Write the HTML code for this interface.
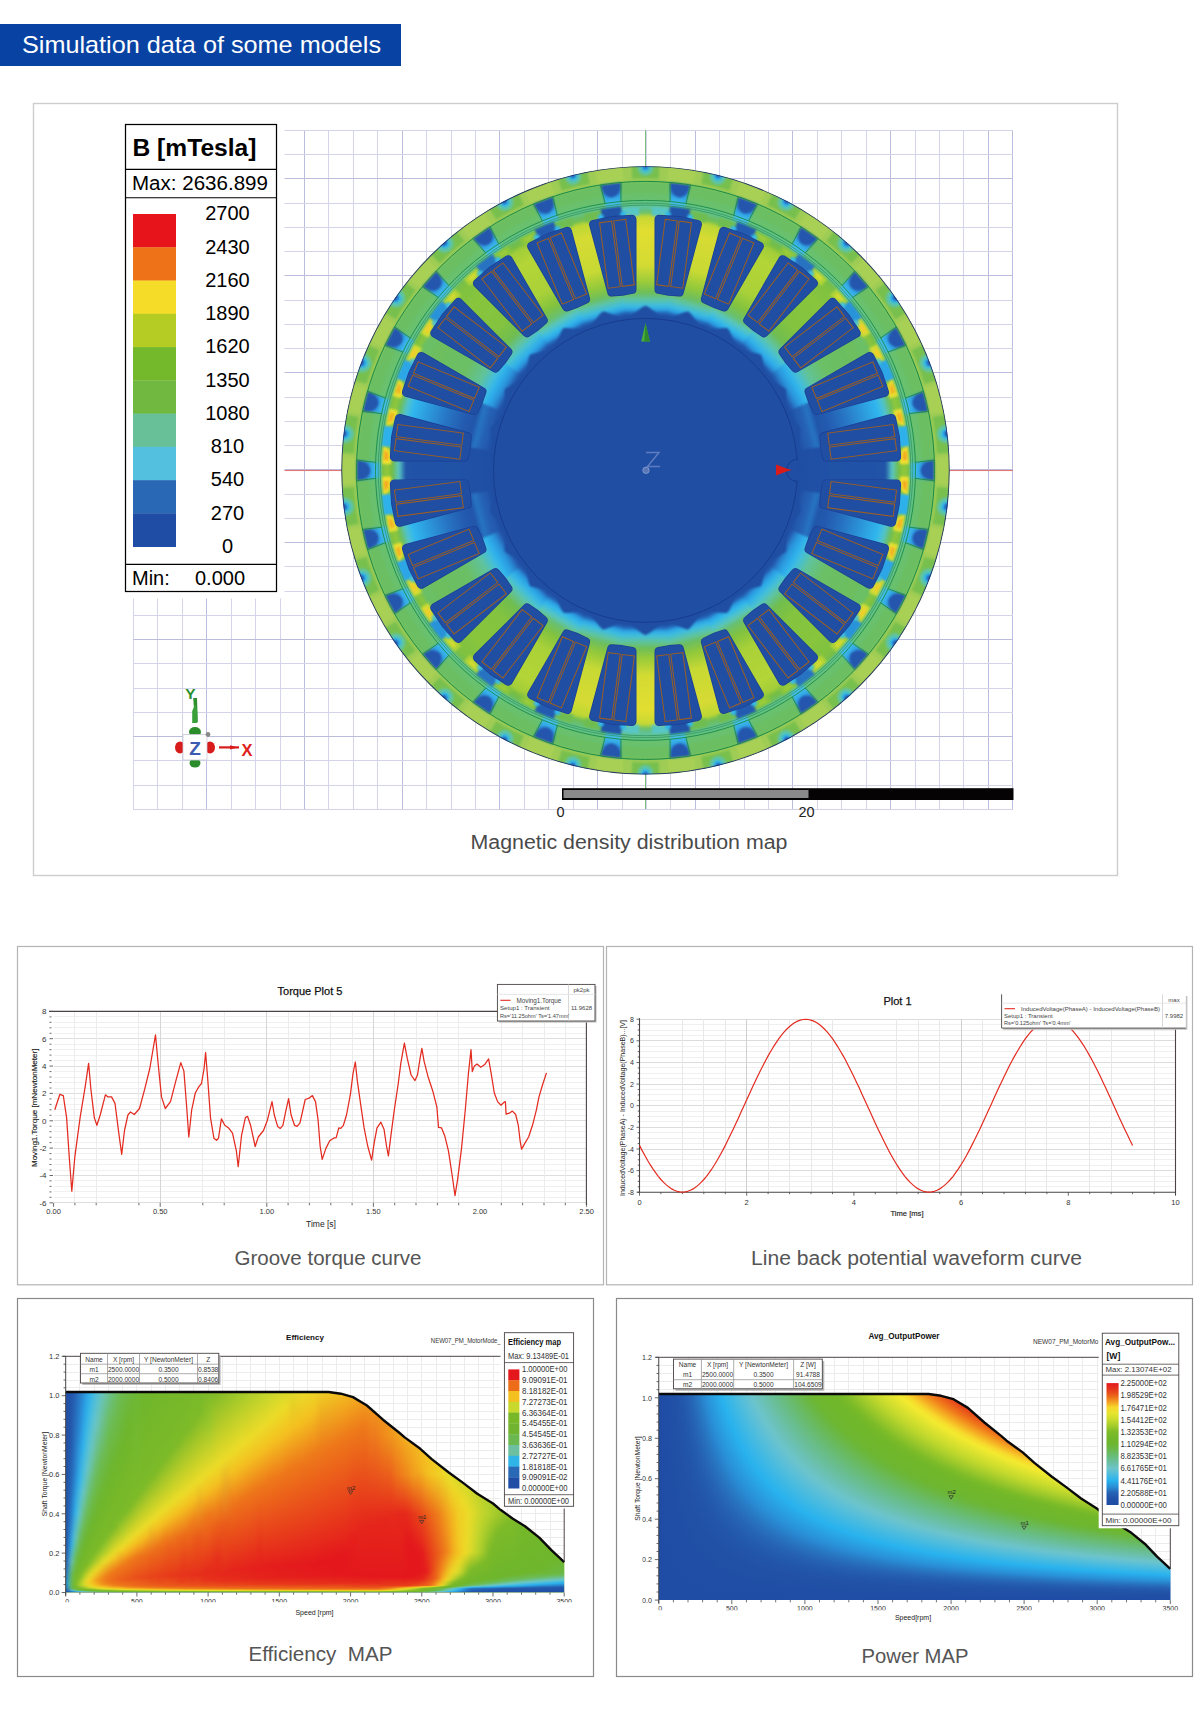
<!DOCTYPE html>
<html><head><meta charset="utf-8"><title>Simulation data of some models</title>
<style>
html,body{margin:0;padding:0;background:#fff;}
body{width:1200px;height:1722px;overflow:hidden;font-family:"Liberation Sans",sans-serif;}
svg{position:absolute;left:0;top:0;display:block;}
text{font-family:"Liberation Sans",sans-serif;}
</style></head><body>
<svg width="1200" height="1722" viewBox="0 0 1200 1722">
<rect x="0" y="0" width="1200" height="1722" fill="#fff"/>
<!-- title banner -->
<rect x="0" y="24" width="401" height="42" fill="#0843a3"/>
<text x="22" y="52.5" font-size="24" fill="#fff" textLength="359" lengthAdjust="spacingAndGlyphs">Simulation data of some models</text>
<rect x="33.5" y="103.5" width="1084" height="772" fill="#fff" stroke="#cdcdcd" stroke-width="1.4"/><g shape-rendering="crispEdges"><line x1="133.4" y1="130.3" x2="133.4" y2="809.4" stroke="#d3d3ea" stroke-width="1"/><line x1="157.8" y1="130.3" x2="157.8" y2="809.4" stroke="#d3d3ea" stroke-width="1"/><line x1="182.3" y1="130.3" x2="182.3" y2="809.4" stroke="#d3d3ea" stroke-width="1"/><line x1="206.7" y1="130.3" x2="206.7" y2="809.4" stroke="#bcbcdd" stroke-width="1"/><line x1="231.1" y1="130.3" x2="231.1" y2="809.4" stroke="#d3d3ea" stroke-width="1"/><line x1="255.5" y1="130.3" x2="255.5" y2="809.4" stroke="#d3d3ea" stroke-width="1"/><line x1="280" y1="130.3" x2="280" y2="809.4" stroke="#d3d3ea" stroke-width="1"/><line x1="304.4" y1="130.3" x2="304.4" y2="809.4" stroke="#bcbcdd" stroke-width="1"/><line x1="328.8" y1="130.3" x2="328.8" y2="809.4" stroke="#d3d3ea" stroke-width="1"/><line x1="353.2" y1="130.3" x2="353.2" y2="809.4" stroke="#d3d3ea" stroke-width="1"/><line x1="377.7" y1="130.3" x2="377.7" y2="809.4" stroke="#d3d3ea" stroke-width="1"/><line x1="402.1" y1="130.3" x2="402.1" y2="809.4" stroke="#bcbcdd" stroke-width="1"/><line x1="426.5" y1="130.3" x2="426.5" y2="809.4" stroke="#d3d3ea" stroke-width="1"/><line x1="451" y1="130.3" x2="451" y2="809.4" stroke="#d3d3ea" stroke-width="1"/><line x1="475.4" y1="130.3" x2="475.4" y2="809.4" stroke="#d3d3ea" stroke-width="1"/><line x1="499.8" y1="130.3" x2="499.8" y2="809.4" stroke="#bcbcdd" stroke-width="1"/><line x1="524.2" y1="130.3" x2="524.2" y2="809.4" stroke="#d3d3ea" stroke-width="1"/><line x1="548.7" y1="130.3" x2="548.7" y2="809.4" stroke="#d3d3ea" stroke-width="1"/><line x1="573.1" y1="130.3" x2="573.1" y2="809.4" stroke="#d3d3ea" stroke-width="1"/><line x1="597.5" y1="130.3" x2="597.5" y2="809.4" stroke="#bcbcdd" stroke-width="1"/><line x1="622" y1="130.3" x2="622" y2="809.4" stroke="#d3d3ea" stroke-width="1"/><line x1="646.4" y1="130.3" x2="646.4" y2="809.4" stroke="#d3d3ea" stroke-width="1"/><line x1="670.8" y1="130.3" x2="670.8" y2="809.4" stroke="#d3d3ea" stroke-width="1"/><line x1="695.2" y1="130.3" x2="695.2" y2="809.4" stroke="#bcbcdd" stroke-width="1"/><line x1="719.7" y1="130.3" x2="719.7" y2="809.4" stroke="#d3d3ea" stroke-width="1"/><line x1="744.1" y1="130.3" x2="744.1" y2="809.4" stroke="#d3d3ea" stroke-width="1"/><line x1="768.5" y1="130.3" x2="768.5" y2="809.4" stroke="#d3d3ea" stroke-width="1"/><line x1="792.9" y1="130.3" x2="792.9" y2="809.4" stroke="#bcbcdd" stroke-width="1"/><line x1="817.4" y1="130.3" x2="817.4" y2="809.4" stroke="#d3d3ea" stroke-width="1"/><line x1="841.8" y1="130.3" x2="841.8" y2="809.4" stroke="#d3d3ea" stroke-width="1"/><line x1="866.2" y1="130.3" x2="866.2" y2="809.4" stroke="#d3d3ea" stroke-width="1"/><line x1="890.7" y1="130.3" x2="890.7" y2="809.4" stroke="#bcbcdd" stroke-width="1"/><line x1="915.1" y1="130.3" x2="915.1" y2="809.4" stroke="#d3d3ea" stroke-width="1"/><line x1="939.5" y1="130.3" x2="939.5" y2="809.4" stroke="#d3d3ea" stroke-width="1"/><line x1="963.9" y1="130.3" x2="963.9" y2="809.4" stroke="#d3d3ea" stroke-width="1"/><line x1="988.4" y1="130.3" x2="988.4" y2="809.4" stroke="#bcbcdd" stroke-width="1"/><line x1="1012.8" y1="130.3" x2="1012.8" y2="809.4" stroke="#bcbcdd" stroke-width="1"/><line x1="133.4" y1="130.3" x2="1012.8" y2="130.3" stroke="#d3d3ea" stroke-width="1"/><line x1="133.4" y1="154.6" x2="1012.8" y2="154.6" stroke="#d3d3ea" stroke-width="1"/><line x1="133.4" y1="178.8" x2="1012.8" y2="178.8" stroke="#bcbcdd" stroke-width="1"/><line x1="133.4" y1="203.1" x2="1012.8" y2="203.1" stroke="#d3d3ea" stroke-width="1"/><line x1="133.4" y1="227.3" x2="1012.8" y2="227.3" stroke="#d3d3ea" stroke-width="1"/><line x1="133.4" y1="251.6" x2="1012.8" y2="251.6" stroke="#d3d3ea" stroke-width="1"/><line x1="133.4" y1="275.8" x2="1012.8" y2="275.8" stroke="#bcbcdd" stroke-width="1"/><line x1="133.4" y1="300.1" x2="1012.8" y2="300.1" stroke="#d3d3ea" stroke-width="1"/><line x1="133.4" y1="324.3" x2="1012.8" y2="324.3" stroke="#d3d3ea" stroke-width="1"/><line x1="133.4" y1="348.6" x2="1012.8" y2="348.6" stroke="#d3d3ea" stroke-width="1"/><line x1="133.4" y1="372.8" x2="1012.8" y2="372.8" stroke="#bcbcdd" stroke-width="1"/><line x1="133.4" y1="397.1" x2="1012.8" y2="397.1" stroke="#d3d3ea" stroke-width="1"/><line x1="133.4" y1="421.3" x2="1012.8" y2="421.3" stroke="#d3d3ea" stroke-width="1"/><line x1="133.4" y1="445.6" x2="1012.8" y2="445.6" stroke="#d3d3ea" stroke-width="1"/><line x1="133.4" y1="469.8" x2="1012.8" y2="469.8" stroke="#bcbcdd" stroke-width="1"/><line x1="133.4" y1="494.1" x2="1012.8" y2="494.1" stroke="#d3d3ea" stroke-width="1"/><line x1="133.4" y1="518.4" x2="1012.8" y2="518.4" stroke="#d3d3ea" stroke-width="1"/><line x1="133.4" y1="542.6" x2="1012.8" y2="542.6" stroke="#bcbcdd" stroke-width="1"/><line x1="133.4" y1="566.9" x2="1012.8" y2="566.9" stroke="#d3d3ea" stroke-width="1"/><line x1="133.4" y1="591.1" x2="1012.8" y2="591.1" stroke="#d3d3ea" stroke-width="1"/><line x1="133.4" y1="615.4" x2="1012.8" y2="615.4" stroke="#d3d3ea" stroke-width="1"/><line x1="133.4" y1="639.6" x2="1012.8" y2="639.6" stroke="#bcbcdd" stroke-width="1"/><line x1="133.4" y1="663.9" x2="1012.8" y2="663.9" stroke="#d3d3ea" stroke-width="1"/><line x1="133.4" y1="688.1" x2="1012.8" y2="688.1" stroke="#d3d3ea" stroke-width="1"/><line x1="133.4" y1="712.4" x2="1012.8" y2="712.4" stroke="#d3d3ea" stroke-width="1"/><line x1="133.4" y1="736.6" x2="1012.8" y2="736.6" stroke="#bcbcdd" stroke-width="1"/><line x1="133.4" y1="760.9" x2="1012.8" y2="760.9" stroke="#d3d3ea" stroke-width="1"/><line x1="133.4" y1="785.1" x2="1012.8" y2="785.1" stroke="#d3d3ea" stroke-width="1"/><line x1="133.4" y1="809.4" x2="1012.8" y2="809.4" stroke="#d3d3ea" stroke-width="1"/></g><line x1="133" y1="470.54999999999995" x2="1013" y2="470.54999999999995" stroke="#e0706c" stroke-width="1"/><line x1="645.5" y1="130" x2="645.5" y2="809" stroke="#78c078" stroke-width="1"/><rect x="120" y="118" width="164.5" height="480.5" fill="#fff"/><defs><filter id="mb" filterUnits="userSpaceOnUse" x="330" y="155" width="632" height="632" color-interpolation-filters="sRGB"><feGaussianBlur stdDeviation="1.3"/></filter><filter id="mb2" filterUnits="userSpaceOnUse" x="330" y="155" width="632" height="632" color-interpolation-filters="sRGB"><feGaussianBlur stdDeviation="2.2"/></filter><clipPath id="mclip"><circle cx="645.5" cy="470.4" r="304.2"/></clipPath><linearGradient id="tg0" gradientUnits="userSpaceOnUse" x1="645.5" y1="205.39999999999998" x2="645.5" y2="320.4"><stop offset="0" stop-color="#5cc4af"/><stop offset="0.06" stop-color="#69c06a"/><stop offset="0.1" stop-color="#c7d934"/><stop offset="0.16" stop-color="#d4db33"/><stop offset="0.22" stop-color="#e2de31"/><stop offset="0.52" stop-color="#d4db33"/><stop offset="0.67" stop-color="#99cb3a"/><stop offset="0.76" stop-color="#6dbe59"/><stop offset="0.81" stop-color="#60c39a"/><stop offset="0.87" stop-color="#40bedf"/><stop offset="0.91" stop-color="#2ca3e4"/><stop offset="0.93" stop-color="#2670c0"/><stop offset="0.96" stop-color="#1f4ea3"/></linearGradient><linearGradient id="tg1" gradientUnits="userSpaceOnUse" x1="645.5" y1="205.39999999999998" x2="645.5" y2="320.4"><stop offset="0" stop-color="#64c184"/><stop offset="0.06" stop-color="#6ebd54"/><stop offset="0.1" stop-color="#bdd735"/><stop offset="0.16" stop-color="#c8d934"/><stop offset="0.22" stop-color="#d6db33"/><stop offset="0.52" stop-color="#c8d934"/><stop offset="0.67" stop-color="#91c83b"/><stop offset="0.76" stop-color="#6cbe5f"/><stop offset="0.81" stop-color="#5ec4a3"/><stop offset="0.87" stop-color="#3dbce2"/><stop offset="0.91" stop-color="#2ba1e3"/><stop offset="0.93" stop-color="#266ebf"/><stop offset="0.96" stop-color="#1f4ea3"/></linearGradient><linearGradient id="tg2" gradientUnits="userSpaceOnUse" x1="645.5" y1="205.39999999999998" x2="645.5" y2="320.4"><stop offset="0" stop-color="#6abf65"/><stop offset="0.06" stop-color="#75bd43"/><stop offset="0.1" stop-color="#a3ce39"/><stop offset="0.16" stop-color="#aad138"/><stop offset="0.22" stop-color="#b4d537"/><stop offset="0.52" stop-color="#aad138"/><stop offset="0.67" stop-color="#81c23f"/><stop offset="0.76" stop-color="#68c070"/><stop offset="0.81" stop-color="#59c6bd"/><stop offset="0.87" stop-color="#33b9ec"/><stop offset="0.91" stop-color="#2a9ae0"/><stop offset="0.93" stop-color="#2669bb"/><stop offset="0.96" stop-color="#1f4ea3"/></linearGradient><linearGradient id="tg3" gradientUnits="userSpaceOnUse" x1="645.5" y1="205.39999999999998" x2="645.5" y2="320.4"><stop offset="0" stop-color="#6fbd53"/><stop offset="0.06" stop-color="#80c140"/><stop offset="0.1" stop-color="#81c23f"/><stop offset="0.16" stop-color="#83c33f"/><stop offset="0.22" stop-color="#88c53d"/><stop offset="0.52" stop-color="#83c33f"/><stop offset="0.67" stop-color="#6fbd50"/><stop offset="0.76" stop-color="#5ec4a7"/><stop offset="0.81" stop-color="#46c0d8"/><stop offset="0.87" stop-color="#2eacea"/><stop offset="0.91" stop-color="#298ad4"/><stop offset="0.93" stop-color="#2560b4"/><stop offset="0.96" stop-color="#1f4ea3"/></linearGradient><linearGradient id="tg4" gradientUnits="userSpaceOnUse" x1="645.5" y1="205.39999999999998" x2="645.5" y2="320.4"><stop offset="0" stop-color="#72bc45"/><stop offset="0.06" stop-color="#88c53d"/><stop offset="0.1" stop-color="#6bbf64"/><stop offset="0.16" stop-color="#6bbf65"/><stop offset="0.22" stop-color="#6cbe5e"/><stop offset="0.52" stop-color="#6bbf65"/><stop offset="0.67" stop-color="#60c39a"/><stop offset="0.76" stop-color="#42bedc"/><stop offset="0.81" stop-color="#2fb1ec"/><stop offset="0.87" stop-color="#2a96dc"/><stop offset="0.91" stop-color="#2774c3"/><stop offset="0.93" stop-color="#245cb0"/><stop offset="0.96" stop-color="#1f4ea3"/></linearGradient><linearGradient id="tg5" gradientUnits="userSpaceOnUse" x1="645.5" y1="205.39999999999998" x2="645.5" y2="320.4"><stop offset="0" stop-color="#77be43"/><stop offset="0.06" stop-color="#8fc73c"/><stop offset="0.1" stop-color="#6ebe55"/><stop offset="0.16" stop-color="#50c3cd"/><stop offset="0.22" stop-color="#30b6ef"/><stop offset="0.52" stop-color="#2774c3"/><stop offset="0.67" stop-color="#235bb0"/><stop offset="0.76" stop-color="#2155aa"/><stop offset="0.81" stop-color="#2774c3"/><stop offset="0.87" stop-color="#2560b4"/><stop offset="0.91" stop-color="#235baf"/><stop offset="0.93" stop-color="#2155aa"/><stop offset="0.96" stop-color="#1f4ea3"/></linearGradient><linearGradient id="tg6" gradientUnits="userSpaceOnUse" x1="645.5" y1="205.39999999999998" x2="645.5" y2="320.4"><stop offset="0" stop-color="#78be42"/><stop offset="0.06" stop-color="#92c83b"/><stop offset="0.1" stop-color="#72bc44"/><stop offset="0.16" stop-color="#58c6c4"/><stop offset="0.22" stop-color="#2153a7"/><stop offset="0.52" stop-color="#2052a7"/><stop offset="0.67" stop-color="#2052a6"/><stop offset="0.76" stop-color="#2051a6"/><stop offset="0.81" stop-color="#2050a5"/><stop offset="0.87" stop-color="#2050a5"/><stop offset="0.91" stop-color="#1f4fa4"/><stop offset="0.93" stop-color="#1f4fa4"/><stop offset="0.96" stop-color="#1f4ea3"/></linearGradient><linearGradient id="gapg" gradientUnits="userSpaceOnUse" x1="645.5" y1="181.39999999999998" x2="645.5" y2="206.59999999999997"><stop offset="0" stop-color="#2a5cb2"/><stop offset="0.3" stop-color="#2a74c8"/><stop offset="0.55" stop-color="#2fa4e6"/><stop offset="0.8" stop-color="#40bcec"/><stop offset="1" stop-color="#58c6cc"/></linearGradient></defs><g clip-path="url(#mclip)"><g filter="url(#mb)"><circle cx="645.5" cy="470.4" r="306.2" fill="#9ecc54"/><path d="M668.51 166.07A305.2 305.2 0 0 1 695.99 169.41L693.31 185.38A289 289 0 0 0 667.28 182.22Z" fill="#a8d054"/><path d="M631.61 164.52A306.2 306.2 0 0 1 659.39 164.52L658.75 178.7A292 292 0 0 0 632.25 178.7Z" fill="#78c04e"/><ellipse cx="645.5" cy="167.2" rx="8" ry="8.5" fill="#5ec4a4" transform="rotate(0 645.5 167.2)"/><ellipse cx="645.5" cy="167.2" rx="4.2" ry="4.6" fill="#30b8f0" transform="rotate(0 645.5 167.2)"/><ellipse cx="645.5" cy="167.2" rx="2.4" ry="1.8" fill="#2560b4" transform="rotate(0 645.5 167.2)"/><path d="M740.67 180.42A305.2 305.2 0 0 1 766.56 190.24L760.13 205.11A289 289 0 0 0 735.62 195.81Z" fill="#a8d054"/><path d="M703.96 169.83A306.2 306.2 0 0 1 733.42 177.09L729.34 190.69A292 292 0 0 0 701.25 183.77Z" fill="#78c04e"/><ellipse cx="718.06" cy="176.01" rx="8.36" ry="8.74" fill="#5ec4a4" transform="rotate(13.85 718.06 176.01)"/><ellipse cx="718.06" cy="176.01" rx="4.44" ry="4.84" fill="#30b8f0" transform="rotate(13.85 718.06 176.01)"/><ellipse cx="718.06" cy="176.01" rx="2.59" ry="1.94" fill="#2560b4" transform="rotate(13.85 718.06 176.01)"/><path d="M807.3 211.62A305.2 305.2 0 0 1 830.09 227.35L820.29 240.25A289 289 0 0 0 798.71 225.36Z" fill="#a8d054"/><path d="M773.1 192.05A306.2 306.2 0 0 1 802.09 207.27L794.83 219.47A292 292 0 0 0 767.18 204.96Z" fill="#78c04e"/><ellipse cx="786.4" cy="201.93" rx="8.7" ry="8.96" fill="#5ec4a4" transform="rotate(27.69 786.4 201.93)"/><ellipse cx="786.4" cy="201.93" rx="4.66" ry="5.06" fill="#30b8f0" transform="rotate(27.69 786.4 201.93)"/><ellipse cx="786.4" cy="201.93" rx="2.77" ry="2.08" fill="#2560b4" transform="rotate(27.69 786.4 201.93)"/><path d="M864.53 257.86A305.2 305.2 0 0 1 882.89 278.59L870.29 288.77A289 289 0 0 0 852.9 269.14Z" fill="#a8d054"/><path d="M835.17 230.02A306.2 306.2 0 0 1 861.27 253.14L851.26 263.21A292 292 0 0 0 826.38 241.17Z" fill="#78c04e"/><ellipse cx="846.56" cy="243.45" rx="8.99" ry="9.16" fill="#5ec4a4" transform="rotate(41.54 846.56 243.45)"/><ellipse cx="846.56" cy="243.45" rx="4.86" ry="5.26" fill="#30b8f0" transform="rotate(41.54 846.56 243.45)"/><ellipse cx="846.56" cy="243.45" rx="2.93" ry="2.2" fill="#2560b4" transform="rotate(41.54 846.56 243.45)"/><path d="M909.03 316.45A305.2 305.2 0 0 1 921.9 340.97L907.23 347.84A289 289 0 0 0 895.04 324.63Z" fill="#a8d054"/><path d="M886.66 281.72A306.2 306.2 0 0 1 907.43 311.81L895.29 319.17A292 292 0 0 0 875.48 290.47Z" fill="#78c04e"/><ellipse cx="895.03" cy="298.16" rx="9.23" ry="9.32" fill="#5ec4a4" transform="rotate(55.38 895.03 298.16)"/><ellipse cx="895.03" cy="298.16" rx="5.02" ry="5.42" fill="#30b8f0" transform="rotate(55.38 895.03 298.16)"/><ellipse cx="895.03" cy="298.16" rx="3.06" ry="2.29" fill="#2560b4" transform="rotate(55.38 895.03 298.16)"/><path d="M938.21 383.99A305.2 305.2 0 0 1 944.84 410.88L928.95 414.04A289 289 0 0 0 922.68 388.58Z" fill="#a8d054"/><path d="M924.56 344.37A306.2 306.2 0 0 1 937.95 379.68L924.39 383.89A292 292 0 0 0 911.62 350.22Z" fill="#78c04e"/><ellipse cx="929" cy="362.88" rx="9.4" ry="9.44" fill="#5ec4a4" transform="rotate(69.23 929 362.88)"/><ellipse cx="929" cy="362.88" rx="5.14" ry="5.54" fill="#30b8f0" transform="rotate(69.23 929 362.88)"/><ellipse cx="929" cy="362.88" rx="3.15" ry="2.36" fill="#2560b4" transform="rotate(69.23 929 362.88)"/><path d="M950.39 456.56A305.2 305.2 0 0 1 950.39 484.24L934.2 483.51A289 289 0 0 0 934.2 457.29Z" fill="#a8d054"/><path d="M946.56 414.52A306.2 306.2 0 0 1 951.18 452.61L937.01 453.44A292 292 0 0 0 932.6 417.11Z" fill="#78c04e"/><ellipse cx="946.49" cy="433.85" rx="9.49" ry="9.49" fill="#5ec4a4" transform="rotate(83.08 946.49 433.85)"/><ellipse cx="946.49" cy="433.85" rx="5.19" ry="5.59" fill="#30b8f0" transform="rotate(83.08 946.49 433.85)"/><ellipse cx="946.49" cy="433.85" rx="3.19" ry="2.4" fill="#2560b4" transform="rotate(83.08 946.49 433.85)"/><path d="M944.84 529.92A305.2 305.2 0 0 1 938.21 556.81L922.68 552.22A289 289 0 0 0 928.95 526.76Z" fill="#a8d054"/><path d="M951.18 488.19A306.2 306.2 0 0 1 946.56 526.28L932.6 523.69A292 292 0 0 0 937.01 487.36Z" fill="#78c04e"/><ellipse cx="946.49" cy="506.95" rx="9.49" ry="9.49" fill="#5ec4a4" transform="rotate(96.92 946.49 506.95)"/><ellipse cx="946.49" cy="506.95" rx="5.19" ry="5.59" fill="#30b8f0" transform="rotate(96.92 946.49 506.95)"/><ellipse cx="946.49" cy="506.95" rx="3.19" ry="2.4" fill="#2560b4" transform="rotate(96.92 946.49 506.95)"/><path d="M921.9 599.83A305.2 305.2 0 0 1 909.03 624.35L895.04 616.17A289 289 0 0 0 907.23 592.96Z" fill="#a8d054"/><path d="M937.95 561.12A306.2 306.2 0 0 1 924.56 596.43L911.62 590.58A292 292 0 0 0 924.39 556.91Z" fill="#78c04e"/><ellipse cx="929" cy="577.92" rx="9.4" ry="9.44" fill="#5ec4a4" transform="rotate(110.77 929 577.92)"/><ellipse cx="929" cy="577.92" rx="5.14" ry="5.54" fill="#30b8f0" transform="rotate(110.77 929 577.92)"/><ellipse cx="929" cy="577.92" rx="3.15" ry="2.36" fill="#2560b4" transform="rotate(110.77 929 577.92)"/><path d="M882.89 662.21A305.2 305.2 0 0 1 864.53 682.94L852.9 671.66A289 289 0 0 0 870.29 652.03Z" fill="#a8d054"/><path d="M907.43 628.99A306.2 306.2 0 0 1 886.66 659.08L875.48 650.33A292 292 0 0 0 895.29 621.63Z" fill="#78c04e"/><ellipse cx="895.03" cy="642.64" rx="9.23" ry="9.32" fill="#5ec4a4" transform="rotate(124.62 895.03 642.64)"/><ellipse cx="895.03" cy="642.64" rx="5.02" ry="5.42" fill="#30b8f0" transform="rotate(124.62 895.03 642.64)"/><ellipse cx="895.03" cy="642.64" rx="3.06" ry="2.29" fill="#2560b4" transform="rotate(124.62 895.03 642.64)"/><path d="M830.09 713.45A305.2 305.2 0 0 1 807.3 729.18L798.71 715.44A289 289 0 0 0 820.29 700.55Z" fill="#a8d054"/><path d="M861.27 687.66A306.2 306.2 0 0 1 835.17 710.78L826.38 699.63A292 292 0 0 0 851.26 677.59Z" fill="#78c04e"/><ellipse cx="846.56" cy="697.35" rx="8.99" ry="9.16" fill="#5ec4a4" transform="rotate(138.46 846.56 697.35)"/><ellipse cx="846.56" cy="697.35" rx="4.86" ry="5.26" fill="#30b8f0" transform="rotate(138.46 846.56 697.35)"/><ellipse cx="846.56" cy="697.35" rx="2.93" ry="2.2" fill="#2560b4" transform="rotate(138.46 846.56 697.35)"/><path d="M766.56 750.56A305.2 305.2 0 0 1 740.67 760.38L735.62 744.99A289 289 0 0 0 760.13 735.69Z" fill="#a8d054"/><path d="M802.09 733.53A306.2 306.2 0 0 1 773.1 748.75L767.18 735.84A292 292 0 0 0 794.83 721.33Z" fill="#78c04e"/><ellipse cx="786.4" cy="738.87" rx="8.7" ry="8.96" fill="#5ec4a4" transform="rotate(152.31 786.4 738.87)"/><ellipse cx="786.4" cy="738.87" rx="4.66" ry="5.06" fill="#30b8f0" transform="rotate(152.31 786.4 738.87)"/><ellipse cx="786.4" cy="738.87" rx="2.77" ry="2.08" fill="#2560b4" transform="rotate(152.31 786.4 738.87)"/><path d="M695.99 771.39A305.2 305.2 0 0 1 668.51 774.73L667.28 758.58A289 289 0 0 0 693.31 755.42Z" fill="#a8d054"/><path d="M733.42 763.71A306.2 306.2 0 0 1 703.96 770.97L701.25 757.03A292 292 0 0 0 729.34 750.11Z" fill="#78c04e"/><ellipse cx="718.06" cy="764.79" rx="8.36" ry="8.74" fill="#5ec4a4" transform="rotate(166.15 718.06 764.79)"/><ellipse cx="718.06" cy="764.79" rx="4.44" ry="4.84" fill="#30b8f0" transform="rotate(166.15 718.06 764.79)"/><ellipse cx="718.06" cy="764.79" rx="2.59" ry="1.94" fill="#2560b4" transform="rotate(166.15 718.06 764.79)"/><path d="M622.49 774.73A305.2 305.2 0 0 1 595.01 771.39L597.69 755.42A289 289 0 0 0 623.72 758.58Z" fill="#a8d054"/><path d="M659.39 776.28A306.2 306.2 0 0 1 631.61 776.28L632.25 762.1A292 292 0 0 0 658.75 762.1Z" fill="#78c04e"/><ellipse cx="645.5" cy="773.6" rx="8" ry="8.5" fill="#5ec4a4" transform="rotate(180 645.5 773.6)"/><ellipse cx="645.5" cy="773.6" rx="4.2" ry="4.6" fill="#30b8f0" transform="rotate(180 645.5 773.6)"/><ellipse cx="645.5" cy="773.6" rx="2.4" ry="1.8" fill="#2560b4" transform="rotate(180 645.5 773.6)"/><path d="M550.33 760.38A305.2 305.2 0 0 1 524.44 750.56L530.87 735.69A289 289 0 0 0 555.38 744.99Z" fill="#a8d054"/><path d="M587.04 770.97A306.2 306.2 0 0 1 557.58 763.71L561.66 750.11A292 292 0 0 0 589.75 757.03Z" fill="#78c04e"/><ellipse cx="572.94" cy="764.79" rx="8.36" ry="8.74" fill="#5ec4a4" transform="rotate(193.85 572.94 764.79)"/><ellipse cx="572.94" cy="764.79" rx="4.44" ry="4.84" fill="#30b8f0" transform="rotate(193.85 572.94 764.79)"/><ellipse cx="572.94" cy="764.79" rx="2.59" ry="1.94" fill="#2560b4" transform="rotate(193.85 572.94 764.79)"/><path d="M483.7 729.18A305.2 305.2 0 0 1 460.91 713.45L470.71 700.55A289 289 0 0 0 492.29 715.44Z" fill="#a8d054"/><path d="M517.9 748.75A306.2 306.2 0 0 1 488.91 733.53L496.17 721.33A292 292 0 0 0 523.82 735.84Z" fill="#78c04e"/><ellipse cx="504.6" cy="738.87" rx="8.7" ry="8.96" fill="#5ec4a4" transform="rotate(207.69 504.6 738.87)"/><ellipse cx="504.6" cy="738.87" rx="4.66" ry="5.06" fill="#30b8f0" transform="rotate(207.69 504.6 738.87)"/><ellipse cx="504.6" cy="738.87" rx="2.77" ry="2.08" fill="#2560b4" transform="rotate(207.69 504.6 738.87)"/><path d="M426.47 682.94A305.2 305.2 0 0 1 408.11 662.21L420.71 652.03A289 289 0 0 0 438.1 671.66Z" fill="#a8d054"/><path d="M455.83 710.78A306.2 306.2 0 0 1 429.73 687.66L439.74 677.59A292 292 0 0 0 464.62 699.63Z" fill="#78c04e"/><ellipse cx="444.44" cy="697.35" rx="8.99" ry="9.16" fill="#5ec4a4" transform="rotate(221.54 444.44 697.35)"/><ellipse cx="444.44" cy="697.35" rx="4.86" ry="5.26" fill="#30b8f0" transform="rotate(221.54 444.44 697.35)"/><ellipse cx="444.44" cy="697.35" rx="2.93" ry="2.2" fill="#2560b4" transform="rotate(221.54 444.44 697.35)"/><path d="M381.97 624.35A305.2 305.2 0 0 1 369.1 599.83L383.77 592.96A289 289 0 0 0 395.96 616.17Z" fill="#a8d054"/><path d="M404.34 659.08A306.2 306.2 0 0 1 383.57 628.99L395.71 621.63A292 292 0 0 0 415.52 650.33Z" fill="#78c04e"/><ellipse cx="395.97" cy="642.64" rx="9.23" ry="9.32" fill="#5ec4a4" transform="rotate(235.38 395.97 642.64)"/><ellipse cx="395.97" cy="642.64" rx="5.02" ry="5.42" fill="#30b8f0" transform="rotate(235.38 395.97 642.64)"/><ellipse cx="395.97" cy="642.64" rx="3.06" ry="2.29" fill="#2560b4" transform="rotate(235.38 395.97 642.64)"/><path d="M352.79 556.81A305.2 305.2 0 0 1 346.16 529.92L362.05 526.76A289 289 0 0 0 368.32 552.22Z" fill="#a8d054"/><path d="M366.44 596.43A306.2 306.2 0 0 1 353.05 561.12L366.61 556.91A292 292 0 0 0 379.38 590.58Z" fill="#78c04e"/><ellipse cx="362" cy="577.92" rx="9.4" ry="9.44" fill="#5ec4a4" transform="rotate(249.23 362 577.92)"/><ellipse cx="362" cy="577.92" rx="5.14" ry="5.54" fill="#30b8f0" transform="rotate(249.23 362 577.92)"/><ellipse cx="362" cy="577.92" rx="3.15" ry="2.36" fill="#2560b4" transform="rotate(249.23 362 577.92)"/><path d="M340.61 484.24A305.2 305.2 0 0 1 340.61 456.56L356.8 457.29A289 289 0 0 0 356.8 483.51Z" fill="#a8d054"/><path d="M344.44 526.28A306.2 306.2 0 0 1 339.82 488.19L353.99 487.36A292 292 0 0 0 358.4 523.69Z" fill="#78c04e"/><ellipse cx="344.51" cy="506.95" rx="9.49" ry="9.49" fill="#5ec4a4" transform="rotate(263.08 344.51 506.95)"/><ellipse cx="344.51" cy="506.95" rx="5.19" ry="5.59" fill="#30b8f0" transform="rotate(263.08 344.51 506.95)"/><ellipse cx="344.51" cy="506.95" rx="3.19" ry="2.4" fill="#2560b4" transform="rotate(263.08 344.51 506.95)"/><path d="M346.16 410.88A305.2 305.2 0 0 1 352.79 383.99L368.32 388.58A289 289 0 0 0 362.05 414.04Z" fill="#a8d054"/><path d="M339.82 452.61A306.2 306.2 0 0 1 344.44 414.52L358.4 417.11A292 292 0 0 0 353.99 453.44Z" fill="#78c04e"/><ellipse cx="344.51" cy="433.85" rx="9.49" ry="9.49" fill="#5ec4a4" transform="rotate(276.92 344.51 433.85)"/><ellipse cx="344.51" cy="433.85" rx="5.19" ry="5.59" fill="#30b8f0" transform="rotate(276.92 344.51 433.85)"/><ellipse cx="344.51" cy="433.85" rx="3.19" ry="2.4" fill="#2560b4" transform="rotate(276.92 344.51 433.85)"/><path d="M369.1 340.97A305.2 305.2 0 0 1 381.97 316.45L395.96 324.63A289 289 0 0 0 383.77 347.84Z" fill="#a8d054"/><path d="M353.05 379.68A306.2 306.2 0 0 1 366.44 344.37L379.38 350.22A292 292 0 0 0 366.61 383.89Z" fill="#78c04e"/><ellipse cx="362" cy="362.88" rx="9.4" ry="9.44" fill="#5ec4a4" transform="rotate(290.77 362 362.88)"/><ellipse cx="362" cy="362.88" rx="5.14" ry="5.54" fill="#30b8f0" transform="rotate(290.77 362 362.88)"/><ellipse cx="362" cy="362.88" rx="3.15" ry="2.36" fill="#2560b4" transform="rotate(290.77 362 362.88)"/><path d="M408.11 278.59A305.2 305.2 0 0 1 426.47 257.86L438.1 269.14A289 289 0 0 0 420.71 288.77Z" fill="#a8d054"/><path d="M383.57 311.81A306.2 306.2 0 0 1 404.34 281.72L415.52 290.47A292 292 0 0 0 395.71 319.17Z" fill="#78c04e"/><ellipse cx="395.97" cy="298.16" rx="9.23" ry="9.32" fill="#5ec4a4" transform="rotate(304.62 395.97 298.16)"/><ellipse cx="395.97" cy="298.16" rx="5.02" ry="5.42" fill="#30b8f0" transform="rotate(304.62 395.97 298.16)"/><ellipse cx="395.97" cy="298.16" rx="3.06" ry="2.29" fill="#2560b4" transform="rotate(304.62 395.97 298.16)"/><path d="M460.91 227.35A305.2 305.2 0 0 1 483.7 211.62L492.29 225.36A289 289 0 0 0 470.71 240.25Z" fill="#a8d054"/><path d="M429.73 253.14A306.2 306.2 0 0 1 455.83 230.02L464.62 241.17A292 292 0 0 0 439.74 263.21Z" fill="#78c04e"/><ellipse cx="444.44" cy="243.45" rx="8.99" ry="9.16" fill="#5ec4a4" transform="rotate(318.46 444.44 243.45)"/><ellipse cx="444.44" cy="243.45" rx="4.86" ry="5.26" fill="#30b8f0" transform="rotate(318.46 444.44 243.45)"/><ellipse cx="444.44" cy="243.45" rx="2.93" ry="2.2" fill="#2560b4" transform="rotate(318.46 444.44 243.45)"/><path d="M524.44 190.24A305.2 305.2 0 0 1 550.33 180.42L555.38 195.81A289 289 0 0 0 530.87 205.11Z" fill="#a8d054"/><path d="M488.91 207.27A306.2 306.2 0 0 1 517.9 192.05L523.82 204.96A292 292 0 0 0 496.17 219.47Z" fill="#78c04e"/><ellipse cx="504.6" cy="201.93" rx="8.7" ry="8.96" fill="#5ec4a4" transform="rotate(332.31 504.6 201.93)"/><ellipse cx="504.6" cy="201.93" rx="4.66" ry="5.06" fill="#30b8f0" transform="rotate(332.31 504.6 201.93)"/><ellipse cx="504.6" cy="201.93" rx="2.77" ry="2.08" fill="#2560b4" transform="rotate(332.31 504.6 201.93)"/><path d="M595.01 169.41A305.2 305.2 0 0 1 622.49 166.07L623.72 182.22A289 289 0 0 0 597.69 185.38Z" fill="#a8d054"/><path d="M557.58 177.09A306.2 306.2 0 0 1 587.04 169.83L589.75 183.77A292 292 0 0 0 561.66 190.69Z" fill="#78c04e"/><ellipse cx="572.94" cy="176.01" rx="8.36" ry="8.74" fill="#5ec4a4" transform="rotate(346.15 572.94 176.01)"/><ellipse cx="572.94" cy="176.01" rx="4.44" ry="4.84" fill="#30b8f0" transform="rotate(346.15 572.94 176.01)"/><ellipse cx="572.94" cy="176.01" rx="2.59" ry="1.94" fill="#2560b4" transform="rotate(346.15 572.94 176.01)"/><circle cx="645.5" cy="470.4" r="289.0" fill="#6bbf62"/><circle cx="645.5" cy="470.4" r="277.0" fill="#69c06d"/><circle cx="645.5" cy="470.4" r="270.0" fill="#64c285"/><g transform="rotate(6.92 645.5 470.4)"><path d="M635.21 181.58L655.79 181.58L652.86 205.7L638.14 205.7Z" fill="url(#gapg)"/><path d="M635.7 181.9A9.8 13.5 0 0 0 655.3 181.9Z" fill="#2456ae"/></g><g transform="rotate(20.77 645.5 470.4)"><path d="M635.21 181.58L655.79 181.58L652.86 205.7L638.14 205.7Z" fill="url(#gapg)"/><path d="M635.7 181.9A9.8 13.5 0 0 0 655.3 181.9Z" fill="#2456ae"/></g><g transform="rotate(34.62 645.5 470.4)"><path d="M635.21 181.58L655.79 181.58L652.86 205.7L638.14 205.7Z" fill="url(#gapg)"/><path d="M635.7 181.9A9.8 13.5 0 0 0 655.3 181.9Z" fill="#2456ae"/></g><g transform="rotate(48.46 645.5 470.4)"><path d="M635.21 181.58L655.79 181.58L652.86 205.7L638.14 205.7Z" fill="url(#gapg)"/><path d="M635.7 181.9A9.8 13.5 0 0 0 655.3 181.9Z" fill="#2456ae"/></g><g transform="rotate(62.31 645.5 470.4)"><path d="M635.21 181.58L655.79 181.58L652.86 205.7L638.14 205.7Z" fill="url(#gapg)"/><path d="M635.7 181.9A9.8 13.5 0 0 0 655.3 181.9Z" fill="#2456ae"/></g><g transform="rotate(76.15 645.5 470.4)"><path d="M635.21 181.58L655.79 181.58L652.86 205.7L638.14 205.7Z" fill="url(#gapg)"/><path d="M635.7 181.9A9.8 13.5 0 0 0 655.3 181.9Z" fill="#2456ae"/></g><g transform="rotate(90 645.5 470.4)"><path d="M635.21 181.58L655.79 181.58L652.86 205.7L638.14 205.7Z" fill="url(#gapg)"/><path d="M635.7 181.9A9.8 13.5 0 0 0 655.3 181.9Z" fill="#2456ae"/></g><g transform="rotate(103.85 645.5 470.4)"><path d="M635.21 181.58L655.79 181.58L652.86 205.7L638.14 205.7Z" fill="url(#gapg)"/><path d="M635.7 181.9A9.8 13.5 0 0 0 655.3 181.9Z" fill="#2456ae"/></g><g transform="rotate(117.69 645.5 470.4)"><path d="M635.21 181.58L655.79 181.58L652.86 205.7L638.14 205.7Z" fill="url(#gapg)"/><path d="M635.7 181.9A9.8 13.5 0 0 0 655.3 181.9Z" fill="#2456ae"/></g><g transform="rotate(131.54 645.5 470.4)"><path d="M635.21 181.58L655.79 181.58L652.86 205.7L638.14 205.7Z" fill="url(#gapg)"/><path d="M635.7 181.9A9.8 13.5 0 0 0 655.3 181.9Z" fill="#2456ae"/></g><g transform="rotate(145.38 645.5 470.4)"><path d="M635.21 181.58L655.79 181.58L652.86 205.7L638.14 205.7Z" fill="url(#gapg)"/><path d="M635.7 181.9A9.8 13.5 0 0 0 655.3 181.9Z" fill="#2456ae"/></g><g transform="rotate(159.23 645.5 470.4)"><path d="M635.21 181.58L655.79 181.58L652.86 205.7L638.14 205.7Z" fill="url(#gapg)"/><path d="M635.7 181.9A9.8 13.5 0 0 0 655.3 181.9Z" fill="#2456ae"/></g><g transform="rotate(173.08 645.5 470.4)"><path d="M635.21 181.58L655.79 181.58L652.86 205.7L638.14 205.7Z" fill="url(#gapg)"/><path d="M635.7 181.9A9.8 13.5 0 0 0 655.3 181.9Z" fill="#2456ae"/></g><g transform="rotate(186.92 645.5 470.4)"><path d="M635.21 181.58L655.79 181.58L652.86 205.7L638.14 205.7Z" fill="url(#gapg)"/><path d="M635.7 181.9A9.8 13.5 0 0 0 655.3 181.9Z" fill="#2456ae"/></g><g transform="rotate(200.77 645.5 470.4)"><path d="M635.21 181.58L655.79 181.58L652.86 205.7L638.14 205.7Z" fill="url(#gapg)"/><path d="M635.7 181.9A9.8 13.5 0 0 0 655.3 181.9Z" fill="#2456ae"/></g><g transform="rotate(214.62 645.5 470.4)"><path d="M635.21 181.58L655.79 181.58L652.86 205.7L638.14 205.7Z" fill="url(#gapg)"/><path d="M635.7 181.9A9.8 13.5 0 0 0 655.3 181.9Z" fill="#2456ae"/></g><g transform="rotate(228.46 645.5 470.4)"><path d="M635.21 181.58L655.79 181.58L652.86 205.7L638.14 205.7Z" fill="url(#gapg)"/><path d="M635.7 181.9A9.8 13.5 0 0 0 655.3 181.9Z" fill="#2456ae"/></g><g transform="rotate(242.31 645.5 470.4)"><path d="M635.21 181.58L655.79 181.58L652.86 205.7L638.14 205.7Z" fill="url(#gapg)"/><path d="M635.7 181.9A9.8 13.5 0 0 0 655.3 181.9Z" fill="#2456ae"/></g><g transform="rotate(256.15 645.5 470.4)"><path d="M635.21 181.58L655.79 181.58L652.86 205.7L638.14 205.7Z" fill="url(#gapg)"/><path d="M635.7 181.9A9.8 13.5 0 0 0 655.3 181.9Z" fill="#2456ae"/></g><g transform="rotate(270 645.5 470.4)"><path d="M635.21 181.58L655.79 181.58L652.86 205.7L638.14 205.7Z" fill="url(#gapg)"/><path d="M635.7 181.9A9.8 13.5 0 0 0 655.3 181.9Z" fill="#2456ae"/></g><g transform="rotate(283.85 645.5 470.4)"><path d="M635.21 181.58L655.79 181.58L652.86 205.7L638.14 205.7Z" fill="url(#gapg)"/><path d="M635.7 181.9A9.8 13.5 0 0 0 655.3 181.9Z" fill="#2456ae"/></g><g transform="rotate(297.69 645.5 470.4)"><path d="M635.21 181.58L655.79 181.58L652.86 205.7L638.14 205.7Z" fill="url(#gapg)"/><path d="M635.7 181.9A9.8 13.5 0 0 0 655.3 181.9Z" fill="#2456ae"/></g><g transform="rotate(311.54 645.5 470.4)"><path d="M635.21 181.58L655.79 181.58L652.86 205.7L638.14 205.7Z" fill="url(#gapg)"/><path d="M635.7 181.9A9.8 13.5 0 0 0 655.3 181.9Z" fill="#2456ae"/></g><g transform="rotate(325.38 645.5 470.4)"><path d="M635.21 181.58L655.79 181.58L652.86 205.7L638.14 205.7Z" fill="url(#gapg)"/><path d="M635.7 181.9A9.8 13.5 0 0 0 655.3 181.9Z" fill="#2456ae"/></g><g transform="rotate(339.23 645.5 470.4)"><path d="M635.21 181.58L655.79 181.58L652.86 205.7L638.14 205.7Z" fill="url(#gapg)"/><path d="M635.7 181.9A9.8 13.5 0 0 0 655.3 181.9Z" fill="#2456ae"/></g><g transform="rotate(353.08 645.5 470.4)"><path d="M635.21 181.58L655.79 181.58L652.86 205.7L638.14 205.7Z" fill="url(#gapg)"/><path d="M635.7 181.9A9.8 13.5 0 0 0 655.3 181.9Z" fill="#2456ae"/></g><g transform="rotate(0 645.5 470.4)"><path d="M610.54 208.42A264.3 264.3 0 0 1 680.46 208.42L665.34 321.72A150 150 0 0 0 625.66 321.72Z" fill="url(#tg0)"/></g><g transform="rotate(15 645.5 470.4)"><path d="M610.54 208.42A264.3 264.3 0 0 1 680.46 208.42L665.34 321.72A150 150 0 0 0 625.66 321.72Z" fill="url(#tg1)"/></g><g transform="rotate(30 645.5 470.4)"><path d="M610.54 208.42A264.3 264.3 0 0 1 680.46 208.42L665.34 321.72A150 150 0 0 0 625.66 321.72Z" fill="url(#tg2)"/></g><g transform="rotate(45 645.5 470.4)"><path d="M610.54 208.42A264.3 264.3 0 0 1 680.46 208.42L665.34 321.72A150 150 0 0 0 625.66 321.72Z" fill="url(#tg3)"/></g><g transform="rotate(60 645.5 470.4)"><path d="M610.54 208.42A264.3 264.3 0 0 1 680.46 208.42L665.34 321.72A150 150 0 0 0 625.66 321.72Z" fill="url(#tg4)"/></g><g transform="rotate(75 645.5 470.4)"><path d="M610.54 208.42A264.3 264.3 0 0 1 680.46 208.42L665.34 321.72A150 150 0 0 0 625.66 321.72Z" fill="url(#tg5)"/></g><g transform="rotate(90 645.5 470.4)"><path d="M610.54 208.42A264.3 264.3 0 0 1 680.46 208.42L665.34 321.72A150 150 0 0 0 625.66 321.72Z" fill="url(#tg6)"/></g><g transform="rotate(105 645.5 470.4)"><path d="M610.54 208.42A264.3 264.3 0 0 1 680.46 208.42L665.34 321.72A150 150 0 0 0 625.66 321.72Z" fill="url(#tg5)"/></g><g transform="rotate(120 645.5 470.4)"><path d="M610.54 208.42A264.3 264.3 0 0 1 680.46 208.42L665.34 321.72A150 150 0 0 0 625.66 321.72Z" fill="url(#tg4)"/></g><g transform="rotate(135 645.5 470.4)"><path d="M610.54 208.42A264.3 264.3 0 0 1 680.46 208.42L665.34 321.72A150 150 0 0 0 625.66 321.72Z" fill="url(#tg3)"/></g><g transform="rotate(150 645.5 470.4)"><path d="M610.54 208.42A264.3 264.3 0 0 1 680.46 208.42L665.34 321.72A150 150 0 0 0 625.66 321.72Z" fill="url(#tg2)"/></g><g transform="rotate(165 645.5 470.4)"><path d="M610.54 208.42A264.3 264.3 0 0 1 680.46 208.42L665.34 321.72A150 150 0 0 0 625.66 321.72Z" fill="url(#tg1)"/></g><g transform="rotate(180 645.5 470.4)"><path d="M610.54 208.42A264.3 264.3 0 0 1 680.46 208.42L665.34 321.72A150 150 0 0 0 625.66 321.72Z" fill="url(#tg0)"/></g><g transform="rotate(195 645.5 470.4)"><path d="M610.54 208.42A264.3 264.3 0 0 1 680.46 208.42L665.34 321.72A150 150 0 0 0 625.66 321.72Z" fill="url(#tg1)"/></g><g transform="rotate(210 645.5 470.4)"><path d="M610.54 208.42A264.3 264.3 0 0 1 680.46 208.42L665.34 321.72A150 150 0 0 0 625.66 321.72Z" fill="url(#tg2)"/></g><g transform="rotate(225 645.5 470.4)"><path d="M610.54 208.42A264.3 264.3 0 0 1 680.46 208.42L665.34 321.72A150 150 0 0 0 625.66 321.72Z" fill="url(#tg3)"/></g><g transform="rotate(240 645.5 470.4)"><path d="M610.54 208.42A264.3 264.3 0 0 1 680.46 208.42L665.34 321.72A150 150 0 0 0 625.66 321.72Z" fill="url(#tg4)"/></g><g transform="rotate(255 645.5 470.4)"><path d="M610.54 208.42A264.3 264.3 0 0 1 680.46 208.42L665.34 321.72A150 150 0 0 0 625.66 321.72Z" fill="url(#tg5)"/></g><g transform="rotate(270 645.5 470.4)"><path d="M610.54 208.42A264.3 264.3 0 0 1 680.46 208.42L665.34 321.72A150 150 0 0 0 625.66 321.72Z" fill="url(#tg6)"/></g><g transform="rotate(285 645.5 470.4)"><path d="M610.54 208.42A264.3 264.3 0 0 1 680.46 208.42L665.34 321.72A150 150 0 0 0 625.66 321.72Z" fill="url(#tg5)"/></g><g transform="rotate(300 645.5 470.4)"><path d="M610.54 208.42A264.3 264.3 0 0 1 680.46 208.42L665.34 321.72A150 150 0 0 0 625.66 321.72Z" fill="url(#tg4)"/></g><g transform="rotate(315 645.5 470.4)"><path d="M610.54 208.42A264.3 264.3 0 0 1 680.46 208.42L665.34 321.72A150 150 0 0 0 625.66 321.72Z" fill="url(#tg3)"/></g><g transform="rotate(330 645.5 470.4)"><path d="M610.54 208.42A264.3 264.3 0 0 1 680.46 208.42L665.34 321.72A150 150 0 0 0 625.66 321.72Z" fill="url(#tg2)"/></g><g transform="rotate(345 645.5 470.4)"><path d="M610.54 208.42A264.3 264.3 0 0 1 680.46 208.42L665.34 321.72A150 150 0 0 0 625.66 321.72Z" fill="url(#tg1)"/></g><path d="M669.78 206.21A265.3 265.3 0 0 1 690.43 208.93L688.51 220.07A254 254 0 0 0 668.74 217.47Z" fill="#2153a8"/><path d="M737.32 221.5A265.3 265.3 0 0 1 756.57 229.47L751.84 239.73A254 254 0 0 0 733.41 232.1Z" fill="#235bb0"/><path d="M798.62 253.74A265.3 265.3 0 0 1 815.14 266.43L807.92 275.11A254 254 0 0 0 792.09 262.97Z" fill="#2773c2"/><path d="M849.47 300.76A265.3 265.3 0 0 1 862.16 317.28L852.93 323.81A254 254 0 0 0 840.79 307.98Z" fill="#2993da"/><path d="M886.43 359.33A265.3 265.3 0 0 1 894.4 378.58L883.8 382.49A254 254 0 0 0 876.17 364.06Z" fill="#2ca6e6"/><path d="M906.97 425.47A265.3 265.3 0 0 1 909.69 446.12L898.43 447.16A254 254 0 0 0 895.83 427.39Z" fill="#2eb0eb"/><path d="M909.69 494.68A265.3 265.3 0 0 1 906.97 515.33L895.83 513.41A254 254 0 0 0 898.43 493.64Z" fill="#2eb0eb"/><path d="M894.4 562.22A265.3 265.3 0 0 1 886.43 581.47L876.17 576.74A254 254 0 0 0 883.8 558.31Z" fill="#2ca6e6"/><path d="M862.16 623.52A265.3 265.3 0 0 1 849.47 640.04L840.79 632.82A254 254 0 0 0 852.93 616.99Z" fill="#2993da"/><path d="M815.14 674.37A265.3 265.3 0 0 1 798.62 687.06L792.09 677.83A254 254 0 0 0 807.92 665.69Z" fill="#2773c2"/><path d="M756.57 711.33A265.3 265.3 0 0 1 737.32 719.3L733.41 708.7A254 254 0 0 0 751.84 701.07Z" fill="#235bb0"/><path d="M690.43 731.87A265.3 265.3 0 0 1 669.78 734.59L668.74 723.33A254 254 0 0 0 688.51 720.73Z" fill="#2153a8"/><path d="M621.22 734.59A265.3 265.3 0 0 1 600.57 731.87L602.49 720.73A254 254 0 0 0 622.26 723.33Z" fill="#2153a8"/><path d="M553.68 719.3A265.3 265.3 0 0 1 534.43 711.33L539.16 701.07A254 254 0 0 0 557.59 708.7Z" fill="#235bb0"/><path d="M492.38 687.06A265.3 265.3 0 0 1 475.86 674.37L483.08 665.69A254 254 0 0 0 498.91 677.83Z" fill="#2773c2"/><path d="M441.53 640.04A265.3 265.3 0 0 1 428.84 623.52L438.07 616.99A254 254 0 0 0 450.21 632.82Z" fill="#2993da"/><path d="M404.57 581.47A265.3 265.3 0 0 1 396.6 562.22L407.2 558.31A254 254 0 0 0 414.83 576.74Z" fill="#2ca6e6"/><path d="M384.03 515.33A265.3 265.3 0 0 1 381.31 494.68L392.57 493.64A254 254 0 0 0 395.17 513.41Z" fill="#2eb0eb"/><path d="M381.31 446.12A265.3 265.3 0 0 1 384.03 425.47L395.17 427.39A254 254 0 0 0 392.57 447.16Z" fill="#2eb0eb"/><path d="M396.6 378.58A265.3 265.3 0 0 1 404.57 359.33L414.83 364.06A254 254 0 0 0 407.2 382.49Z" fill="#2ca6e6"/><path d="M428.84 317.28A265.3 265.3 0 0 1 441.53 300.76L450.21 307.98A254 254 0 0 0 438.07 323.81Z" fill="#2993da"/><path d="M475.86 266.43A265.3 265.3 0 0 1 492.38 253.74L498.91 262.97A254 254 0 0 0 483.08 275.11Z" fill="#2773c2"/><path d="M534.43 229.47A265.3 265.3 0 0 1 553.68 221.5L557.59 232.1A254 254 0 0 0 539.16 239.73Z" fill="#235bb0"/><path d="M600.57 208.93A265.3 265.3 0 0 1 621.22 206.21L622.26 217.47A254 254 0 0 0 602.49 220.07Z" fill="#2153a8"/><path d="M639.06 206.98L629.87 207.36L620.98 208.55L624.89 214.23L632.18 216.25L639.28 215.98Z" fill="#58c6c4"/><ellipse cx="623.1" cy="214.38" rx="3.0" ry="3.0" fill="#30b8f0"/><path d="M651.94 206.98L661.13 207.36L670.02 208.55L666.11 214.23L658.82 216.25L651.72 215.98Z" fill="#58c6c4"/><ellipse cx="667.9" cy="214.38" rx="3.0" ry="3.0" fill="#30b8f0"/><path d="M707.46 214.29L698.48 212.28L689.59 211.12L691.89 217.62L698.41 221.46L705.34 223.04Z" fill="#6fbd51"/><ellipse cx="690.13" cy="217.3" rx="3.0" ry="3.0" fill="#32b9ee"/><path d="M719.9 217.62L728.67 220.37L736.96 223.81L731.71 228.29L724.14 228.36L717.36 226.25Z" fill="#6fbd51"/><ellipse cx="733.4" cy="228.9" rx="3.0" ry="3.0" fill="#32b9ee"/><path d="M771.64 239.05L763.48 234.79L755.19 231.37L755.74 238.24L761.04 243.64L767.33 246.95Z" fill="#89c53d"/><path d="M767.2 238.6L758.12 234.28L759.05 238.62L765.01 242.77Z" fill="#9ccc3a"/><ellipse cx="754.11" cy="237.48" rx="3.0" ry="3.0" fill="#38bbe7"/><path d="M782.79 245.49L790.55 250.42L797.66 255.89L791.44 258.85L784.11 256.96L778.1 253.17Z" fill="#89c53d"/><path d="M785.39 249.11L793.67 254.81L789.45 256.17L782.88 253.08Z" fill="#9ccc3a"/><ellipse cx="792.91" cy="259.88" rx="3.0" ry="3.0" fill="#38bbe7"/><path d="M827.21 279.58L820.44 273.36L813.32 267.9L812.07 274.68L815.79 281.27L821.01 286.1Z" fill="#afd337"/><path d="M823.04 278L815.4 271.48L815.17 275.91L819.85 281.45Z" fill="#d4db33"/><ellipse cx="810.7" cy="273.53" rx="3.0" ry="3.0" fill="#42bedd"/><path d="M836.32 288.69L842.54 295.46L848 302.58L841.22 303.83L834.63 300.11L829.8 294.89Z" fill="#afd337"/><path d="M837.9 292.86L844.42 300.5L839.99 300.73L834.45 296.05Z" fill="#d4db33"/><ellipse cx="842.37" cy="305.2" rx="3.0" ry="3.0" fill="#42bedd"/><path d="M870.41 333.11L865.48 325.35L860.01 318.24L857.05 324.46L858.94 331.79L862.73 337.8Z" fill="#d2db33"/><path d="M866.79 330.51L861.09 322.23L859.73 326.45L862.82 333.02Z" fill="#f1ce2b"/><ellipse cx="856.02" cy="322.99" rx="3.0" ry="3.0" fill="#4ec2cf"/><path d="M876.85 344.26L881.11 352.42L884.53 360.71L877.66 360.16L872.26 354.86L868.95 348.57Z" fill="#d2db33"/><path d="M877.3 348.7L881.62 357.78L877.28 356.85L873.13 350.89Z" fill="#f1ce2b"/><ellipse cx="878.42" cy="361.79" rx="3.0" ry="3.0" fill="#4ec2cf"/><path d="M898.28 396L895.53 387.23L892.09 378.94L887.61 384.19L887.54 391.76L889.65 398.54Z" fill="#e8df31"/><path d="M895.46 392.55L892.1 383.08L889.68 386.8L890.97 393.94Z" fill="#f3b223"/><path d="M901.61 408.44L903.62 417.42L904.78 426.31L898.28 424.01L894.44 417.49L892.86 410.56Z" fill="#e8df31"/><path d="M900.89 412.84L902.72 422.73L898.77 420.71L896.31 413.88Z" fill="#f3b223"/><path d="M908.92 463.96L908.54 454.77L907.35 445.88L901.67 449.79L899.65 457.08L899.92 464.18Z" fill="#f0e030"/><path d="M907.09 459.89L906.29 449.88L903 452.85L902.39 460.08Z" fill="#f4a820"/><path d="M908.92 476.84L908.54 486.03L907.35 494.92L901.67 491.01L899.65 483.72L899.92 476.62Z" fill="#f0e030"/><path d="M907.09 480.91L906.29 490.92L903 487.95L902.39 480.72Z" fill="#f4a820"/><path d="M901.61 532.36L903.62 523.38L904.78 514.49L898.28 516.79L894.44 523.31L892.86 530.24Z" fill="#e8df31"/><path d="M900.89 527.96L902.72 518.07L898.77 520.09L896.31 526.92Z" fill="#f3b223"/><path d="M898.28 544.8L895.53 553.57L892.09 561.86L887.61 556.61L887.54 549.04L889.65 542.26Z" fill="#e8df31"/><path d="M895.46 548.25L892.1 557.72L889.68 554L890.97 546.86Z" fill="#f3b223"/><path d="M876.85 596.54L881.11 588.38L884.53 580.09L877.66 580.64L872.26 585.94L868.95 592.23Z" fill="#d2db33"/><path d="M877.3 592.1L881.62 583.02L877.28 583.95L873.13 589.91Z" fill="#f1ce2b"/><ellipse cx="878.42" cy="579.01" rx="3.0" ry="3.0" fill="#4ec2cf"/><path d="M870.41 607.69L865.48 615.45L860.01 622.56L857.05 616.34L858.94 609.01L862.73 603Z" fill="#d2db33"/><path d="M866.79 610.29L861.09 618.57L859.73 614.35L862.82 607.78Z" fill="#f1ce2b"/><ellipse cx="856.02" cy="617.81" rx="3.0" ry="3.0" fill="#4ec2cf"/><path d="M836.32 652.11L842.54 645.34L848 638.22L841.22 636.97L834.63 640.69L829.8 645.91Z" fill="#afd337"/><path d="M837.9 647.94L844.42 640.3L839.99 640.07L834.45 644.75Z" fill="#d4db33"/><ellipse cx="842.37" cy="635.6" rx="3.0" ry="3.0" fill="#42bedd"/><path d="M827.21 661.22L820.44 667.44L813.32 672.9L812.07 666.12L815.79 659.53L821.01 654.7Z" fill="#afd337"/><path d="M823.04 662.8L815.4 669.32L815.17 664.89L819.85 659.35Z" fill="#d4db33"/><ellipse cx="810.7" cy="667.27" rx="3.0" ry="3.0" fill="#42bedd"/><path d="M782.79 695.31L790.55 690.38L797.66 684.91L791.44 681.95L784.11 683.84L778.1 687.63Z" fill="#89c53d"/><path d="M785.39 691.69L793.67 685.99L789.45 684.63L782.88 687.72Z" fill="#9ccc3a"/><ellipse cx="792.91" cy="680.92" rx="3.0" ry="3.0" fill="#38bbe7"/><path d="M771.64 701.75L763.48 706.01L755.19 709.43L755.74 702.56L761.04 697.16L767.33 693.85Z" fill="#89c53d"/><path d="M767.2 702.2L758.12 706.52L759.05 702.18L765.01 698.03Z" fill="#9ccc3a"/><ellipse cx="754.11" cy="703.32" rx="3.0" ry="3.0" fill="#38bbe7"/><path d="M719.9 723.18L728.67 720.43L736.96 716.99L731.71 712.51L724.14 712.44L717.36 714.55Z" fill="#6fbd51"/><ellipse cx="733.4" cy="711.9" rx="3.0" ry="3.0" fill="#32b9ee"/><path d="M707.46 726.51L698.48 728.52L689.59 729.68L691.89 723.18L698.41 719.34L705.34 717.76Z" fill="#6fbd51"/><ellipse cx="690.13" cy="723.5" rx="3.0" ry="3.0" fill="#32b9ee"/><path d="M651.94 733.82L661.13 733.44L670.02 732.25L666.11 726.57L658.82 724.55L651.72 724.82Z" fill="#58c6c4"/><ellipse cx="667.9" cy="726.42" rx="3.0" ry="3.0" fill="#30b8f0"/><path d="M639.06 733.82L629.87 733.44L620.98 732.25L624.89 726.57L632.18 724.55L639.28 724.82Z" fill="#58c6c4"/><ellipse cx="623.1" cy="726.42" rx="3.0" ry="3.0" fill="#30b8f0"/><path d="M583.54 726.51L592.52 728.52L601.41 729.68L599.11 723.18L592.59 719.34L585.66 717.76Z" fill="#6fbd51"/><ellipse cx="600.87" cy="723.5" rx="3.0" ry="3.0" fill="#32b9ee"/><path d="M571.1 723.18L562.33 720.43L554.04 716.99L559.29 712.51L566.86 712.44L573.64 714.55Z" fill="#6fbd51"/><ellipse cx="557.6" cy="711.9" rx="3.0" ry="3.0" fill="#32b9ee"/><path d="M519.36 701.75L527.52 706.01L535.81 709.43L535.26 702.56L529.96 697.16L523.67 693.85Z" fill="#89c53d"/><path d="M523.8 702.2L532.88 706.52L531.95 702.18L525.99 698.03Z" fill="#9ccc3a"/><ellipse cx="536.89" cy="703.32" rx="3.0" ry="3.0" fill="#38bbe7"/><path d="M508.21 695.31L500.45 690.38L493.34 684.91L499.56 681.95L506.89 683.84L512.9 687.63Z" fill="#89c53d"/><path d="M505.61 691.69L497.33 685.99L501.55 684.63L508.12 687.72Z" fill="#9ccc3a"/><ellipse cx="498.09" cy="680.92" rx="3.0" ry="3.0" fill="#38bbe7"/><path d="M463.79 661.22L470.56 667.44L477.68 672.9L478.93 666.12L475.21 659.53L469.99 654.7Z" fill="#afd337"/><path d="M467.96 662.8L475.6 669.32L475.83 664.89L471.15 659.35Z" fill="#d4db33"/><ellipse cx="480.3" cy="667.27" rx="3.0" ry="3.0" fill="#42bedd"/><path d="M454.68 652.11L448.46 645.34L443 638.22L449.78 636.97L456.37 640.69L461.2 645.91Z" fill="#afd337"/><path d="M453.1 647.94L446.58 640.3L451.01 640.07L456.55 644.75Z" fill="#d4db33"/><ellipse cx="448.63" cy="635.6" rx="3.0" ry="3.0" fill="#42bedd"/><path d="M420.59 607.69L425.52 615.45L430.99 622.56L433.95 616.34L432.06 609.01L428.27 603Z" fill="#d2db33"/><path d="M424.21 610.29L429.91 618.57L431.27 614.35L428.18 607.78Z" fill="#f1ce2b"/><ellipse cx="434.98" cy="617.81" rx="3.0" ry="3.0" fill="#4ec2cf"/><path d="M414.15 596.54L409.89 588.38L406.47 580.09L413.34 580.64L418.74 585.94L422.05 592.23Z" fill="#d2db33"/><path d="M413.7 592.1L409.38 583.02L413.72 583.95L417.87 589.91Z" fill="#f1ce2b"/><ellipse cx="412.58" cy="579.01" rx="3.0" ry="3.0" fill="#4ec2cf"/><path d="M392.72 544.8L395.47 553.57L398.91 561.86L403.39 556.61L403.46 549.04L401.35 542.26Z" fill="#e8df31"/><path d="M395.54 548.25L398.9 557.72L401.32 554L400.03 546.86Z" fill="#f3b223"/><path d="M389.39 532.36L387.38 523.38L386.22 514.49L392.72 516.79L396.56 523.31L398.14 530.24Z" fill="#e8df31"/><path d="M390.11 527.96L388.28 518.07L392.23 520.09L394.69 526.92Z" fill="#f3b223"/><path d="M382.08 476.84L382.46 486.03L383.65 494.92L389.33 491.01L391.35 483.72L391.08 476.62Z" fill="#f0e030"/><path d="M383.91 480.91L384.71 490.92L388 487.95L388.61 480.72Z" fill="#f4a820"/><path d="M382.08 463.96L382.46 454.77L383.65 445.88L389.33 449.79L391.35 457.08L391.08 464.18Z" fill="#f0e030"/><path d="M383.91 459.89L384.71 449.88L388 452.85L388.61 460.08Z" fill="#f4a820"/><path d="M389.39 408.44L387.38 417.42L386.22 426.31L392.72 424.01L396.56 417.49L398.14 410.56Z" fill="#e8df31"/><path d="M390.11 412.84L388.28 422.73L392.23 420.71L394.69 413.88Z" fill="#f3b223"/><path d="M392.72 396L395.47 387.23L398.91 378.94L403.39 384.19L403.46 391.76L401.35 398.54Z" fill="#e8df31"/><path d="M395.54 392.55L398.9 383.08L401.32 386.8L400.03 393.94Z" fill="#f3b223"/><path d="M414.15 344.26L409.89 352.42L406.47 360.71L413.34 360.16L418.74 354.86L422.05 348.57Z" fill="#d2db33"/><path d="M413.7 348.7L409.38 357.78L413.72 356.85L417.87 350.89Z" fill="#f1ce2b"/><ellipse cx="412.58" cy="361.79" rx="3.0" ry="3.0" fill="#4ec2cf"/><path d="M420.59 333.11L425.52 325.35L430.99 318.24L433.95 324.46L432.06 331.79L428.27 337.8Z" fill="#d2db33"/><path d="M424.21 330.51L429.91 322.23L431.27 326.45L428.18 333.02Z" fill="#f1ce2b"/><ellipse cx="434.98" cy="322.99" rx="3.0" ry="3.0" fill="#4ec2cf"/><path d="M454.68 288.69L448.46 295.46L443 302.58L449.78 303.83L456.37 300.11L461.2 294.89Z" fill="#afd337"/><path d="M453.1 292.86L446.58 300.5L451.01 300.73L456.55 296.05Z" fill="#d4db33"/><ellipse cx="448.63" cy="305.2" rx="3.0" ry="3.0" fill="#42bedd"/><path d="M463.79 279.58L470.56 273.36L477.68 267.9L478.93 274.68L475.21 281.27L469.99 286.1Z" fill="#afd337"/><path d="M467.96 278L475.6 271.48L475.83 275.91L471.15 281.45Z" fill="#d4db33"/><ellipse cx="480.3" cy="273.53" rx="3.0" ry="3.0" fill="#42bedd"/><path d="M508.21 245.49L500.45 250.42L493.34 255.89L499.56 258.85L506.89 256.96L512.9 253.17Z" fill="#89c53d"/><path d="M505.61 249.11L497.33 254.81L501.55 256.17L508.12 253.08Z" fill="#9ccc3a"/><ellipse cx="498.09" cy="259.88" rx="3.0" ry="3.0" fill="#38bbe7"/><path d="M519.36 239.05L527.52 234.79L535.81 231.37L535.26 238.24L529.96 243.64L523.67 246.95Z" fill="#89c53d"/><path d="M523.8 238.6L532.88 234.28L531.95 238.62L525.99 242.77Z" fill="#9ccc3a"/><ellipse cx="536.89" cy="237.48" rx="3.0" ry="3.0" fill="#38bbe7"/><path d="M571.1 217.62L562.33 220.37L554.04 223.81L559.29 228.29L566.86 228.36L573.64 226.25Z" fill="#6fbd51"/><ellipse cx="557.6" cy="228.9" rx="3.0" ry="3.0" fill="#32b9ee"/><path d="M583.54 214.29L592.52 212.28L601.41 211.12L599.11 217.62L592.59 221.46L585.66 223.04Z" fill="#6fbd51"/><ellipse cx="600.87" cy="217.3" rx="3.0" ry="3.0" fill="#32b9ee"/><path d="M626.18 321.65L628.92 317.8L642.94 307.62L645.5 306.4L648.06 307.62L662.08 317.8L664.82 321.65Z" fill="#1f4ea3" stroke="#1f4ea3" stroke-width="1.5" stroke-linejoin="round"/><path d="M665.34 321.72L668.98 318.71L685.13 312.64L687.91 312.13L690.06 313.97L701.01 327.29L702.66 331.72Z" fill="#1f4ea3" stroke="#1f4ea3" stroke-width="1.5" stroke-linejoin="round"/><path d="M703.14 331.92L707.44 329.95L724.39 328.66L727.21 328.87L728.81 331.2L736.16 346.53L736.61 351.24Z" fill="#1f4ea3" stroke="#1f4ea3" stroke-width="1.5" stroke-linejoin="round"/><path d="M737.02 351.56L741.68 350.77L757.88 354.43L760.54 355.36L761.47 358.02L765.13 374.22L764.34 378.88Z" fill="#1f4ea3" stroke="#1f4ea3" stroke-width="1.5" stroke-linejoin="round"/><path d="M764.66 379.29L769.37 379.74L783.15 388.02L785.47 389.59L785.67 392.38L785.95 408.46L783.98 412.76Z" fill="#1f4ea3" stroke="#1f4ea3" stroke-width="1.5" stroke-linejoin="round"/><path d="M784.18 413.24L788.61 414.89L798.33 426.86L800.16 428.96L799.62 431.69L797.19 446.92L794.18 450.56Z" fill="#1f4ea3" stroke="#1f4ea3" stroke-width="1.5" stroke-linejoin="round"/><path d="M794.25 451.08L798.1 453.82L801.28 467.95L802.5 470.4L801.28 472.85L798.1 486.98L794.25 489.72Z" fill="#1f4ea3" stroke="#1f4ea3" stroke-width="1.5" stroke-linejoin="round"/><path d="M794.18 490.24L797.19 493.88L799.62 509.11L800.16 511.84L798.33 513.94L788.61 525.91L784.18 527.56Z" fill="#1f4ea3" stroke="#1f4ea3" stroke-width="1.5" stroke-linejoin="round"/><path d="M783.98 528.04L785.95 532.34L785.67 548.42L785.47 551.21L783.15 552.78L769.37 561.06L764.66 561.51Z" fill="#1f4ea3" stroke="#1f4ea3" stroke-width="1.5" stroke-linejoin="round"/><path d="M764.34 561.92L765.13 566.58L761.47 582.78L760.54 585.44L757.88 586.37L741.68 590.03L737.02 589.24Z" fill="#1f4ea3" stroke="#1f4ea3" stroke-width="1.5" stroke-linejoin="round"/><path d="M736.61 589.56L736.16 594.27L728.81 609.6L727.21 611.93L724.39 612.14L707.44 610.85L703.14 608.88Z" fill="#1f4ea3" stroke="#1f4ea3" stroke-width="1.5" stroke-linejoin="round"/><path d="M702.66 609.08L701.01 613.51L690.06 626.83L687.91 628.67L685.13 628.16L668.98 622.09L665.34 619.08Z" fill="#1f4ea3" stroke="#1f4ea3" stroke-width="1.5" stroke-linejoin="round"/><path d="M664.82 619.15L662.08 623L648.06 633.18L645.5 634.4L642.94 633.18L628.92 623L626.18 619.15Z" fill="#1f4ea3" stroke="#1f4ea3" stroke-width="1.5" stroke-linejoin="round"/><path d="M625.66 619.08L622.02 622.09L605.87 628.16L603.09 628.67L600.94 626.83L589.99 613.51L588.34 609.08Z" fill="#1f4ea3" stroke="#1f4ea3" stroke-width="1.5" stroke-linejoin="round"/><path d="M587.86 608.88L583.56 610.85L566.61 612.14L563.79 611.93L562.19 609.6L554.84 594.27L554.39 589.56Z" fill="#1f4ea3" stroke="#1f4ea3" stroke-width="1.5" stroke-linejoin="round"/><path d="M553.98 589.24L549.32 590.03L533.12 586.37L530.46 585.44L529.53 582.78L525.87 566.58L526.66 561.92Z" fill="#1f4ea3" stroke="#1f4ea3" stroke-width="1.5" stroke-linejoin="round"/><path d="M526.34 561.51L521.63 561.06L507.85 552.78L505.53 551.21L505.33 548.42L505.05 532.34L507.02 528.04Z" fill="#1f4ea3" stroke="#1f4ea3" stroke-width="1.5" stroke-linejoin="round"/><path d="M506.82 527.56L502.39 525.91L492.67 513.94L490.84 511.84L491.38 509.11L493.81 493.88L496.82 490.24Z" fill="#1f4ea3" stroke="#1f4ea3" stroke-width="1.5" stroke-linejoin="round"/><path d="M496.75 489.72L492.9 486.98L489.72 472.85L488.5 470.4L489.72 467.95L492.9 453.82L496.75 451.08Z" fill="#1f4ea3" stroke="#1f4ea3" stroke-width="1.5" stroke-linejoin="round"/><path d="M496.82 450.56L493.81 446.92L491.38 431.69L490.84 428.96L492.67 426.86L502.39 414.89L506.82 413.24Z" fill="#1f4ea3" stroke="#1f4ea3" stroke-width="1.5" stroke-linejoin="round"/><path d="M507.02 412.76L505.05 408.46L505.33 392.38L505.53 389.59L507.85 388.02L521.63 379.74L526.34 379.29Z" fill="#1f4ea3" stroke="#1f4ea3" stroke-width="1.5" stroke-linejoin="round"/><path d="M526.66 378.88L525.87 374.22L529.53 358.02L530.46 355.36L533.12 354.43L549.32 350.77L553.98 351.56Z" fill="#1f4ea3" stroke="#1f4ea3" stroke-width="1.5" stroke-linejoin="round"/><path d="M554.39 351.24L554.84 346.53L562.19 331.2L563.79 328.87L566.61 328.66L583.56 329.95L587.86 331.92Z" fill="#1f4ea3" stroke="#1f4ea3" stroke-width="1.5" stroke-linejoin="round"/><path d="M588.34 331.72L589.99 327.29L600.94 313.97L603.09 312.13L605.87 312.64L622.02 318.71L625.66 321.72Z" fill="#1f4ea3" stroke="#1f4ea3" stroke-width="1.5" stroke-linejoin="round"/><circle cx="645.5" cy="470.4" r="154.5" fill="#1f4ea3"/></g><defs><g id="slot"><path d="M635.26 289.19L626.1 219.65L645.5 218.3L664.9 219.65L655.74 289.19L645.5 289.7Z" fill="#1f4ea3" stroke="#1b3f93" stroke-width="9" stroke-linejoin="round"/><path d="M635.26 289.19L626.1 219.65L645.5 218.3L664.9 219.65L655.74 289.19L645.5 289.7Z" fill="#1f4ea3" stroke="#1f4ea3" stroke-width="7.6" stroke-linejoin="round"/><rect x="632.3" y="218.9" width="12.2" height="66" fill="none" stroke="#9c5e22" stroke-width="1"/><rect x="646.5" y="218.9" width="12.2" height="66" fill="none" stroke="#9c5e22" stroke-width="1"/></g></defs><use href="#slot" transform="rotate(7.5 645.5 470.4)"/><use href="#slot" transform="rotate(22.5 645.5 470.4)"/><use href="#slot" transform="rotate(37.5 645.5 470.4)"/><use href="#slot" transform="rotate(52.5 645.5 470.4)"/><use href="#slot" transform="rotate(67.5 645.5 470.4)"/><use href="#slot" transform="rotate(82.5 645.5 470.4)"/><use href="#slot" transform="rotate(97.5 645.5 470.4)"/><use href="#slot" transform="rotate(112.5 645.5 470.4)"/><use href="#slot" transform="rotate(127.5 645.5 470.4)"/><use href="#slot" transform="rotate(142.5 645.5 470.4)"/><use href="#slot" transform="rotate(157.5 645.5 470.4)"/><use href="#slot" transform="rotate(172.5 645.5 470.4)"/><use href="#slot" transform="rotate(187.5 645.5 470.4)"/><use href="#slot" transform="rotate(202.5 645.5 470.4)"/><use href="#slot" transform="rotate(217.5 645.5 470.4)"/><use href="#slot" transform="rotate(232.5 645.5 470.4)"/><use href="#slot" transform="rotate(247.5 645.5 470.4)"/><use href="#slot" transform="rotate(262.5 645.5 470.4)"/><use href="#slot" transform="rotate(277.5 645.5 470.4)"/><use href="#slot" transform="rotate(292.5 645.5 470.4)"/><use href="#slot" transform="rotate(307.5 645.5 470.4)"/><use href="#slot" transform="rotate(322.5 645.5 470.4)"/><use href="#slot" transform="rotate(337.5 645.5 470.4)"/><use href="#slot" transform="rotate(352.5 645.5 470.4)"/><circle cx="645.5" cy="470.4" r="289.0" fill="none" stroke="#1a8a48" stroke-width="1.0"/><circle cx="645.5" cy="470.4" r="270.0" fill="none" stroke="#1a8a48" stroke-width="0.9"/><circle cx="645.5" cy="470.4" r="267.3" fill="none" stroke="#2a9060" stroke-width="0.7"/><circle cx="645.5" cy="470.4" r="265.3" fill="none" stroke="#2a9060" stroke-width="0.7"/><line x1="670.1" y1="201.52" x2="670.1" y2="182.45" stroke="#1a8a48" stroke-width="0.9"/><line x1="685.96" y1="203.45" x2="690.53" y2="184.93" stroke="#1a8a48" stroke-width="0.9"/><line x1="733.73" y1="215.22" x2="738.3" y2="196.7" stroke="#1a8a48" stroke-width="0.9"/><line x1="748.67" y1="220.89" x2="757.54" y2="204" stroke="#1a8a48" stroke-width="0.9"/><line x1="792.24" y1="243.75" x2="801.1" y2="226.86" stroke="#1a8a48" stroke-width="0.9"/><line x1="805.39" y1="252.83" x2="818.03" y2="238.55" stroke="#1a8a48" stroke-width="0.9"/><line x1="842.21" y1="285.46" x2="854.86" y2="271.18" stroke="#1a8a48" stroke-width="0.9"/><line x1="852.81" y1="297.42" x2="868.5" y2="286.58" stroke="#1a8a48" stroke-width="0.9"/><line x1="880.76" y1="337.91" x2="896.45" y2="327.07" stroke="#1a8a48" stroke-width="0.9"/><line x1="888.18" y1="352.05" x2="906.02" y2="345.29" stroke="#1a8a48" stroke-width="0.9"/><line x1="905.63" y1="398.06" x2="923.46" y2="391.29" stroke="#1a8a48" stroke-width="0.9"/><line x1="909.45" y1="413.57" x2="928.39" y2="411.27" stroke="#1a8a48" stroke-width="0.9"/><line x1="915.38" y1="462.41" x2="934.32" y2="460.11" stroke="#1a8a48" stroke-width="0.9"/><line x1="915.38" y1="478.39" x2="934.32" y2="480.69" stroke="#1a8a48" stroke-width="0.9"/><line x1="909.45" y1="527.23" x2="928.39" y2="529.53" stroke="#1a8a48" stroke-width="0.9"/><line x1="905.63" y1="542.74" x2="923.46" y2="549.51" stroke="#1a8a48" stroke-width="0.9"/><line x1="888.18" y1="588.75" x2="906.02" y2="595.51" stroke="#1a8a48" stroke-width="0.9"/><line x1="880.76" y1="602.89" x2="896.45" y2="613.73" stroke="#1a8a48" stroke-width="0.9"/><line x1="852.81" y1="643.38" x2="868.5" y2="654.22" stroke="#1a8a48" stroke-width="0.9"/><line x1="842.21" y1="655.34" x2="854.86" y2="669.62" stroke="#1a8a48" stroke-width="0.9"/><line x1="805.39" y1="687.97" x2="818.03" y2="702.25" stroke="#1a8a48" stroke-width="0.9"/><line x1="792.24" y1="697.05" x2="801.1" y2="713.94" stroke="#1a8a48" stroke-width="0.9"/><line x1="748.67" y1="719.91" x2="757.54" y2="736.8" stroke="#1a8a48" stroke-width="0.9"/><line x1="733.73" y1="725.58" x2="738.3" y2="744.1" stroke="#1a8a48" stroke-width="0.9"/><line x1="685.96" y1="737.35" x2="690.53" y2="755.87" stroke="#1a8a48" stroke-width="0.9"/><line x1="670.1" y1="739.28" x2="670.1" y2="758.35" stroke="#1a8a48" stroke-width="0.9"/><line x1="620.9" y1="739.28" x2="620.9" y2="758.35" stroke="#1a8a48" stroke-width="0.9"/><line x1="605.04" y1="737.35" x2="600.47" y2="755.87" stroke="#1a8a48" stroke-width="0.9"/><line x1="557.27" y1="725.58" x2="552.7" y2="744.1" stroke="#1a8a48" stroke-width="0.9"/><line x1="542.33" y1="719.91" x2="533.46" y2="736.8" stroke="#1a8a48" stroke-width="0.9"/><line x1="498.76" y1="697.05" x2="489.9" y2="713.94" stroke="#1a8a48" stroke-width="0.9"/><line x1="485.61" y1="687.97" x2="472.97" y2="702.25" stroke="#1a8a48" stroke-width="0.9"/><line x1="448.79" y1="655.34" x2="436.14" y2="669.62" stroke="#1a8a48" stroke-width="0.9"/><line x1="438.19" y1="643.38" x2="422.5" y2="654.22" stroke="#1a8a48" stroke-width="0.9"/><line x1="410.24" y1="602.89" x2="394.55" y2="613.73" stroke="#1a8a48" stroke-width="0.9"/><line x1="402.82" y1="588.75" x2="384.98" y2="595.51" stroke="#1a8a48" stroke-width="0.9"/><line x1="385.37" y1="542.74" x2="367.54" y2="549.51" stroke="#1a8a48" stroke-width="0.9"/><line x1="381.55" y1="527.23" x2="362.61" y2="529.53" stroke="#1a8a48" stroke-width="0.9"/><line x1="375.62" y1="478.39" x2="356.68" y2="480.69" stroke="#1a8a48" stroke-width="0.9"/><line x1="375.62" y1="462.41" x2="356.68" y2="460.11" stroke="#1a8a48" stroke-width="0.9"/><line x1="381.55" y1="413.57" x2="362.61" y2="411.27" stroke="#1a8a48" stroke-width="0.9"/><line x1="385.37" y1="398.06" x2="367.54" y2="391.29" stroke="#1a8a48" stroke-width="0.9"/><line x1="402.82" y1="352.05" x2="384.98" y2="345.29" stroke="#1a8a48" stroke-width="0.9"/><line x1="410.24" y1="337.91" x2="394.55" y2="327.07" stroke="#1a8a48" stroke-width="0.9"/><line x1="438.19" y1="297.42" x2="422.5" y2="286.58" stroke="#1a8a48" stroke-width="0.9"/><line x1="448.79" y1="285.46" x2="436.14" y2="271.18" stroke="#1a8a48" stroke-width="0.9"/><line x1="485.61" y1="252.83" x2="472.97" y2="238.55" stroke="#1a8a48" stroke-width="0.9"/><line x1="498.76" y1="243.75" x2="489.9" y2="226.86" stroke="#1a8a48" stroke-width="0.9"/><line x1="542.33" y1="220.89" x2="533.46" y2="204" stroke="#1a8a48" stroke-width="0.9"/><line x1="557.27" y1="215.22" x2="552.7" y2="196.7" stroke="#1a8a48" stroke-width="0.9"/><line x1="605.04" y1="203.45" x2="600.47" y2="184.93" stroke="#1a8a48" stroke-width="0.9"/><line x1="620.9" y1="201.52" x2="620.9" y2="182.45" stroke="#1a8a48" stroke-width="0.9"/><circle cx="645.5" cy="470.4" r="303.9" fill="none" stroke="#26346e" stroke-width="1.2"/><circle cx="645.5" cy="470.4" r="152.0" fill="none" stroke="#173c8e" stroke-width="1"/><path d="M797 459.4A10.5 11 0 0 0 797 481.4" fill="#1f4ea3" stroke="#173c8e" stroke-width="1"/><line x1="797.5" y1="460.4" x2="797.5" y2="480.4" stroke="#1f4ea3" stroke-width="2.2"/></g><path d="M641.2 341.5L645.5 323L649.8 341.5Z" fill="#4caf3c"/><path d="M644.3 341.5L645.5 323L649.8 341.5Z" fill="#2f8a2a"/><path d="M776 464.5L790.5 470L776 475.5Z" fill="#d81c1c"/><path d="M786 468.8L792 470L786 471.2Z" fill="#d81c1c"/><circle cx="646" cy="470.3" r="3.2" fill="#5a78b8" stroke="#8aa0d0" stroke-width="0.8"/><path d="M646 452.5H659L647.5 466.5H660" fill="none" stroke="#5f7cc0" stroke-width="1.5"/><path d="M193.2 698L195 722H197.8L197 698Z" fill="#2e8f2e"/><path d="M192.2 711L195.2 704L197.2 711V723H192.2Z" fill="#3aa03a"/><ellipse cx="195" cy="732" rx="6" ry="5" fill="#2a8c2a"/><ellipse cx="195" cy="763" rx="5.5" ry="4.5" fill="#2a8c2a"/><ellipse cx="180" cy="747.5" rx="5" ry="6" fill="#d81c1c"/><ellipse cx="210" cy="747.5" rx="5" ry="6" fill="#d81c1c"/><rect x="183" y="734.5" width="24" height="25.5" fill="#fff" stroke="#c8c8d8" stroke-width="0.8"/><text x="195" y="755" font-size="19" font-weight="bold" fill="#3b5cb0" text-anchor="middle">Z</text><circle cx="208" cy="734.5" r="2.4" fill="#8a8a8a"/><rect x="219" y="746.3" width="20" height="2.2" fill="#d81c1c"/><path d="M230 745.2L238 747.4L230 749.6Z" fill="#d81c1c"/><text x="247" y="756" font-size="16.5" font-weight="bold" fill="#e02020" text-anchor="middle">X</text><text x="190.5" y="699" font-size="15.5" font-weight="bold" fill="#2a8f2a" text-anchor="middle">Y</text><rect x="562" y="788.2" width="451.5" height="11.8" fill="#050303"/><rect x="563.5" y="790" width="245" height="8" fill="#8a8a8a"/><text x="560.5" y="816.8" font-size="14.5" fill="#222" text-anchor="middle">0</text><text x="806.5" y="816.8" font-size="14.5" fill="#222" text-anchor="middle">20</text><text x="629" y="848.5" font-size="20" fill="#4a4a4a" text-anchor="middle" textLength="317" lengthAdjust="spacingAndGlyphs">Magnetic density distribution map</text><rect x="125.5" y="124.5" width="151" height="467" fill="#fff" stroke="#000" stroke-width="1.25"/><line x1="125.5" y1="169.4" x2="276.5" y2="169.4" stroke="#000" stroke-width="1.1"/><line x1="125.5" y1="197.7" x2="276.5" y2="197.7" stroke="#000" stroke-width="1.1"/><line x1="125.5" y1="564.4" x2="276.5" y2="564.4" stroke="#000" stroke-width="1.1"/><text x="132.5" y="155.5" font-size="23.5" font-weight="bold" fill="#000" textLength="124" lengthAdjust="spacingAndGlyphs">B [mTesla]</text><text x="132" y="190" font-size="20" fill="#000" textLength="136" lengthAdjust="spacingAndGlyphs">Max: 2636.899</text><rect x="133" y="214" width="43" height="33.57" fill="#e8141c"/><rect x="133" y="247.27" width="43" height="33.57" fill="#ee7218"/><rect x="133" y="280.54" width="43" height="33.57" fill="#f4dc28"/><rect x="133" y="313.81" width="43" height="33.57" fill="#b4cc24"/><rect x="133" y="347.08" width="43" height="33.57" fill="#74b82c"/><rect x="133" y="380.35" width="43" height="33.57" fill="#70b840"/><rect x="133" y="413.62" width="43" height="33.57" fill="#68c098"/><rect x="133" y="446.89" width="43" height="33.57" fill="#54c0e0"/><rect x="133" y="480.16" width="43" height="33.57" fill="#2868b4"/><rect x="133" y="513.43" width="43" height="33.57" fill="#1f4ca4"/><text x="227.5" y="220.2" font-size="20" fill="#000" text-anchor="middle">2700</text><text x="227.5" y="253.5" font-size="20" fill="#000" text-anchor="middle">2430</text><text x="227.5" y="286.7" font-size="20" fill="#000" text-anchor="middle">2160</text><text x="227.5" y="320" font-size="20" fill="#000" text-anchor="middle">1890</text><text x="227.5" y="353.3" font-size="20" fill="#000" text-anchor="middle">1620</text><text x="227.5" y="386.6" font-size="20" fill="#000" text-anchor="middle">1350</text><text x="227.5" y="419.8" font-size="20" fill="#000" text-anchor="middle">1080</text><text x="227.5" y="453.1" font-size="20" fill="#000" text-anchor="middle">810</text><text x="227.5" y="486.4" font-size="20" fill="#000" text-anchor="middle">540</text><text x="227.5" y="519.6" font-size="20" fill="#000" text-anchor="middle">270</text><text x="227.5" y="552.9" font-size="20" fill="#000" text-anchor="middle">0</text><text x="132" y="584.5" font-size="20" fill="#000">Min:</text><text x="195" y="584.5" font-size="20" fill="#000">0.000</text><rect x="17.5" y="946.5" width="586.0" height="338.29999999999995" fill="#fff" stroke="#b4b4b4" stroke-width="1.2"/><g shape-rendering="crispEdges"><line x1="53.6" y1="1016.9" x2="586.4" y2="1016.9" stroke="#f0f0f0" stroke-width="1"/><line x1="53.6" y1="1022.3" x2="586.4" y2="1022.3" stroke="#f0f0f0" stroke-width="1"/><line x1="53.6" y1="1027.8" x2="586.4" y2="1027.8" stroke="#f0f0f0" stroke-width="1"/><line x1="53.6" y1="1033.3" x2="586.4" y2="1033.3" stroke="#f0f0f0" stroke-width="1"/><line x1="53.6" y1="1038.7" x2="586.4" y2="1038.7" stroke="#dedede" stroke-width="1"/><line x1="53.6" y1="1044.2" x2="586.4" y2="1044.2" stroke="#f0f0f0" stroke-width="1"/><line x1="53.6" y1="1049.7" x2="586.4" y2="1049.7" stroke="#f0f0f0" stroke-width="1"/><line x1="53.6" y1="1055.1" x2="586.4" y2="1055.1" stroke="#f0f0f0" stroke-width="1"/><line x1="53.6" y1="1060.6" x2="586.4" y2="1060.6" stroke="#f0f0f0" stroke-width="1"/><line x1="53.6" y1="1066.1" x2="586.4" y2="1066.1" stroke="#dedede" stroke-width="1"/><line x1="53.6" y1="1071.6" x2="586.4" y2="1071.6" stroke="#f0f0f0" stroke-width="1"/><line x1="53.6" y1="1077" x2="586.4" y2="1077" stroke="#f0f0f0" stroke-width="1"/><line x1="53.6" y1="1082.5" x2="586.4" y2="1082.5" stroke="#f0f0f0" stroke-width="1"/><line x1="53.6" y1="1088" x2="586.4" y2="1088" stroke="#f0f0f0" stroke-width="1"/><line x1="53.6" y1="1093.4" x2="586.4" y2="1093.4" stroke="#dedede" stroke-width="1"/><line x1="53.6" y1="1098.9" x2="586.4" y2="1098.9" stroke="#f0f0f0" stroke-width="1"/><line x1="53.6" y1="1104.4" x2="586.4" y2="1104.4" stroke="#f0f0f0" stroke-width="1"/><line x1="53.6" y1="1109.8" x2="586.4" y2="1109.8" stroke="#f0f0f0" stroke-width="1"/><line x1="53.6" y1="1115.3" x2="586.4" y2="1115.3" stroke="#f0f0f0" stroke-width="1"/><line x1="53.6" y1="1120.8" x2="586.4" y2="1120.8" stroke="#dedede" stroke-width="1"/><line x1="53.6" y1="1126.2" x2="586.4" y2="1126.2" stroke="#f0f0f0" stroke-width="1"/><line x1="53.6" y1="1131.7" x2="586.4" y2="1131.7" stroke="#f0f0f0" stroke-width="1"/><line x1="53.6" y1="1137.2" x2="586.4" y2="1137.2" stroke="#f0f0f0" stroke-width="1"/><line x1="53.6" y1="1142.6" x2="586.4" y2="1142.6" stroke="#f0f0f0" stroke-width="1"/><line x1="53.6" y1="1148.1" x2="586.4" y2="1148.1" stroke="#dedede" stroke-width="1"/><line x1="53.6" y1="1153.6" x2="586.4" y2="1153.6" stroke="#f0f0f0" stroke-width="1"/><line x1="53.6" y1="1159.1" x2="586.4" y2="1159.1" stroke="#f0f0f0" stroke-width="1"/><line x1="53.6" y1="1164.5" x2="586.4" y2="1164.5" stroke="#f0f0f0" stroke-width="1"/><line x1="53.6" y1="1170" x2="586.4" y2="1170" stroke="#f0f0f0" stroke-width="1"/><line x1="53.6" y1="1175.5" x2="586.4" y2="1175.5" stroke="#dedede" stroke-width="1"/><line x1="53.6" y1="1180.9" x2="586.4" y2="1180.9" stroke="#f0f0f0" stroke-width="1"/><line x1="53.6" y1="1186.4" x2="586.4" y2="1186.4" stroke="#f0f0f0" stroke-width="1"/><line x1="53.6" y1="1191.9" x2="586.4" y2="1191.9" stroke="#f0f0f0" stroke-width="1"/><line x1="53.6" y1="1197.3" x2="586.4" y2="1197.3" stroke="#f0f0f0" stroke-width="1"/><line x1="53.6" y1="1202.8" x2="586.4" y2="1202.8" stroke="#dedede" stroke-width="1"/><line x1="74.9" y1="1011.4" x2="74.9" y2="1202.8" stroke="#ececec" stroke-width="1"/><line x1="96.2" y1="1011.4" x2="96.2" y2="1202.8" stroke="#ececec" stroke-width="1"/><line x1="138.9" y1="1011.4" x2="138.9" y2="1202.8" stroke="#ececec" stroke-width="1"/><line x1="160.2" y1="1011.4" x2="160.2" y2="1202.8" stroke="#d6d6d6" stroke-width="1"/><line x1="202.8" y1="1011.4" x2="202.8" y2="1202.8" stroke="#ececec" stroke-width="1"/><line x1="224.2" y1="1011.4" x2="224.2" y2="1202.8" stroke="#ececec" stroke-width="1"/><line x1="266.8" y1="1011.4" x2="266.8" y2="1202.8" stroke="#d6d6d6" stroke-width="1"/><line x1="288.1" y1="1011.4" x2="288.1" y2="1202.8" stroke="#ececec" stroke-width="1"/><line x1="309.4" y1="1011.4" x2="309.4" y2="1202.8" stroke="#ececec" stroke-width="1"/><line x1="330.8" y1="1011.4" x2="330.8" y2="1202.8" stroke="#ececec" stroke-width="1"/><line x1="352.1" y1="1011.4" x2="352.1" y2="1202.8" stroke="#ececec" stroke-width="1"/><line x1="373.4" y1="1011.4" x2="373.4" y2="1202.8" stroke="#d6d6d6" stroke-width="1"/><line x1="394.7" y1="1011.4" x2="394.7" y2="1202.8" stroke="#ececec" stroke-width="1"/><line x1="416" y1="1011.4" x2="416" y2="1202.8" stroke="#ececec" stroke-width="1"/><line x1="437.4" y1="1011.4" x2="437.4" y2="1202.8" stroke="#ececec" stroke-width="1"/><line x1="458.7" y1="1011.4" x2="458.7" y2="1202.8" stroke="#ececec" stroke-width="1"/><line x1="501.3" y1="1011.4" x2="501.3" y2="1202.8" stroke="#ececec" stroke-width="1"/><line x1="522.6" y1="1011.4" x2="522.6" y2="1202.8" stroke="#ececec" stroke-width="1"/><line x1="544" y1="1011.4" x2="544" y2="1202.8" stroke="#ececec" stroke-width="1"/><line x1="565.3" y1="1011.4" x2="565.3" y2="1202.8" stroke="#ececec" stroke-width="1"/></g><line x1="49.5" y1="1011.4" x2="53" y2="1011.4" stroke="#444" stroke-width="0.8"/><line x1="49.5" y1="1016.9" x2="51.5" y2="1016.9" stroke="#444" stroke-width="0.8"/><line x1="49.5" y1="1022.3" x2="51.5" y2="1022.3" stroke="#444" stroke-width="0.8"/><line x1="49.5" y1="1027.8" x2="51.5" y2="1027.8" stroke="#444" stroke-width="0.8"/><line x1="49.5" y1="1033.3" x2="51.5" y2="1033.3" stroke="#444" stroke-width="0.8"/><line x1="49.5" y1="1038.7" x2="53" y2="1038.7" stroke="#444" stroke-width="0.8"/><line x1="49.5" y1="1044.2" x2="51.5" y2="1044.2" stroke="#444" stroke-width="0.8"/><line x1="49.5" y1="1049.7" x2="51.5" y2="1049.7" stroke="#444" stroke-width="0.8"/><line x1="49.5" y1="1055.1" x2="51.5" y2="1055.1" stroke="#444" stroke-width="0.8"/><line x1="49.5" y1="1060.6" x2="51.5" y2="1060.6" stroke="#444" stroke-width="0.8"/><line x1="49.5" y1="1066.1" x2="53" y2="1066.1" stroke="#444" stroke-width="0.8"/><line x1="49.5" y1="1071.6" x2="51.5" y2="1071.6" stroke="#444" stroke-width="0.8"/><line x1="49.5" y1="1077" x2="51.5" y2="1077" stroke="#444" stroke-width="0.8"/><line x1="49.5" y1="1082.5" x2="51.5" y2="1082.5" stroke="#444" stroke-width="0.8"/><line x1="49.5" y1="1088" x2="51.5" y2="1088" stroke="#444" stroke-width="0.8"/><line x1="49.5" y1="1093.4" x2="53" y2="1093.4" stroke="#444" stroke-width="0.8"/><line x1="49.5" y1="1098.9" x2="51.5" y2="1098.9" stroke="#444" stroke-width="0.8"/><line x1="49.5" y1="1104.4" x2="51.5" y2="1104.4" stroke="#444" stroke-width="0.8"/><line x1="49.5" y1="1109.8" x2="51.5" y2="1109.8" stroke="#444" stroke-width="0.8"/><line x1="49.5" y1="1115.3" x2="51.5" y2="1115.3" stroke="#444" stroke-width="0.8"/><line x1="49.5" y1="1120.8" x2="53" y2="1120.8" stroke="#444" stroke-width="0.8"/><line x1="49.5" y1="1126.2" x2="51.5" y2="1126.2" stroke="#444" stroke-width="0.8"/><line x1="49.5" y1="1131.7" x2="51.5" y2="1131.7" stroke="#444" stroke-width="0.8"/><line x1="49.5" y1="1137.2" x2="51.5" y2="1137.2" stroke="#444" stroke-width="0.8"/><line x1="49.5" y1="1142.6" x2="51.5" y2="1142.6" stroke="#444" stroke-width="0.8"/><line x1="49.5" y1="1148.1" x2="53" y2="1148.1" stroke="#444" stroke-width="0.8"/><line x1="49.5" y1="1153.6" x2="51.5" y2="1153.6" stroke="#444" stroke-width="0.8"/><line x1="49.5" y1="1159.1" x2="51.5" y2="1159.1" stroke="#444" stroke-width="0.8"/><line x1="49.5" y1="1164.5" x2="51.5" y2="1164.5" stroke="#444" stroke-width="0.8"/><line x1="49.5" y1="1170" x2="51.5" y2="1170" stroke="#444" stroke-width="0.8"/><line x1="49.5" y1="1175.5" x2="53" y2="1175.5" stroke="#444" stroke-width="0.8"/><line x1="49.5" y1="1180.9" x2="51.5" y2="1180.9" stroke="#444" stroke-width="0.8"/><line x1="49.5" y1="1186.4" x2="51.5" y2="1186.4" stroke="#444" stroke-width="0.8"/><line x1="49.5" y1="1191.9" x2="51.5" y2="1191.9" stroke="#444" stroke-width="0.8"/><line x1="49.5" y1="1197.3" x2="51.5" y2="1197.3" stroke="#444" stroke-width="0.8"/><line x1="49.5" y1="1202.8" x2="53" y2="1202.8" stroke="#444" stroke-width="0.8"/><line x1="53.6" y1="1202.8" x2="53.6" y2="1206.8" stroke="#444" stroke-width="0.8"/><line x1="74.9" y1="1202.8" x2="74.9" y2="1205.3" stroke="#444" stroke-width="0.8"/><line x1="96.2" y1="1202.8" x2="96.2" y2="1205.3" stroke="#444" stroke-width="0.8"/><line x1="138.9" y1="1202.8" x2="138.9" y2="1205.3" stroke="#444" stroke-width="0.8"/><line x1="160.2" y1="1202.8" x2="160.2" y2="1206.8" stroke="#444" stroke-width="0.8"/><line x1="202.8" y1="1202.8" x2="202.8" y2="1205.3" stroke="#444" stroke-width="0.8"/><line x1="224.2" y1="1202.8" x2="224.2" y2="1205.3" stroke="#444" stroke-width="0.8"/><line x1="266.8" y1="1202.8" x2="266.8" y2="1206.8" stroke="#444" stroke-width="0.8"/><line x1="288.1" y1="1202.8" x2="288.1" y2="1205.3" stroke="#444" stroke-width="0.8"/><line x1="309.4" y1="1202.8" x2="309.4" y2="1205.3" stroke="#444" stroke-width="0.8"/><line x1="330.8" y1="1202.8" x2="330.8" y2="1205.3" stroke="#444" stroke-width="0.8"/><line x1="352.1" y1="1202.8" x2="352.1" y2="1205.3" stroke="#444" stroke-width="0.8"/><line x1="373.4" y1="1202.8" x2="373.4" y2="1206.8" stroke="#444" stroke-width="0.8"/><line x1="394.7" y1="1202.8" x2="394.7" y2="1205.3" stroke="#444" stroke-width="0.8"/><line x1="416" y1="1202.8" x2="416" y2="1205.3" stroke="#444" stroke-width="0.8"/><line x1="437.4" y1="1202.8" x2="437.4" y2="1205.3" stroke="#444" stroke-width="0.8"/><line x1="458.7" y1="1202.8" x2="458.7" y2="1205.3" stroke="#444" stroke-width="0.8"/><line x1="501.3" y1="1202.8" x2="501.3" y2="1205.3" stroke="#444" stroke-width="0.8"/><line x1="522.6" y1="1202.8" x2="522.6" y2="1205.3" stroke="#444" stroke-width="0.8"/><line x1="544" y1="1202.8" x2="544" y2="1205.3" stroke="#444" stroke-width="0.8"/><line x1="565.3" y1="1202.8" x2="565.3" y2="1205.3" stroke="#444" stroke-width="0.8"/><line x1="586.6" y1="1202.8" x2="586.6" y2="1206.8" stroke="#444" stroke-width="0.8"/><line x1="49" y1="1011.4" x2="586.4" y2="1011.4" stroke="#4a4444" stroke-width="1.1"/><line x1="586.4" y1="1011.4" x2="586.4" y2="1204.8" stroke="#4a4444" stroke-width="1.1"/><text x="46.5" y="1014.2" font-size="8" text-anchor="end" fill="#333">8</text><text x="46.5" y="1041.5" font-size="8" text-anchor="end" fill="#333">6</text><text x="46.5" y="1068.9" font-size="8" text-anchor="end" fill="#333">4</text><text x="46.5" y="1096.2" font-size="8" text-anchor="end" fill="#333">2</text><text x="46.5" y="1123.6" font-size="8" text-anchor="end" fill="#333">0</text><text x="46.5" y="1150.9" font-size="8" text-anchor="end" fill="#333">-2</text><text x="46.5" y="1178.3" font-size="8" text-anchor="end" fill="#333">-4</text><text x="46.5" y="1205.6" font-size="8" text-anchor="end" fill="#333">-6</text><text x="53.6" y="1214.2" font-size="7.5" text-anchor="middle" fill="#333">0.00</text><text x="160.2" y="1214.2" font-size="7.5" text-anchor="middle" fill="#333">0.50</text><text x="266.8" y="1214.2" font-size="7.5" text-anchor="middle" fill="#333">1.00</text><text x="373.4" y="1214.2" font-size="7.5" text-anchor="middle" fill="#333">1.50</text><text x="480" y="1214.2" font-size="7.5" text-anchor="middle" fill="#333">2.00</text><text x="586.6" y="1214.2" font-size="7.5" text-anchor="middle" fill="#333">2.50</text><text x="310" y="995" font-size="11" text-anchor="middle" fill="#111" stroke="#111" stroke-width="0.25">Torque Plot 5</text><text x="321" y="1226.5" font-size="8.5" text-anchor="middle" fill="#222">Time [s]</text><text transform="translate(37.2 1107.8) rotate(-90)" font-size="8.05" text-anchor="middle" fill="#222" stroke="#222" stroke-width="0.15">Moving1.Torque [mNewtonMeter]</text><path d="M54.8 1109.8L59.9 1094.3L63.3 1095.6L66.6 1117.6L69.2 1156.3L71.8 1191.2L74.9 1156.3L80.1 1117.6L85.2 1086.6L88.6 1063.3L90.9 1089.2L94.3 1117.6L96.9 1125.3L100.2 1115L105.4 1094.8L108 1096.9L111.6 1096.9L115 1103.4L118.8 1133.1L121.7 1154.3L124.5 1130.5L127.9 1115L130.5 1111.9L134.3 1114.5L139.5 1108.5L144.7 1089.2L149.8 1068.5L155.5 1034.9L158.1 1063.3L161.5 1096.9L165.3 1108.5L170.5 1101.6L175.7 1081.4L180.8 1062.6L183.9 1071.1L186.5 1104.7L188.8 1137L191.7 1109.8L195.3 1093L198.9 1086.6L201.5 1083.5L204.1 1068.5L205.6 1052.5L207.7 1078.8L210.5 1117.6L213.9 1138.2L216.5 1140.3L218.5 1138.2L221.4 1118.9L224.8 1125.3L228.6 1127.9L232.5 1133.1L236.4 1151.2L238.2 1166.7L241.5 1135.7L245.4 1117.6L247.5 1116.3L250.6 1125.3L255.2 1146.5L258.3 1137L263.5 1130.5L267.4 1120.2L272 1101.6L274.3 1115L277.7 1126.6L280.3 1128.4L282.9 1125.3L285.5 1112.4L288.6 1098.7L291.1 1115L294.5 1125.3L297.1 1126.4L300 1122.8L305.2 1099.5L309 1098.2L312.4 1095.6L315.5 1101.6L318.1 1120.2L320.1 1146L322.2 1159.4L325.8 1148.6L329.7 1140.8L333.6 1138.2L336.2 1137.7L338.8 1127.9L340.8 1128.4L343.4 1125.3L346.5 1115L350.4 1094.3L353 1073.7L355.3 1062L357.4 1081.4L360.7 1104.7L364.1 1127.9L367.7 1146L371.6 1160.2L374.1 1143.4L377 1127.9L380.9 1122.2L384 1129.2L386.5 1146L388.4 1155.8L390.9 1135.7L394.3 1109.8L398.2 1084L400.8 1063.3L404.4 1043.2L407.2 1058.2L411.1 1075L415 1080.6L417.5 1075L420.1 1058.2L421.9 1048.3L424 1060.8L427.9 1076.2L433 1091.8L436.9 1107.2L438.5 1127.4L441.6 1127.9L444.7 1135.7L448.5 1151.2L452.4 1177L455 1195.6L457.6 1179.6L461.5 1148.6L465.3 1109.8L468.4 1073.7L471 1049.6L472.3 1071.6L474.4 1065.9L477 1064.1L480.8 1067.2L484.7 1064.6L488.6 1058.9L491.2 1073.7L494.3 1093L497.6 1101.6L501 1105.2L504.1 1102.1L505.4 1101.6L506.1 1114.2L509.2 1113.2L512.4 1111.1L515.7 1114.5L518.3 1125.3L520.1 1140.8L521.6 1149.1L524.8 1143.4L528.6 1137L532.5 1125.3L536.4 1109.8L539 1096.9L542.8 1084L546.5 1072.9" fill="none" stroke="#e32b20" stroke-width="1.25" stroke-linejoin="round"/><rect x="499" y="986" width="97.6" height="36.6" fill="#c4c4c4"/><rect x="497.4" y="984.4" width="97.6" height="36.6" fill="#fff" stroke="#4a4444" stroke-width="0.9"/><line x1="568.5" y1="984.4" x2="568.5" y2="1021" stroke="#cfcfcf" stroke-width="0.8"/><line x1="497.4" y1="994.4" x2="595" y2="994.4" stroke="#dedede" stroke-width="0.8"/><line x1="500.3" y1="1000.3" x2="510.5" y2="1000.3" stroke="#e32b20" stroke-width="1.1"/><text x="516.5" y="1002.6" font-size="6.3" fill="#444">Moving1.Torque</text><text x="500" y="1010.2" font-size="6.1" fill="#444">Setup1 : Transient</text><text x="500" y="1017.8" font-size="5.6" fill="#444">Rs='11.25ohm' Ts='1.47mm'</text><text x="581.5" y="992.3" font-size="6" text-anchor="middle" fill="#444">pk2pk</text><text x="581.5" y="1010.2" font-size="6" text-anchor="middle" fill="#444">11.9628</text><text x="328" y="1264.5" font-size="20" text-anchor="middle" fill="#555" textLength="187" lengthAdjust="spacingAndGlyphs">Groove torque curve</text><rect x="606.5" y="946.5" width="586.0" height="338.29999999999995" fill="#fff" stroke="#b4b4b4" stroke-width="1.2"/><g shape-rendering="crispEdges"><line x1="639.5" y1="1019.2" x2="1175.5" y2="1019.2" stroke="#dcdcdc" stroke-width="1"/><line x1="639.5" y1="1024.6" x2="1175.5" y2="1024.6" stroke="#f0f0f0" stroke-width="1"/><line x1="639.5" y1="1030" x2="1175.5" y2="1030" stroke="#f0f0f0" stroke-width="1"/><line x1="639.5" y1="1035.4" x2="1175.5" y2="1035.4" stroke="#f0f0f0" stroke-width="1"/><line x1="639.5" y1="1040.8" x2="1175.5" y2="1040.8" stroke="#dcdcdc" stroke-width="1"/><line x1="639.5" y1="1046.2" x2="1175.5" y2="1046.2" stroke="#f0f0f0" stroke-width="1"/><line x1="639.5" y1="1051.6" x2="1175.5" y2="1051.6" stroke="#f0f0f0" stroke-width="1"/><line x1="639.5" y1="1057" x2="1175.5" y2="1057" stroke="#f0f0f0" stroke-width="1"/><line x1="639.5" y1="1062.5" x2="1175.5" y2="1062.5" stroke="#dcdcdc" stroke-width="1"/><line x1="639.5" y1="1067.9" x2="1175.5" y2="1067.9" stroke="#f0f0f0" stroke-width="1"/><line x1="639.5" y1="1073.3" x2="1175.5" y2="1073.3" stroke="#f0f0f0" stroke-width="1"/><line x1="639.5" y1="1078.7" x2="1175.5" y2="1078.7" stroke="#f0f0f0" stroke-width="1"/><line x1="639.5" y1="1084.1" x2="1175.5" y2="1084.1" stroke="#dcdcdc" stroke-width="1"/><line x1="639.5" y1="1089.5" x2="1175.5" y2="1089.5" stroke="#f0f0f0" stroke-width="1"/><line x1="639.5" y1="1094.9" x2="1175.5" y2="1094.9" stroke="#f0f0f0" stroke-width="1"/><line x1="639.5" y1="1100.3" x2="1175.5" y2="1100.3" stroke="#f0f0f0" stroke-width="1"/><line x1="639.5" y1="1105.7" x2="1175.5" y2="1105.7" stroke="#dcdcdc" stroke-width="1"/><line x1="639.5" y1="1111.1" x2="1175.5" y2="1111.1" stroke="#f0f0f0" stroke-width="1"/><line x1="639.5" y1="1116.5" x2="1175.5" y2="1116.5" stroke="#f0f0f0" stroke-width="1"/><line x1="639.5" y1="1121.9" x2="1175.5" y2="1121.9" stroke="#f0f0f0" stroke-width="1"/><line x1="639.5" y1="1127.3" x2="1175.5" y2="1127.3" stroke="#dcdcdc" stroke-width="1"/><line x1="639.5" y1="1132.7" x2="1175.5" y2="1132.7" stroke="#f0f0f0" stroke-width="1"/><line x1="639.5" y1="1138.1" x2="1175.5" y2="1138.1" stroke="#f0f0f0" stroke-width="1"/><line x1="639.5" y1="1143.5" x2="1175.5" y2="1143.5" stroke="#f0f0f0" stroke-width="1"/><line x1="639.5" y1="1149" x2="1175.5" y2="1149" stroke="#dcdcdc" stroke-width="1"/><line x1="639.5" y1="1154.4" x2="1175.5" y2="1154.4" stroke="#f0f0f0" stroke-width="1"/><line x1="639.5" y1="1159.8" x2="1175.5" y2="1159.8" stroke="#f0f0f0" stroke-width="1"/><line x1="639.5" y1="1165.2" x2="1175.5" y2="1165.2" stroke="#f0f0f0" stroke-width="1"/><line x1="639.5" y1="1170.6" x2="1175.5" y2="1170.6" stroke="#dcdcdc" stroke-width="1"/><line x1="639.5" y1="1176" x2="1175.5" y2="1176" stroke="#f0f0f0" stroke-width="1"/><line x1="639.5" y1="1181.4" x2="1175.5" y2="1181.4" stroke="#f0f0f0" stroke-width="1"/><line x1="639.5" y1="1186.8" x2="1175.5" y2="1186.8" stroke="#f0f0f0" stroke-width="1"/><line x1="682.4" y1="1019.2" x2="682.4" y2="1192.2" stroke="#e8e8e8" stroke-width="1"/><line x1="703.8" y1="1019.2" x2="703.8" y2="1192.2" stroke="#e8e8e8" stroke-width="1"/><line x1="725.3" y1="1019.2" x2="725.3" y2="1192.2" stroke="#e8e8e8" stroke-width="1"/><line x1="746.7" y1="1019.2" x2="746.7" y2="1192.2" stroke="#d0d0d0" stroke-width="1"/><line x1="768.1" y1="1019.2" x2="768.1" y2="1192.2" stroke="#e8e8e8" stroke-width="1"/><line x1="789.6" y1="1019.2" x2="789.6" y2="1192.2" stroke="#e8e8e8" stroke-width="1"/><line x1="811" y1="1019.2" x2="811" y2="1192.2" stroke="#e8e8e8" stroke-width="1"/><line x1="832.5" y1="1019.2" x2="832.5" y2="1192.2" stroke="#e8e8e8" stroke-width="1"/><line x1="896.8" y1="1019.2" x2="896.8" y2="1192.2" stroke="#e8e8e8" stroke-width="1"/><line x1="918.2" y1="1019.2" x2="918.2" y2="1192.2" stroke="#e8e8e8" stroke-width="1"/><line x1="939.7" y1="1019.2" x2="939.7" y2="1192.2" stroke="#e8e8e8" stroke-width="1"/><line x1="961.1" y1="1019.2" x2="961.1" y2="1192.2" stroke="#d0d0d0" stroke-width="1"/><line x1="982.5" y1="1019.2" x2="982.5" y2="1192.2" stroke="#e8e8e8" stroke-width="1"/><line x1="1025.4" y1="1019.2" x2="1025.4" y2="1192.2" stroke="#e8e8e8" stroke-width="1"/><line x1="1046.9" y1="1019.2" x2="1046.9" y2="1192.2" stroke="#e8e8e8" stroke-width="1"/><line x1="1089.7" y1="1019.2" x2="1089.7" y2="1192.2" stroke="#e8e8e8" stroke-width="1"/><line x1="1111.2" y1="1019.2" x2="1111.2" y2="1192.2" stroke="#e8e8e8" stroke-width="1"/><line x1="1154.1" y1="1019.2" x2="1154.1" y2="1192.2" stroke="#e8e8e8" stroke-width="1"/></g><line x1="639.5" y1="1018.2" x2="639.5" y2="1192.2" stroke="#4a4444" stroke-width="1.1"/><line x1="637.5" y1="1192.2" x2="1175.5" y2="1192.2" stroke="#4a4444" stroke-width="1.1"/><line x1="1175.5" y1="1019.2" x2="1175.5" y2="1195.2" stroke="#4a4444" stroke-width="1.1"/><line x1="636.5" y1="1019.2" x2="639.5" y2="1019.2" stroke="#444" stroke-width="0.8"/><line x1="637.7" y1="1024.6" x2="639.5" y2="1024.6" stroke="#444" stroke-width="0.8"/><line x1="637.7" y1="1030" x2="639.5" y2="1030" stroke="#444" stroke-width="0.8"/><line x1="637.7" y1="1035.4" x2="639.5" y2="1035.4" stroke="#444" stroke-width="0.8"/><line x1="636.5" y1="1040.8" x2="639.5" y2="1040.8" stroke="#444" stroke-width="0.8"/><line x1="637.7" y1="1046.2" x2="639.5" y2="1046.2" stroke="#444" stroke-width="0.8"/><line x1="637.7" y1="1051.6" x2="639.5" y2="1051.6" stroke="#444" stroke-width="0.8"/><line x1="637.7" y1="1057" x2="639.5" y2="1057" stroke="#444" stroke-width="0.8"/><line x1="636.5" y1="1062.5" x2="639.5" y2="1062.5" stroke="#444" stroke-width="0.8"/><line x1="637.7" y1="1067.9" x2="639.5" y2="1067.9" stroke="#444" stroke-width="0.8"/><line x1="637.7" y1="1073.3" x2="639.5" y2="1073.3" stroke="#444" stroke-width="0.8"/><line x1="637.7" y1="1078.7" x2="639.5" y2="1078.7" stroke="#444" stroke-width="0.8"/><line x1="636.5" y1="1084.1" x2="639.5" y2="1084.1" stroke="#444" stroke-width="0.8"/><line x1="637.7" y1="1089.5" x2="639.5" y2="1089.5" stroke="#444" stroke-width="0.8"/><line x1="637.7" y1="1094.9" x2="639.5" y2="1094.9" stroke="#444" stroke-width="0.8"/><line x1="637.7" y1="1100.3" x2="639.5" y2="1100.3" stroke="#444" stroke-width="0.8"/><line x1="636.5" y1="1105.7" x2="639.5" y2="1105.7" stroke="#444" stroke-width="0.8"/><line x1="637.7" y1="1111.1" x2="639.5" y2="1111.1" stroke="#444" stroke-width="0.8"/><line x1="637.7" y1="1116.5" x2="639.5" y2="1116.5" stroke="#444" stroke-width="0.8"/><line x1="637.7" y1="1121.9" x2="639.5" y2="1121.9" stroke="#444" stroke-width="0.8"/><line x1="636.5" y1="1127.3" x2="639.5" y2="1127.3" stroke="#444" stroke-width="0.8"/><line x1="637.7" y1="1132.7" x2="639.5" y2="1132.7" stroke="#444" stroke-width="0.8"/><line x1="637.7" y1="1138.1" x2="639.5" y2="1138.1" stroke="#444" stroke-width="0.8"/><line x1="637.7" y1="1143.5" x2="639.5" y2="1143.5" stroke="#444" stroke-width="0.8"/><line x1="636.5" y1="1149" x2="639.5" y2="1149" stroke="#444" stroke-width="0.8"/><line x1="637.7" y1="1154.4" x2="639.5" y2="1154.4" stroke="#444" stroke-width="0.8"/><line x1="637.7" y1="1159.8" x2="639.5" y2="1159.8" stroke="#444" stroke-width="0.8"/><line x1="637.7" y1="1165.2" x2="639.5" y2="1165.2" stroke="#444" stroke-width="0.8"/><line x1="636.5" y1="1170.6" x2="639.5" y2="1170.6" stroke="#444" stroke-width="0.8"/><line x1="637.7" y1="1176" x2="639.5" y2="1176" stroke="#444" stroke-width="0.8"/><line x1="637.7" y1="1181.4" x2="639.5" y2="1181.4" stroke="#444" stroke-width="0.8"/><line x1="637.7" y1="1186.8" x2="639.5" y2="1186.8" stroke="#444" stroke-width="0.8"/><line x1="636.5" y1="1192.2" x2="639.5" y2="1192.2" stroke="#444" stroke-width="0.8"/><line x1="639.5" y1="1192.2" x2="639.5" y2="1195.7" stroke="#444" stroke-width="0.8"/><line x1="660.9" y1="1192.2" x2="660.9" y2="1194.2" stroke="#444" stroke-width="0.8"/><line x1="682.4" y1="1192.2" x2="682.4" y2="1194.2" stroke="#444" stroke-width="0.8"/><line x1="703.8" y1="1192.2" x2="703.8" y2="1194.2" stroke="#444" stroke-width="0.8"/><line x1="725.3" y1="1192.2" x2="725.3" y2="1194.2" stroke="#444" stroke-width="0.8"/><line x1="746.7" y1="1192.2" x2="746.7" y2="1195.7" stroke="#444" stroke-width="0.8"/><line x1="768.1" y1="1192.2" x2="768.1" y2="1194.2" stroke="#444" stroke-width="0.8"/><line x1="789.6" y1="1192.2" x2="789.6" y2="1194.2" stroke="#444" stroke-width="0.8"/><line x1="811" y1="1192.2" x2="811" y2="1194.2" stroke="#444" stroke-width="0.8"/><line x1="832.5" y1="1192.2" x2="832.5" y2="1194.2" stroke="#444" stroke-width="0.8"/><line x1="853.9" y1="1192.2" x2="853.9" y2="1195.7" stroke="#444" stroke-width="0.8"/><line x1="875.3" y1="1192.2" x2="875.3" y2="1194.2" stroke="#444" stroke-width="0.8"/><line x1="896.8" y1="1192.2" x2="896.8" y2="1194.2" stroke="#444" stroke-width="0.8"/><line x1="918.2" y1="1192.2" x2="918.2" y2="1194.2" stroke="#444" stroke-width="0.8"/><line x1="939.7" y1="1192.2" x2="939.7" y2="1194.2" stroke="#444" stroke-width="0.8"/><line x1="961.1" y1="1192.2" x2="961.1" y2="1195.7" stroke="#444" stroke-width="0.8"/><line x1="982.5" y1="1192.2" x2="982.5" y2="1194.2" stroke="#444" stroke-width="0.8"/><line x1="1004" y1="1192.2" x2="1004" y2="1194.2" stroke="#444" stroke-width="0.8"/><line x1="1025.4" y1="1192.2" x2="1025.4" y2="1194.2" stroke="#444" stroke-width="0.8"/><line x1="1046.9" y1="1192.2" x2="1046.9" y2="1194.2" stroke="#444" stroke-width="0.8"/><line x1="1068.3" y1="1192.2" x2="1068.3" y2="1195.7" stroke="#444" stroke-width="0.8"/><line x1="1089.7" y1="1192.2" x2="1089.7" y2="1194.2" stroke="#444" stroke-width="0.8"/><line x1="1111.2" y1="1192.2" x2="1111.2" y2="1194.2" stroke="#444" stroke-width="0.8"/><line x1="1132.6" y1="1192.2" x2="1132.6" y2="1194.2" stroke="#444" stroke-width="0.8"/><line x1="1154.1" y1="1192.2" x2="1154.1" y2="1194.2" stroke="#444" stroke-width="0.8"/><line x1="1175.5" y1="1192.2" x2="1175.5" y2="1195.7" stroke="#444" stroke-width="0.8"/><text x="634" y="1021.8" font-size="7" text-anchor="end" fill="#333">8</text><text x="634" y="1043.4" font-size="7" text-anchor="end" fill="#333">6</text><text x="634" y="1065" font-size="7" text-anchor="end" fill="#333">4</text><text x="634" y="1086.7" font-size="7" text-anchor="end" fill="#333">2</text><text x="634" y="1108.3" font-size="7" text-anchor="end" fill="#333">0</text><text x="634" y="1129.9" font-size="7" text-anchor="end" fill="#333">-2</text><text x="634" y="1151.5" font-size="7" text-anchor="end" fill="#333">-4</text><text x="634" y="1173.2" font-size="7" text-anchor="end" fill="#333">-6</text><text x="634" y="1194.8" font-size="7" text-anchor="end" fill="#333">-8</text><text x="639.5" y="1204.5" font-size="7.5" text-anchor="middle" fill="#333">0</text><text x="746.7" y="1204.5" font-size="7.5" text-anchor="middle" fill="#333">2</text><text x="853.9" y="1204.5" font-size="7.5" text-anchor="middle" fill="#333">4</text><text x="961.1" y="1204.5" font-size="7.5" text-anchor="middle" fill="#333">6</text><text x="1068.3" y="1204.5" font-size="7.5" text-anchor="middle" fill="#333">8</text><text x="1175.5" y="1204.5" font-size="7.5" text-anchor="middle" fill="#333">10</text><text x="897.5" y="1004.5" font-size="11" text-anchor="middle" fill="#111" stroke="#111" stroke-width="0.25">Plot 1</text><text x="907" y="1215.5" font-size="7.6" text-anchor="middle" fill="#222" stroke="#222" stroke-width="0.15">Time [ms]</text><text transform="translate(624.8 1108) rotate(-90)" font-size="7.2" text-anchor="middle" fill="#222" textLength="176" lengthAdjust="spacingAndGlyphs">InducedVoltage(PhaseA) - InducedVoltage(PhaseB)...[V]</text><path d="M639.5 1145.4L642.2 1150.6L644.9 1155.5L647.5 1160.2L650.2 1164.7L652.9 1168.8L655.6 1172.7L658.3 1176.3L660.9 1179.5L663.6 1182.4L666.3 1184.9L669 1187.1L671.7 1188.9L674.3 1190.3L677 1191.3L679.7 1191.9L682.4 1192.1L685.1 1191.9L687.7 1191.3L690.4 1190.3L693.1 1188.9L695.8 1187.1L698.5 1184.9L701.1 1182.4L703.8 1179.5L706.5 1176.3L709.2 1172.7L711.9 1168.8L714.5 1164.7L717.2 1160.2L719.9 1155.5L722.6 1150.6L725.3 1145.4L727.9 1140.1L730.6 1134.6L733.3 1129L736 1123.3L738.7 1117.5L741.3 1111.6L744 1105.7L746.7 1099.8L749.4 1093.9L752.1 1088.1L754.7 1082.4L757.4 1076.8L760.1 1071.3L762.8 1066L765.5 1060.8L768.1 1055.9L770.8 1051.2L773.5 1046.7L776.2 1042.6L778.9 1038.7L781.5 1035.1L784.2 1031.9L786.9 1029L789.6 1026.5L792.3 1024.3L794.9 1022.5L797.6 1021.1L800.3 1020.1L803 1019.5L805.7 1019.3L808.3 1019.5L811 1020.1L813.7 1021.1L816.4 1022.5L819.1 1024.3L821.7 1026.5L824.4 1029L827.1 1031.9L829.8 1035.1L832.5 1038.7L835.1 1042.6L837.8 1046.7L840.5 1051.2L843.2 1055.9L845.9 1060.8L848.5 1066L851.2 1071.3L853.9 1076.8L856.6 1082.4L859.3 1088.1L861.9 1093.9L864.6 1099.8L867.3 1105.7L870 1111.6L872.7 1117.5L875.3 1123.3L878 1129L880.7 1134.6L883.4 1140.1L886.1 1145.4L888.7 1150.6L891.4 1155.5L894.1 1160.2L896.8 1164.7L899.5 1168.8L902.1 1172.7L904.8 1176.3L907.5 1179.5L910.2 1182.4L912.9 1184.9L915.5 1187.1L918.2 1188.9L920.9 1190.3L923.6 1191.3L926.3 1191.9L928.9 1192.1L931.6 1191.9L934.3 1191.3L937 1190.3L939.7 1188.9L942.3 1187.1L945 1184.9L947.7 1182.4L950.4 1179.5L953.1 1176.3L955.7 1172.7L958.4 1168.8L961.1 1164.7L963.8 1160.2L966.5 1155.5L969.1 1150.6L971.8 1145.4L974.5 1140.1L977.2 1134.6L979.9 1129L982.5 1123.3L985.2 1117.5L987.9 1111.6L990.6 1105.7L993.3 1099.8L995.9 1093.9L998.6 1088.1L1001.3 1082.4L1004 1076.8L1006.7 1071.3L1009.3 1066L1012 1060.8L1014.7 1055.9L1017.4 1051.2L1020.1 1046.7L1022.7 1042.6L1025.4 1038.7L1028.1 1035.1L1030.8 1031.9L1033.5 1029L1036.1 1026.5L1038.8 1024.3L1041.5 1022.5L1044.2 1021.1L1046.9 1020.1L1049.5 1019.5L1052.2 1019.3L1054.9 1019.5L1057.6 1020.1L1060.3 1021.1L1062.9 1022.5L1065.6 1024.3L1068.3 1026.5L1071 1029L1073.7 1031.9L1076.3 1035.1L1079 1038.7L1081.7 1042.6L1084.4 1046.7L1087.1 1051.2L1089.7 1055.9L1092.4 1060.8L1095.1 1066L1097.8 1071.3L1100.5 1076.8L1103.1 1082.4L1105.8 1088.1L1108.5 1093.9L1111.2 1099.8L1113.9 1105.7L1116.5 1111.6L1119.2 1117.5L1121.9 1123.3L1124.6 1129L1127.3 1134.6L1129.9 1140.1L1132.6 1145.4" fill="none" stroke="#e32b20" stroke-width="1.2" stroke-linejoin="round"/><rect x="1003.2" y="996" width="184.2" height="33.8" fill="#c4c4c4"/><rect x="1001.6" y="994.3" width="184.2" height="33.8" fill="#fff"/><path d="M1001.6 994.3V1028.1H1185.8" fill="none" stroke="#4a4444" stroke-width="0.9"/><line x1="1162.5" y1="994.3" x2="1162.5" y2="1028" stroke="#cfcfcf" stroke-width="0.8"/><line x1="1001.6" y1="1003.2" x2="1185.8" y2="1003.2" stroke="#e0e0e0" stroke-width="0.8"/><line x1="1004.5" y1="1008.7" x2="1015" y2="1008.7" stroke="#e32b20" stroke-width="1.1"/><text x="1021" y="1011" font-size="6" fill="#444" textLength="139" lengthAdjust="spacingAndGlyphs">InducedVoltage(PhaseA) - InducedVoltage(PhaseB)</text><text x="1004" y="1018.3" font-size="6" fill="#444">Setup1 : Transient</text><text x="1004" y="1025" font-size="5.6" fill="#444">Rs='0.125ohm' Ts='0.4mm'</text><text x="1174" y="1001.5" font-size="6" text-anchor="middle" fill="#444">max</text><text x="1174" y="1018.3" font-size="6" text-anchor="middle" fill="#444">7.9982</text><text x="916.5" y="1264.5" font-size="20" text-anchor="middle" fill="#555" textLength="331" lengthAdjust="spacingAndGlyphs">Line back potential waveform curve</text><rect x="17.5" y="1298.5" width="576.0" height="378.0" fill="#fff" stroke="#8a8a8a" stroke-width="1.2"/><g shape-rendering="crispEdges"><line x1="79.9" y1="1356.3" x2="79.9" y2="1592.5" stroke="#ececec" stroke-width="1"/><line x1="94.2" y1="1356.3" x2="94.2" y2="1592.5" stroke="#ececec" stroke-width="1"/><line x1="108.4" y1="1356.3" x2="108.4" y2="1592.5" stroke="#ececec" stroke-width="1"/><line x1="122.7" y1="1356.3" x2="122.7" y2="1592.5" stroke="#ececec" stroke-width="1"/><line x1="136.9" y1="1356.3" x2="136.9" y2="1592.5" stroke="#ececec" stroke-width="1"/><line x1="151.2" y1="1356.3" x2="151.2" y2="1592.5" stroke="#ececec" stroke-width="1"/><line x1="165.4" y1="1356.3" x2="165.4" y2="1592.5" stroke="#ececec" stroke-width="1"/><line x1="179.6" y1="1356.3" x2="179.6" y2="1592.5" stroke="#ececec" stroke-width="1"/><line x1="193.9" y1="1356.3" x2="193.9" y2="1592.5" stroke="#ececec" stroke-width="1"/><line x1="208.1" y1="1356.3" x2="208.1" y2="1592.5" stroke="#ececec" stroke-width="1"/><line x1="222.4" y1="1356.3" x2="222.4" y2="1592.5" stroke="#ececec" stroke-width="1"/><line x1="236.6" y1="1356.3" x2="236.6" y2="1592.5" stroke="#ececec" stroke-width="1"/><line x1="250.9" y1="1356.3" x2="250.9" y2="1592.5" stroke="#ececec" stroke-width="1"/><line x1="265.1" y1="1356.3" x2="265.1" y2="1592.5" stroke="#ececec" stroke-width="1"/><line x1="279.3" y1="1356.3" x2="279.3" y2="1592.5" stroke="#ececec" stroke-width="1"/><line x1="293.6" y1="1356.3" x2="293.6" y2="1592.5" stroke="#ececec" stroke-width="1"/><line x1="307.8" y1="1356.3" x2="307.8" y2="1592.5" stroke="#ececec" stroke-width="1"/><line x1="322.1" y1="1356.3" x2="322.1" y2="1592.5" stroke="#ececec" stroke-width="1"/><line x1="336.3" y1="1356.3" x2="336.3" y2="1592.5" stroke="#ececec" stroke-width="1"/><line x1="350.6" y1="1356.3" x2="350.6" y2="1592.5" stroke="#ececec" stroke-width="1"/><line x1="364.8" y1="1356.3" x2="364.8" y2="1592.5" stroke="#ececec" stroke-width="1"/><line x1="379" y1="1356.3" x2="379" y2="1592.5" stroke="#ececec" stroke-width="1"/><line x1="393.3" y1="1356.3" x2="393.3" y2="1592.5" stroke="#ececec" stroke-width="1"/><line x1="407.5" y1="1356.3" x2="407.5" y2="1592.5" stroke="#ececec" stroke-width="1"/><line x1="421.8" y1="1356.3" x2="421.8" y2="1592.5" stroke="#ececec" stroke-width="1"/><line x1="436" y1="1356.3" x2="436" y2="1592.5" stroke="#ececec" stroke-width="1"/><line x1="450.3" y1="1356.3" x2="450.3" y2="1592.5" stroke="#ececec" stroke-width="1"/><line x1="464.5" y1="1356.3" x2="464.5" y2="1592.5" stroke="#ececec" stroke-width="1"/><line x1="478.7" y1="1356.3" x2="478.7" y2="1592.5" stroke="#ececec" stroke-width="1"/><line x1="493" y1="1356.3" x2="493" y2="1592.5" stroke="#ececec" stroke-width="1"/><line x1="507.2" y1="1356.3" x2="507.2" y2="1592.5" stroke="#ececec" stroke-width="1"/><line x1="521.5" y1="1356.3" x2="521.5" y2="1592.5" stroke="#ececec" stroke-width="1"/><line x1="535.7" y1="1356.3" x2="535.7" y2="1592.5" stroke="#ececec" stroke-width="1"/><line x1="550" y1="1356.3" x2="550" y2="1592.5" stroke="#ececec" stroke-width="1"/><line x1="65.7" y1="1584.6" x2="564.2" y2="1584.6" stroke="#ececec" stroke-width="1"/><line x1="65.7" y1="1576.8" x2="564.2" y2="1576.8" stroke="#ececec" stroke-width="1"/><line x1="65.7" y1="1568.9" x2="564.2" y2="1568.9" stroke="#ececec" stroke-width="1"/><line x1="65.7" y1="1561" x2="564.2" y2="1561" stroke="#ececec" stroke-width="1"/><line x1="65.7" y1="1553.1" x2="564.2" y2="1553.1" stroke="#ececec" stroke-width="1"/><line x1="65.7" y1="1545.3" x2="564.2" y2="1545.3" stroke="#ececec" stroke-width="1"/><line x1="65.7" y1="1537.4" x2="564.2" y2="1537.4" stroke="#ececec" stroke-width="1"/><line x1="65.7" y1="1529.5" x2="564.2" y2="1529.5" stroke="#ececec" stroke-width="1"/><line x1="65.7" y1="1521.7" x2="564.2" y2="1521.7" stroke="#ececec" stroke-width="1"/><line x1="65.7" y1="1513.8" x2="564.2" y2="1513.8" stroke="#ececec" stroke-width="1"/><line x1="65.7" y1="1505.9" x2="564.2" y2="1505.9" stroke="#ececec" stroke-width="1"/><line x1="65.7" y1="1498" x2="564.2" y2="1498" stroke="#ececec" stroke-width="1"/><line x1="65.7" y1="1490.2" x2="564.2" y2="1490.2" stroke="#ececec" stroke-width="1"/><line x1="65.7" y1="1482.3" x2="564.2" y2="1482.3" stroke="#ececec" stroke-width="1"/><line x1="65.7" y1="1474.4" x2="564.2" y2="1474.4" stroke="#ececec" stroke-width="1"/><line x1="65.7" y1="1466.5" x2="564.2" y2="1466.5" stroke="#ececec" stroke-width="1"/><line x1="65.7" y1="1458.7" x2="564.2" y2="1458.7" stroke="#ececec" stroke-width="1"/><line x1="65.7" y1="1450.8" x2="564.2" y2="1450.8" stroke="#ececec" stroke-width="1"/><line x1="65.7" y1="1442.9" x2="564.2" y2="1442.9" stroke="#ececec" stroke-width="1"/><line x1="65.7" y1="1435.1" x2="564.2" y2="1435.1" stroke="#ececec" stroke-width="1"/><line x1="65.7" y1="1427.2" x2="564.2" y2="1427.2" stroke="#ececec" stroke-width="1"/><line x1="65.7" y1="1419.3" x2="564.2" y2="1419.3" stroke="#ececec" stroke-width="1"/><line x1="65.7" y1="1411.4" x2="564.2" y2="1411.4" stroke="#ececec" stroke-width="1"/><line x1="65.7" y1="1403.6" x2="564.2" y2="1403.6" stroke="#ececec" stroke-width="1"/><line x1="65.7" y1="1395.7" x2="564.2" y2="1395.7" stroke="#ececec" stroke-width="1"/><line x1="65.7" y1="1387.8" x2="564.2" y2="1387.8" stroke="#ececec" stroke-width="1"/><line x1="65.7" y1="1380" x2="564.2" y2="1380" stroke="#ececec" stroke-width="1"/><line x1="65.7" y1="1372.1" x2="564.2" y2="1372.1" stroke="#ececec" stroke-width="1"/><line x1="65.7" y1="1364.2" x2="564.2" y2="1364.2" stroke="#ececec" stroke-width="1"/></g><defs><clipPath id="eclip"><path d="M65.7 1592.5L65.7 1392L328.6 1392L340.9 1393.7L353 1397.1L366.9 1405.5L383 1419.7L399 1432.5L404.7 1437.4L420.3 1448.8L431.7 1459.1L448.8 1472.5L463.1 1482.9L477.3 1493.7L493 1503.5L500.5 1509.8L512.9 1518.7L525 1526.2L539.3 1537.6L551.4 1550.2L564.2 1562.2L564.2 1592.5Z"/></clipPath><filter id="hb" x="-2%" y="-2%" width="104%" height="104%" color-interpolation-filters="sRGB"><feGaussianBlur stdDeviation="2.2 0.5"/></filter><linearGradient id="e0" x1="0" y1="0" x2="0" y2="1"><stop offset="0" stop-color="#1f4ca4"/><stop offset="1" stop-color="#1f4ca4"/></linearGradient><linearGradient id="e1" x1="0" y1="0" x2="0" y2="1"><stop offset="0" stop-color="#204fa6"/><stop offset="0.7624" stop-color="#2458ac"/><stop offset="0.8714" stop-color="#2876c4"/><stop offset="0.9566" stop-color="#2caae9"/><stop offset="0.971" stop-color="#2b9de0"/><stop offset="0.9917" stop-color="#2459ad"/><stop offset="1" stop-color="#1f4ca4"/></linearGradient><linearGradient id="e2" x1="0" y1="0" x2="0" y2="1"><stop offset="0" stop-color="#2355aa"/><stop offset="0.2694" stop-color="#2458ac"/><stop offset="0.5331" stop-color="#2770bf"/><stop offset="0.6535" stop-color="#2a85cf"/><stop offset="0.7624" stop-color="#2cb4f0"/><stop offset="0.8489" stop-color="#6ac6c6"/><stop offset="0.9115" stop-color="#6cbc5a"/><stop offset="0.9651" stop-color="#6db944"/><stop offset="0.978" stop-color="#6cbc58"/><stop offset="0.9827" stop-color="#6bc086"/><stop offset="0.9869" stop-color="#6ac6c6"/><stop offset="0.9917" stop-color="#2cb1ee"/><stop offset="0.997" stop-color="#255caf"/><stop offset="1" stop-color="#1f4ca4"/></linearGradient><linearGradient id="e3" x1="0" y1="0" x2="0" y2="1"><stop offset="0" stop-color="#2562b4"/><stop offset="0.4184" stop-color="#2a85d0"/><stop offset="0.5953" stop-color="#2cb4f0"/><stop offset="0.7281" stop-color="#68c5c9"/><stop offset="0.8248" stop-color="#6cbc57"/><stop offset="0.8923" stop-color="#6eb62d"/><stop offset="0.952" stop-color="#77b929"/><stop offset="0.9827" stop-color="#6eb62c"/><stop offset="0.9882" stop-color="#6cbc58"/><stop offset="0.9917" stop-color="#6ac5b9"/><stop offset="0.9946" stop-color="#2fb5ee"/><stop offset="0.9982" stop-color="#245aad"/><stop offset="1" stop-color="#1f4ca4"/></linearGradient><linearGradient id="e4" x1="0" y1="0" x2="0" y2="1"><stop offset="0" stop-color="#2877c4"/><stop offset="0.2055" stop-color="#2a88d2"/><stop offset="0.4464" stop-color="#30b5ee"/><stop offset="0.619" stop-color="#6ac6c8"/><stop offset="0.7431" stop-color="#6cbc5a"/><stop offset="0.833" stop-color="#6eb62d"/><stop offset="0.9262" stop-color="#7bba28"/><stop offset="0.961" stop-color="#a1c92a"/><stop offset="0.9882" stop-color="#6eb731"/><stop offset="0.9917" stop-color="#6cbd65"/><stop offset="0.9946" stop-color="#5cc2d1"/><stop offset="0.9962" stop-color="#2cadeb"/><stop offset="0.9987" stop-color="#2458ac"/><stop offset="1" stop-color="#1f4ca4"/></linearGradient><linearGradient id="e5" x1="0" y1="0" x2="0" y2="1"><stop offset="0" stop-color="#2a8bd4"/><stop offset="0.2694" stop-color="#2cb4f0"/><stop offset="0.4395" stop-color="#55c0d6"/><stop offset="0.5071" stop-color="#6ac6c8"/><stop offset="0.6702" stop-color="#6cbc57"/><stop offset="0.7765" stop-color="#6eb62d"/><stop offset="0.8889" stop-color="#7aba28"/><stop offset="0.952" stop-color="#d2d82a"/><stop offset="0.9671" stop-color="#c1d52c"/><stop offset="0.9812" stop-color="#7fbb28"/><stop offset="0.9894" stop-color="#70b72b"/><stop offset="0.9927" stop-color="#6cbb53"/><stop offset="0.9954" stop-color="#62c4cd"/><stop offset="0.997" stop-color="#2caceb"/><stop offset="0.9987" stop-color="#2562b4"/><stop offset="1" stop-color="#1f4ca4"/></linearGradient><linearGradient id="e6" x1="0" y1="0" x2="0" y2="1"><stop offset="0" stop-color="#2ba5e5"/><stop offset="0.1054" stop-color="#2cb4f0"/><stop offset="0.3898" stop-color="#69c6c9"/><stop offset="0.5953" stop-color="#6cbc57"/><stop offset="0.7281" stop-color="#6eb62c"/><stop offset="0.8641" stop-color="#7bba28"/><stop offset="0.9345" stop-color="#ecdc28"/><stop offset="0.9566" stop-color="#eed626"/><stop offset="0.9691" stop-color="#dcd929"/><stop offset="0.978" stop-color="#b1d02b"/><stop offset="0.9842" stop-color="#81bc28"/><stop offset="0.9917" stop-color="#6eb62c"/><stop offset="0.9937" stop-color="#6cbb51"/><stop offset="0.9962" stop-color="#5dc2d0"/><stop offset="0.997" stop-color="#3bb8e6"/><stop offset="0.9976" stop-color="#2ba1e3"/><stop offset="0.9991" stop-color="#2458ac"/><stop offset="1" stop-color="#1f4ca4"/></linearGradient><linearGradient id="e7" x1="0" y1="0" x2="0" y2="1"><stop offset="0" stop-color="#35b7ea"/><stop offset="0.2849" stop-color="#6ac6c8"/><stop offset="0.5395" stop-color="#6cbb51"/><stop offset="0.6756" stop-color="#6eb62c"/><stop offset="0.8289" stop-color="#7aba28"/><stop offset="0.8489" stop-color="#89bf29"/><stop offset="0.9115" stop-color="#ecdc28"/><stop offset="0.9497" stop-color="#f4c120"/><stop offset="0.971" stop-color="#ecdb28"/><stop offset="0.978" stop-color="#c9d62b"/><stop offset="0.9869" stop-color="#7cba28"/><stop offset="0.9927" stop-color="#6eb62d"/><stop offset="0.9946" stop-color="#6cbc55"/><stop offset="0.9962" stop-color="#6ac5ba"/><stop offset="0.9976" stop-color="#2cb2ef"/><stop offset="0.9991" stop-color="#255caf"/><stop offset="1" stop-color="#1f4ca4"/></linearGradient><linearGradient id="e8" x1="0" y1="0" x2="0" y2="1"><stop offset="0" stop-color="#4bbddc"/><stop offset="0.1728" stop-color="#6ac6c8"/><stop offset="0.4395" stop-color="#6cbc58"/><stop offset="0.619" stop-color="#6eb62c"/><stop offset="0.7991" stop-color="#7aba28"/><stop offset="0.8289" stop-color="#91c329"/><stop offset="0.8923" stop-color="#ecdb28"/><stop offset="0.9397" stop-color="#f2a71e"/><stop offset="0.9651" stop-color="#f4c120"/><stop offset="0.9763" stop-color="#e7db28"/><stop offset="0.9882" stop-color="#7cba28"/><stop offset="0.9927" stop-color="#70b72b"/><stop offset="0.9937" stop-color="#6eb732"/><stop offset="0.9954" stop-color="#6cbd66"/><stop offset="0.997" stop-color="#60c3ce"/><stop offset="0.9976" stop-color="#3ab8e7"/><stop offset="0.9982" stop-color="#2b9bde"/><stop offset="0.9991" stop-color="#2561b3"/><stop offset="1" stop-color="#1f4ca4"/></linearGradient><linearGradient id="e9" x1="0" y1="0" x2="0" y2="1"><stop offset="0" stop-color="#5fc3cf"/><stop offset="0.1225" stop-color="#6ac4b6"/><stop offset="0.368" stop-color="#6cbc57"/><stop offset="0.5647" stop-color="#6eb62c"/><stop offset="0.7765" stop-color="#7bba28"/><stop offset="0.8121" stop-color="#9ac62a"/><stop offset="0.875" stop-color="#edd927"/><stop offset="0.9371" stop-color="#f0931c"/><stop offset="0.9566" stop-color="#f19c1d"/><stop offset="0.9691" stop-color="#f4bd20"/><stop offset="0.978" stop-color="#ecdc28"/><stop offset="0.9842" stop-color="#b9d32c"/><stop offset="0.9894" stop-color="#7bba28"/><stop offset="0.9937" stop-color="#6fb62c"/><stop offset="0.9954" stop-color="#6cbb52"/><stop offset="0.997" stop-color="#6ac5c1"/><stop offset="0.9976" stop-color="#47bcdf"/><stop offset="0.9982" stop-color="#2ba6e6"/><stop offset="0.9991" stop-color="#2666b7"/><stop offset="1" stop-color="#1f4ca4"/></linearGradient><linearGradient id="e10" x1="0" y1="0" x2="0" y2="1"><stop offset="0" stop-color="#6ac5bb"/><stop offset="0.3532" stop-color="#6dba4b"/><stop offset="0.5137" stop-color="#6eb62c"/><stop offset="0.748" stop-color="#7bba28"/><stop offset="0.8035" stop-color="#aacd2b"/><stop offset="0.8527" stop-color="#eadc28"/><stop offset="0.9234" stop-color="#ef871b"/><stop offset="0.9448" stop-color="#ef831b"/><stop offset="0.9588" stop-color="#f0901c"/><stop offset="0.9728" stop-color="#f4bf20"/><stop offset="0.9796" stop-color="#ecda28"/><stop offset="0.9842" stop-color="#c7d62b"/><stop offset="0.9906" stop-color="#7aba28"/><stop offset="0.9937" stop-color="#71b72b"/><stop offset="0.9954" stop-color="#6dba48"/><stop offset="0.9962" stop-color="#6cbe6e"/><stop offset="0.997" stop-color="#6bc3ac"/><stop offset="0.9982" stop-color="#2cb0ed"/><stop offset="0.9995" stop-color="#2356ab"/><stop offset="1" stop-color="#1f4ca4"/></linearGradient><linearGradient id="e11" x1="0" y1="0" x2="0" y2="1"><stop offset="0" stop-color="#6bc29e"/><stop offset="0.2137" stop-color="#6cbc58"/><stop offset="0.4602" stop-color="#6eb62c"/><stop offset="0.7231" stop-color="#7bba28"/><stop offset="0.7902" stop-color="#b3d02b"/><stop offset="0.837" stop-color="#ecdc28"/><stop offset="0.9145" stop-color="#ee7d1a"/><stop offset="0.9397" stop-color="#ee761a"/><stop offset="0.9588" stop-color="#ef841b"/><stop offset="0.9746" stop-color="#f4bc20"/><stop offset="0.9812" stop-color="#ecdb28"/><stop offset="0.9869" stop-color="#b3d02b"/><stop offset="0.9906" stop-color="#7cba28"/><stop offset="0.9946" stop-color="#6fb62c"/><stop offset="0.9962" stop-color="#6cbc5b"/><stop offset="0.9976" stop-color="#5dc2d0"/><stop offset="0.9982" stop-color="#32b6ec"/><stop offset="0.9995" stop-color="#2457ab"/><stop offset="1" stop-color="#1f4ca4"/></linearGradient><linearGradient id="e12" x1="0" y1="0" x2="0" y2="1"><stop offset="0" stop-color="#6bc084"/><stop offset="0.1478" stop-color="#6cbc56"/><stop offset="0.4113" stop-color="#6eb62c"/><stop offset="0.6971" stop-color="#7bba28"/><stop offset="0.8206" stop-color="#ecdb28"/><stop offset="0.9021" stop-color="#ee7a1a"/><stop offset="0.9423" stop-color="#ed6e1a"/><stop offset="0.9588" stop-color="#ee7a1a"/><stop offset="0.9691" stop-color="#f0961c"/><stop offset="0.9763" stop-color="#f4bb20"/><stop offset="0.9827" stop-color="#ebdc28"/><stop offset="0.9906" stop-color="#86be29"/><stop offset="0.9946" stop-color="#70b72b"/><stop offset="0.9962" stop-color="#6cbb52"/><stop offset="0.9976" stop-color="#67c5ca"/><stop offset="0.9982" stop-color="#3ab8e7"/><stop offset="0.9987" stop-color="#2b95da"/><stop offset="0.9995" stop-color="#2457ac"/><stop offset="1" stop-color="#1f4ca4"/></linearGradient><linearGradient id="e13" x1="0" y1="0" x2="0" y2="1"><stop offset="0" stop-color="#6cbe6b"/><stop offset="0.3606" stop-color="#6eb62c"/><stop offset="0.6756" stop-color="#7cba28"/><stop offset="0.7991" stop-color="#e9dc28"/><stop offset="0.833" stop-color="#f4c220"/><stop offset="0.8889" stop-color="#ee791a"/><stop offset="0.9318" stop-color="#ec671a"/><stop offset="0.961" stop-color="#ee771a"/><stop offset="0.9691" stop-color="#f08d1c"/><stop offset="0.978" stop-color="#f4bd20"/><stop offset="0.9842" stop-color="#e6db28"/><stop offset="0.9917" stop-color="#7cba28"/><stop offset="0.9954" stop-color="#6eb731"/><stop offset="0.9962" stop-color="#6dba4b"/><stop offset="0.997" stop-color="#6bbf7a"/><stop offset="0.9976" stop-color="#6ac5bf"/><stop offset="0.9982" stop-color="#42bae2"/><stop offset="0.9987" stop-color="#2b9bdf"/><stop offset="0.9995" stop-color="#2458ac"/><stop offset="1" stop-color="#1f4ca4"/></linearGradient><linearGradient id="e14" x1="0" y1="0" x2="0" y2="1"><stop offset="0" stop-color="#6cbc56"/><stop offset="0.308" stop-color="#6eb62c"/><stop offset="0.6422" stop-color="#7bba28"/><stop offset="0.7857" stop-color="#ecdb28"/><stop offset="0.8785" stop-color="#ee771a"/><stop offset="0.9397" stop-color="#eb611a"/><stop offset="0.9651" stop-color="#ee791a"/><stop offset="0.9796" stop-color="#f4c020"/><stop offset="0.9842" stop-color="#ecda28"/><stop offset="0.9882" stop-color="#bcd42c"/><stop offset="0.9917" stop-color="#82bc28"/><stop offset="0.9954" stop-color="#6eb62c"/><stop offset="0.997" stop-color="#6cbe6d"/><stop offset="0.9976" stop-color="#6ac4b3"/><stop offset="0.9982" stop-color="#49bcdd"/><stop offset="0.9987" stop-color="#2ba1e3"/><stop offset="0.9995" stop-color="#245aad"/><stop offset="1" stop-color="#1f4ca4"/></linearGradient><linearGradient id="e15" x1="0" y1="0" x2="0" y2="1"><stop offset="0" stop-color="#6dba4d"/><stop offset="0.2536" stop-color="#6eb62c"/><stop offset="0.6132" stop-color="#7bba28"/><stop offset="0.7076" stop-color="#b5d12c"/><stop offset="0.7672" stop-color="#ecdc28"/><stop offset="0.8035" stop-color="#f4c120"/><stop offset="0.8641" stop-color="#ee781a"/><stop offset="0.9345" stop-color="#eb5b1a"/><stop offset="0.9671" stop-color="#ee781a"/><stop offset="0.9812" stop-color="#f3c321"/><stop offset="0.9855" stop-color="#e6db28"/><stop offset="0.9927" stop-color="#7bba28"/><stop offset="0.9954" stop-color="#6fb62c"/><stop offset="0.997" stop-color="#6cbd61"/><stop offset="0.9976" stop-color="#6bc3a7"/><stop offset="0.9982" stop-color="#4fbed9"/><stop offset="0.9987" stop-color="#2ba6e6"/><stop offset="0.9995" stop-color="#255caf"/><stop offset="1" stop-color="#1f4ca4"/></linearGradient><linearGradient id="e16" x1="0" y1="0" x2="0" y2="1"><stop offset="0" stop-color="#6db945"/><stop offset="0.1974" stop-color="#6eb62c"/><stop offset="0.5953" stop-color="#7cba28"/><stop offset="0.748" stop-color="#eadc28"/><stop offset="0.7902" stop-color="#f4c020"/><stop offset="0.8489" stop-color="#ee7a1a"/><stop offset="0.9345" stop-color="#ea571a"/><stop offset="0.9671" stop-color="#ed741a"/><stop offset="0.9746" stop-color="#f0901c"/><stop offset="0.9812" stop-color="#f4bf20"/><stop offset="0.9855" stop-color="#ecdb28"/><stop offset="0.9927" stop-color="#7bba28"/><stop offset="0.9954" stop-color="#70b72b"/><stop offset="0.997" stop-color="#6cbc57"/><stop offset="0.9976" stop-color="#6bc29d"/><stop offset="0.9982" stop-color="#55c0d5"/><stop offset="0.9987" stop-color="#2cabea"/><stop offset="0.9995" stop-color="#255eb0"/><stop offset="1" stop-color="#1f4ca4"/></linearGradient><linearGradient id="e17" x1="0" y1="0" x2="0" y2="1"><stop offset="0" stop-color="#6db83e"/><stop offset="0.1478" stop-color="#6eb62c"/><stop offset="0.5709" stop-color="#7dba28"/><stop offset="0.7332" stop-color="#ecdc28"/><stop offset="0.7765" stop-color="#f4be20"/><stop offset="0.841" stop-color="#ee771a"/><stop offset="0.9318" stop-color="#ea531a"/><stop offset="0.9671" stop-color="#ed701a"/><stop offset="0.9746" stop-color="#ef8a1b"/><stop offset="0.9827" stop-color="#f3c421"/><stop offset="0.9869" stop-color="#e3da29"/><stop offset="0.9927" stop-color="#7ebb28"/><stop offset="0.9954" stop-color="#71b72b"/><stop offset="0.997" stop-color="#6cbb53"/><stop offset="0.9982" stop-color="#5bc2d2"/><stop offset="0.9987" stop-color="#2cb0ed"/><stop offset="0.9995" stop-color="#255fb2"/><stop offset="1" stop-color="#1f4ca4"/></linearGradient><linearGradient id="e18" x1="0" y1="0" x2="0" y2="1"><stop offset="0" stop-color="#6db837"/><stop offset="0.5395" stop-color="#7cba28"/><stop offset="0.7128" stop-color="#eadc28"/><stop offset="0.7577" stop-color="#f4c220"/><stop offset="0.8289" stop-color="#ee771a"/><stop offset="0.9234" stop-color="#e94f1a"/><stop offset="0.9651" stop-color="#ec691a"/><stop offset="0.9728" stop-color="#ee7c1a"/><stop offset="0.9827" stop-color="#f4c020"/><stop offset="0.9869" stop-color="#e8db28"/><stop offset="0.9927" stop-color="#83bd28"/><stop offset="0.9962" stop-color="#6eb732"/><stop offset="0.997" stop-color="#6cbb4f"/><stop offset="0.9982" stop-color="#60c3cf"/><stop offset="0.9987" stop-color="#2cb4f0"/><stop offset="0.9995" stop-color="#2561b3"/><stop offset="1" stop-color="#1f4ca4"/></linearGradient><linearGradient id="e19" x1="0" y1="0" x2="0" y2="1"><stop offset="0" stop-color="#6eb731"/><stop offset="0.5137" stop-color="#7cba28"/><stop offset="0.6971" stop-color="#ebdc28"/><stop offset="0.748" stop-color="#f4bd20"/><stop offset="0.8206" stop-color="#ed751a"/><stop offset="0.9234" stop-color="#e94c1a"/><stop offset="0.9651" stop-color="#ec661a"/><stop offset="0.9746" stop-color="#ef801b"/><stop offset="0.9827" stop-color="#f4bb20"/><stop offset="0.9869" stop-color="#ecdb28"/><stop offset="0.9937" stop-color="#7aba28"/><stop offset="0.9962" stop-color="#6eb62e"/><stop offset="0.997" stop-color="#6dba4b"/><stop offset="0.9976" stop-color="#6bc083"/><stop offset="0.9982" stop-color="#64c4cc"/><stop offset="0.9987" stop-color="#30b5ed"/><stop offset="0.9995" stop-color="#2562b4"/><stop offset="1" stop-color="#1f4ca4"/></linearGradient><linearGradient id="e20" x1="0" y1="0" x2="0" y2="1"><stop offset="0" stop-color="#6eb62c"/><stop offset="0.4872" stop-color="#7cba28"/><stop offset="0.6811" stop-color="#ecdc28"/><stop offset="0.7332" stop-color="#f4be20"/><stop offset="0.8206" stop-color="#ed6e1a"/><stop offset="0.929" stop-color="#e94a1a"/><stop offset="0.9671" stop-color="#ec671a"/><stop offset="0.9763" stop-color="#ef851b"/><stop offset="0.9842" stop-color="#f3c321"/><stop offset="0.9882" stop-color="#e0da29"/><stop offset="0.9937" stop-color="#7bba28"/><stop offset="0.9962" stop-color="#6eb62c"/><stop offset="0.997" stop-color="#6dba47"/><stop offset="0.9976" stop-color="#6bbf7b"/><stop offset="0.9982" stop-color="#69c6c9"/><stop offset="0.9987" stop-color="#34b6eb"/><stop offset="0.9995" stop-color="#2664b5"/><stop offset="1" stop-color="#1f4ca4"/></linearGradient><linearGradient id="e21" x1="0" y1="0" x2="0" y2="1"><stop offset="0" stop-color="#6fb62c"/><stop offset="0.4602" stop-color="#7cba28"/><stop offset="0.6646" stop-color="#ecdc28"/><stop offset="0.718" stop-color="#f4be20"/><stop offset="0.7902" stop-color="#ee791a"/><stop offset="0.9234" stop-color="#e8471a"/><stop offset="0.9671" stop-color="#ec651a"/><stop offset="0.9763" stop-color="#ef811b"/><stop offset="0.9842" stop-color="#f4c120"/><stop offset="0.9882" stop-color="#e5db29"/><stop offset="0.9937" stop-color="#7bba28"/><stop offset="0.9962" stop-color="#6fb62c"/><stop offset="0.997" stop-color="#6db944"/><stop offset="0.9976" stop-color="#6bbf74"/><stop offset="0.9982" stop-color="#6ac6c4"/><stop offset="0.9987" stop-color="#37b7e9"/><stop offset="0.9995" stop-color="#2665b6"/><stop offset="1" stop-color="#1f4ca4"/></linearGradient><linearGradient id="e22" x1="0" y1="0" x2="0" y2="1"><stop offset="0" stop-color="#70b72b"/><stop offset="0.4325" stop-color="#7cba28"/><stop offset="0.6478" stop-color="#ecdc28"/><stop offset="0.8206" stop-color="#eb621a"/><stop offset="0.9262" stop-color="#e8451a"/><stop offset="0.9497" stop-color="#e94d1a"/><stop offset="0.9691" stop-color="#ec671a"/><stop offset="0.9763" stop-color="#ee7e1a"/><stop offset="0.9842" stop-color="#f4bd20"/><stop offset="0.9882" stop-color="#e8db28"/><stop offset="0.9937" stop-color="#7cba28"/><stop offset="0.9962" stop-color="#6fb62c"/><stop offset="0.997" stop-color="#6db941"/><stop offset="0.9976" stop-color="#6cbe6d"/><stop offset="0.9982" stop-color="#6ac5be"/><stop offset="0.9987" stop-color="#3bb8e6"/><stop offset="0.9995" stop-color="#2666b7"/><stop offset="1" stop-color="#1f4ca4"/></linearGradient><linearGradient id="e23" x1="0" y1="0" x2="0" y2="1"><stop offset="0" stop-color="#71b72b"/><stop offset="0.4113" stop-color="#7dba28"/><stop offset="0.6307" stop-color="#ecdc28"/><stop offset="0.6865" stop-color="#f4c020"/><stop offset="0.7765" stop-color="#ed741a"/><stop offset="0.9205" stop-color="#e8421a"/><stop offset="0.9671" stop-color="#eb601a"/><stop offset="0.9763" stop-color="#ee7a1a"/><stop offset="0.9842" stop-color="#f3b91f"/><stop offset="0.9882" stop-color="#ecdc28"/><stop offset="0.9937" stop-color="#7fbb28"/><stop offset="0.9962" stop-color="#70b72b"/><stop offset="0.997" stop-color="#6db93e"/><stop offset="0.9976" stop-color="#6cbd67"/><stop offset="0.9982" stop-color="#6ac5b8"/><stop offset="0.9987" stop-color="#3eb9e4"/><stop offset="0.9991" stop-color="#2a8ed6"/><stop offset="0.9995" stop-color="#2667b8"/><stop offset="1" stop-color="#1f4ca4"/></linearGradient><linearGradient id="e24" x1="0" y1="0" x2="0" y2="1"><stop offset="0" stop-color="#72b72b"/><stop offset="0.3826" stop-color="#7cba28"/><stop offset="0.6132" stop-color="#ecdc28"/><stop offset="0.6702" stop-color="#f4c120"/><stop offset="0.7811" stop-color="#ec6c1a"/><stop offset="0.9234" stop-color="#e8401a"/><stop offset="0.9543" stop-color="#e94d1a"/><stop offset="0.9691" stop-color="#eb631a"/><stop offset="0.978" stop-color="#ef811b"/><stop offset="0.9855" stop-color="#f3c321"/><stop offset="0.9894" stop-color="#ddd929"/><stop offset="0.9937" stop-color="#83bd28"/><stop offset="0.9962" stop-color="#70b72b"/><stop offset="0.997" stop-color="#6db83c"/><stop offset="0.9976" stop-color="#6cbd62"/><stop offset="0.9982" stop-color="#6ac4b3"/><stop offset="0.9987" stop-color="#41bae3"/><stop offset="0.9991" stop-color="#2a91d7"/><stop offset="0.9995" stop-color="#2669b9"/><stop offset="1" stop-color="#1f4ca4"/></linearGradient><linearGradient id="e25" x1="0" y1="0" x2="0" y2="1"><stop offset="0" stop-color="#73b72b"/><stop offset="0.3532" stop-color="#7cba28"/><stop offset="0.5953" stop-color="#ebdc28"/><stop offset="0.6591" stop-color="#f4bf20"/><stop offset="0.748" stop-color="#ee771a"/><stop offset="0.9175" stop-color="#e73d1a"/><stop offset="0.9651" stop-color="#ea591a"/><stop offset="0.978" stop-color="#ee7e1a"/><stop offset="0.9855" stop-color="#f4c120"/><stop offset="0.9894" stop-color="#e0da29"/><stop offset="0.9937" stop-color="#86be29"/><stop offset="0.9962" stop-color="#71b72b"/><stop offset="0.997" stop-color="#6db839"/><stop offset="0.9976" stop-color="#6cbc5c"/><stop offset="0.9982" stop-color="#6ac4ae"/><stop offset="0.9987" stop-color="#44bbe1"/><stop offset="0.9991" stop-color="#2b93d9"/><stop offset="0.9995" stop-color="#266aba"/><stop offset="1" stop-color="#1f4ca4"/></linearGradient><linearGradient id="e26" x1="0" y1="0" x2="0" y2="1"><stop offset="0" stop-color="#73b82a"/><stop offset="0.3308" stop-color="#7cba28"/><stop offset="0.577" stop-color="#eadc28"/><stop offset="0.6422" stop-color="#f4c020"/><stop offset="0.7231" stop-color="#ee7f1a"/><stop offset="0.7811" stop-color="#eb621a"/><stop offset="0.9175" stop-color="#e73b1a"/><stop offset="0.9671" stop-color="#eb5b1a"/><stop offset="0.978" stop-color="#ee7c1a"/><stop offset="0.9855" stop-color="#f4bf20"/><stop offset="0.9894" stop-color="#e3da29"/><stop offset="0.9937" stop-color="#89bf29"/><stop offset="0.9962" stop-color="#71b72b"/><stop offset="0.997" stop-color="#6db837"/><stop offset="0.9976" stop-color="#6cbc58"/><stop offset="0.9982" stop-color="#6bc3a9"/><stop offset="0.9987" stop-color="#46bcdf"/><stop offset="0.9991" stop-color="#2b95da"/><stop offset="0.9997" stop-color="#2354aa"/><stop offset="1" stop-color="#1f4ca4"/></linearGradient><linearGradient id="e27" x1="0" y1="0" x2="0" y2="1"><stop offset="0" stop-color="#74b82a"/><stop offset="0.3004" stop-color="#7cba28"/><stop offset="0.5584" stop-color="#e9dc28"/><stop offset="0.6249" stop-color="#f4c220"/><stop offset="0.7624" stop-color="#ec661a"/><stop offset="0.9175" stop-color="#e7391a"/><stop offset="0.9651" stop-color="#ea561a"/><stop offset="0.978" stop-color="#ee791a"/><stop offset="0.9855" stop-color="#f4bc20"/><stop offset="0.9894" stop-color="#e6db29"/><stop offset="0.9946" stop-color="#7aba28"/><stop offset="0.9962" stop-color="#72b72b"/><stop offset="0.997" stop-color="#6eb735"/><stop offset="0.9976" stop-color="#6cbc56"/><stop offset="0.9982" stop-color="#6bc3a5"/><stop offset="0.9987" stop-color="#49bcdd"/><stop offset="0.9991" stop-color="#2b97dc"/><stop offset="0.9995" stop-color="#276cbb"/><stop offset="1" stop-color="#1f4ca4"/></linearGradient><linearGradient id="e28" x1="0" y1="0" x2="0" y2="1"><stop offset="0" stop-color="#75b82a"/><stop offset="0.2772" stop-color="#7cba28"/><stop offset="0.5458" stop-color="#ecdc28"/><stop offset="0.6132" stop-color="#f4c020"/><stop offset="0.7231" stop-color="#ed731a"/><stop offset="0.9175" stop-color="#e7371b"/><stop offset="0.9671" stop-color="#ea581a"/><stop offset="0.978" stop-color="#ee781a"/><stop offset="0.9855" stop-color="#f3b91f"/><stop offset="0.9894" stop-color="#e8db28"/><stop offset="0.9946" stop-color="#7bba28"/><stop offset="0.9962" stop-color="#72b72b"/><stop offset="0.997" stop-color="#6eb733"/><stop offset="0.9976" stop-color="#6cbb54"/><stop offset="0.9982" stop-color="#6bc2a0"/><stop offset="0.9987" stop-color="#4bbddc"/><stop offset="0.9991" stop-color="#2b99dd"/><stop offset="0.9995" stop-color="#276cbc"/><stop offset="1" stop-color="#1f4ca4"/></linearGradient><linearGradient id="e29" x1="0" y1="0" x2="0" y2="1"><stop offset="0" stop-color="#75b82a"/><stop offset="0.2536" stop-color="#7dba28"/><stop offset="0.5267" stop-color="#ebdc28"/><stop offset="0.6013" stop-color="#f4bf20"/><stop offset="0.7332" stop-color="#ec6a1a"/><stop offset="0.9145" stop-color="#e7351b"/><stop offset="0.9473" stop-color="#e8401a"/><stop offset="0.9671" stop-color="#ea571a"/><stop offset="0.9796" stop-color="#ee7f1a"/><stop offset="0.9869" stop-color="#f3c521"/><stop offset="0.9894" stop-color="#ebdc28"/><stop offset="0.9946" stop-color="#7bba28"/><stop offset="0.997" stop-color="#6eb731"/><stop offset="0.9976" stop-color="#6cbb52"/><stop offset="0.9982" stop-color="#6bc29c"/><stop offset="0.9987" stop-color="#4dbedb"/><stop offset="0.9991" stop-color="#2b9bde"/><stop offset="0.9995" stop-color="#276dbd"/><stop offset="1" stop-color="#1f4ca4"/></linearGradient><linearGradient id="e30" x1="0" y1="0" x2="0" y2="1"><stop offset="0" stop-color="#76b82a"/><stop offset="0.2217" stop-color="#7cba28"/><stop offset="0.5137" stop-color="#ecdc28"/><stop offset="0.5832" stop-color="#f4c120"/><stop offset="0.718" stop-color="#ec6c1a"/><stop offset="0.8603" stop-color="#e73a1a"/><stop offset="0.9205" stop-color="#e7341b"/><stop offset="0.9497" stop-color="#e8411a"/><stop offset="0.971" stop-color="#eb5e1a"/><stop offset="0.9796" stop-color="#ee7d1a"/><stop offset="0.9869" stop-color="#f3c321"/><stop offset="0.9894" stop-color="#ecdb28"/><stop offset="0.9946" stop-color="#7bba28"/><stop offset="0.997" stop-color="#6eb62f"/><stop offset="0.9976" stop-color="#6cbb50"/><stop offset="0.9982" stop-color="#6bc299"/><stop offset="0.9987" stop-color="#4fbed9"/><stop offset="0.9991" stop-color="#2b9ce0"/><stop offset="0.9997" stop-color="#2355aa"/><stop offset="1" stop-color="#1f4ca4"/></linearGradient><linearGradient id="e31" x1="0" y1="0" x2="0" y2="1"><stop offset="0" stop-color="#77b82a"/><stop offset="0.1974" stop-color="#7cba28"/><stop offset="0.4939" stop-color="#ebdc28"/><stop offset="0.5709" stop-color="#f4c020"/><stop offset="0.7076" stop-color="#ec6c1a"/><stop offset="0.9145" stop-color="#e6321b"/><stop offset="0.9651" stop-color="#e9511a"/><stop offset="0.9796" stop-color="#ee7b1a"/><stop offset="0.9869" stop-color="#f3c221"/><stop offset="0.9894" stop-color="#edda27"/><stop offset="0.9906" stop-color="#dbd929"/><stop offset="0.9946" stop-color="#7cba28"/><stop offset="0.997" stop-color="#6eb62d"/><stop offset="0.9976" stop-color="#6cbb4e"/><stop offset="0.9982" stop-color="#6bc195"/><stop offset="0.9987" stop-color="#51bfd8"/><stop offset="0.9991" stop-color="#2b9ee1"/><stop offset="0.9997" stop-color="#2355aa"/><stop offset="1" stop-color="#1f4ca4"/></linearGradient><linearGradient id="e32" x1="0" y1="0" x2="0" y2="1"><stop offset="0" stop-color="#77b929"/><stop offset="0.1892" stop-color="#81bc28"/><stop offset="0.4805" stop-color="#ecdb28"/><stop offset="0.5584" stop-color="#f4bf20"/><stop offset="0.6646" stop-color="#ee791a"/><stop offset="0.9053" stop-color="#e6301b"/><stop offset="0.9397" stop-color="#e7371b"/><stop offset="0.9651" stop-color="#e9501a"/><stop offset="0.9796" stop-color="#ee791a"/><stop offset="0.9869" stop-color="#f4c020"/><stop offset="0.9906" stop-color="#deda29"/><stop offset="0.9946" stop-color="#7cba28"/><stop offset="0.997" stop-color="#6eb62c"/><stop offset="0.9976" stop-color="#6dba4d"/><stop offset="0.9982" stop-color="#6bc191"/><stop offset="0.9987" stop-color="#53bfd7"/><stop offset="0.9991" stop-color="#2ba0e2"/><stop offset="0.9997" stop-color="#2355aa"/><stop offset="1" stop-color="#1f4ca4"/></linearGradient><linearGradient id="e33" x1="0" y1="0" x2="0" y2="1"><stop offset="0" stop-color="#78b929"/><stop offset="0.1561" stop-color="#7fbb28"/><stop offset="0.4602" stop-color="#ebdc28"/><stop offset="0.5395" stop-color="#f4c120"/><stop offset="0.6364" stop-color="#ef821b"/><stop offset="0.7332" stop-color="#ea5a1a"/><stop offset="0.9145" stop-color="#e62f1b"/><stop offset="0.9651" stop-color="#e94f1a"/><stop offset="0.9796" stop-color="#ee781a"/><stop offset="0.9869" stop-color="#f4bf20"/><stop offset="0.9906" stop-color="#e0da29"/><stop offset="0.9946" stop-color="#7ebb28"/><stop offset="0.997" stop-color="#6eb62c"/><stop offset="0.9976" stop-color="#6dba4b"/><stop offset="0.9982" stop-color="#6bc18e"/><stop offset="0.9987" stop-color="#55c0d5"/><stop offset="0.9991" stop-color="#2ba1e3"/><stop offset="0.9997" stop-color="#2355aa"/><stop offset="1" stop-color="#1f4ca4"/></linearGradient><linearGradient id="e34" x1="0" y1="0" x2="0" y2="1"><stop offset="0" stop-color="#78b929"/><stop offset="0.1225" stop-color="#7dbb28"/><stop offset="0.4464" stop-color="#ecdc28"/><stop offset="0.7281" stop-color="#ea591a"/><stop offset="0.9145" stop-color="#e62e1b"/><stop offset="0.9651" stop-color="#e94e1a"/><stop offset="0.9796" stop-color="#ee771a"/><stop offset="0.9869" stop-color="#f4bd20"/><stop offset="0.9906" stop-color="#e1da29"/><stop offset="0.9946" stop-color="#80bb28"/><stop offset="0.997" stop-color="#6fb62c"/><stop offset="0.9976" stop-color="#6dba4a"/><stop offset="0.9987" stop-color="#57c0d4"/><stop offset="0.9991" stop-color="#2ba3e4"/><stop offset="0.9997" stop-color="#2355aa"/><stop offset="1" stop-color="#1f4ca4"/></linearGradient><linearGradient id="e35" x1="0" y1="0" x2="0" y2="1"><stop offset="0" stop-color="#79b929"/><stop offset="0.1225" stop-color="#84bd29"/><stop offset="0.4325" stop-color="#ecdb28"/><stop offset="0.5137" stop-color="#f4c020"/><stop offset="0.6307" stop-color="#ee791a"/><stop offset="0.9053" stop-color="#e62c1b"/><stop offset="0.9423" stop-color="#e7351b"/><stop offset="0.9671" stop-color="#e9511a"/><stop offset="0.9796" stop-color="#ee761a"/><stop offset="0.9869" stop-color="#f4ba20"/><stop offset="0.9906" stop-color="#e3db29"/><stop offset="0.9946" stop-color="#81bc28"/><stop offset="0.997" stop-color="#6fb62c"/><stop offset="0.9976" stop-color="#6dba48"/><stop offset="0.9982" stop-color="#6bc088"/><stop offset="0.9987" stop-color="#59c1d3"/><stop offset="0.9991" stop-color="#2ba4e5"/><stop offset="0.9997" stop-color="#2355aa"/><stop offset="1" stop-color="#1f4ca4"/></linearGradient><linearGradient id="e36" x1="0" y1="0" x2="0" y2="1"><stop offset="0" stop-color="#7ab929"/><stop offset="0.1645" stop-color="#96c52a"/><stop offset="0.4113" stop-color="#ecdc28"/><stop offset="0.5005" stop-color="#f4bf20"/><stop offset="0.619" stop-color="#ee791a"/><stop offset="0.8923" stop-color="#e62b1b"/><stop offset="0.9345" stop-color="#e6301b"/><stop offset="0.9671" stop-color="#e9501a"/><stop offset="0.9796" stop-color="#ed751a"/><stop offset="0.9869" stop-color="#f3b91f"/><stop offset="0.9906" stop-color="#e5db29"/><stop offset="0.9946" stop-color="#83bd28"/><stop offset="0.997" stop-color="#6fb62c"/><stop offset="0.9976" stop-color="#6dba47"/><stop offset="0.9982" stop-color="#6bc085"/><stop offset="0.9987" stop-color="#5ac1d2"/><stop offset="0.9991" stop-color="#2ba5e6"/><stop offset="0.9997" stop-color="#2356aa"/><stop offset="1" stop-color="#1f4ca4"/></linearGradient><linearGradient id="e37" x1="0" y1="0" x2="0" y2="1"><stop offset="0" stop-color="#7bba28"/><stop offset="0.1974" stop-color="#a6cb2b"/><stop offset="0.397" stop-color="#ecdb28"/><stop offset="0.4872" stop-color="#f4be20"/><stop offset="0.6072" stop-color="#ee791a"/><stop offset="0.8889" stop-color="#e62a1b"/><stop offset="0.9345" stop-color="#e62f1b"/><stop offset="0.9631" stop-color="#e9491a"/><stop offset="0.9796" stop-color="#ed741a"/><stop offset="0.9869" stop-color="#f3b71f"/><stop offset="0.9906" stop-color="#e7db28"/><stop offset="0.9946" stop-color="#85be29"/><stop offset="0.997" stop-color="#6fb62c"/><stop offset="0.9976" stop-color="#6dba46"/><stop offset="0.9982" stop-color="#6bc083"/><stop offset="0.9987" stop-color="#5cc2d1"/><stop offset="0.9991" stop-color="#2ba7e7"/><stop offset="0.9997" stop-color="#2356aa"/><stop offset="1" stop-color="#1f4ca4"/></linearGradient><linearGradient id="e38" x1="0" y1="0" x2="0" y2="1"><stop offset="0" stop-color="#7cba28"/><stop offset="0.3826" stop-color="#ecdb28"/><stop offset="0.467" stop-color="#f4c120"/><stop offset="0.6591" stop-color="#ec641a"/><stop offset="0.837" stop-color="#e6301b"/><stop offset="0.9115" stop-color="#e6291b"/><stop offset="0.9423" stop-color="#e6321b"/><stop offset="0.9691" stop-color="#ea521a"/><stop offset="0.9812" stop-color="#ee7b1a"/><stop offset="0.9882" stop-color="#f3c521"/><stop offset="0.9906" stop-color="#e8db28"/><stop offset="0.9946" stop-color="#86be29"/><stop offset="0.997" stop-color="#70b62c"/><stop offset="0.9976" stop-color="#6db945"/><stop offset="0.9982" stop-color="#6bc080"/><stop offset="0.9987" stop-color="#5dc2d0"/><stop offset="0.9991" stop-color="#2ba8e7"/><stop offset="0.9997" stop-color="#2356aa"/><stop offset="1" stop-color="#1f4ca4"/></linearGradient><linearGradient id="e39" x1="0" y1="0" x2="0" y2="1"><stop offset="0" stop-color="#80bb28"/><stop offset="0.3606" stop-color="#ecdc28"/><stop offset="0.4533" stop-color="#f4c120"/><stop offset="0.5709" stop-color="#ee7f1a"/><stop offset="0.6702" stop-color="#eb5d1a"/><stop offset="0.8289" stop-color="#e6301b"/><stop offset="0.9115" stop-color="#e5281b"/><stop offset="0.9423" stop-color="#e6311b"/><stop offset="0.9671" stop-color="#e94e1a"/><stop offset="0.9812" stop-color="#ee7a1a"/><stop offset="0.9882" stop-color="#f3c421"/><stop offset="0.9906" stop-color="#eadc28"/><stop offset="0.9946" stop-color="#88bf29"/><stop offset="0.997" stop-color="#70b62c"/><stop offset="0.9976" stop-color="#6db943"/><stop offset="0.9982" stop-color="#6bbf7e"/><stop offset="0.9987" stop-color="#5fc3cf"/><stop offset="0.9991" stop-color="#2ca9e8"/><stop offset="0.9997" stop-color="#2356ab"/><stop offset="1" stop-color="#1f4ca4"/></linearGradient><linearGradient id="e40" x1="0" y1="0" x2="0" y2="1"><stop offset="0" stop-color="#86be29"/><stop offset="0.3458" stop-color="#ecdc28"/><stop offset="0.6702" stop-color="#ea5a1a"/><stop offset="0.9115" stop-color="#e5271b"/><stop offset="0.9448" stop-color="#e6321b"/><stop offset="0.9671" stop-color="#e94d1a"/><stop offset="0.9812" stop-color="#ee791a"/><stop offset="0.9882" stop-color="#f3c321"/><stop offset="0.9906" stop-color="#ebdc28"/><stop offset="0.9946" stop-color="#89bf29"/><stop offset="0.997" stop-color="#70b72b"/><stop offset="0.9976" stop-color="#6db942"/><stop offset="0.9982" stop-color="#6bbf7b"/><stop offset="0.9987" stop-color="#60c3cf"/><stop offset="0.9991" stop-color="#2caae9"/><stop offset="0.9997" stop-color="#2356ab"/><stop offset="1" stop-color="#1f4ca4"/></linearGradient><linearGradient id="e41" x1="0" y1="0" x2="0" y2="1"><stop offset="0" stop-color="#8cc029"/><stop offset="0.3308" stop-color="#ecdb28"/><stop offset="0.6646" stop-color="#ea591a"/><stop offset="0.9084" stop-color="#e5261b"/><stop offset="0.9448" stop-color="#e6311b"/><stop offset="0.9691" stop-color="#e9501a"/><stop offset="0.9812" stop-color="#ee781a"/><stop offset="0.9882" stop-color="#f3c221"/><stop offset="0.9906" stop-color="#ecdc28"/><stop offset="0.9954" stop-color="#7ab929"/><stop offset="0.997" stop-color="#70b72b"/><stop offset="0.9976" stop-color="#6db941"/><stop offset="0.9982" stop-color="#6bbf79"/><stop offset="0.9987" stop-color="#61c3ce"/><stop offset="0.9991" stop-color="#2cabea"/><stop offset="0.9997" stop-color="#2356ab"/><stop offset="1" stop-color="#1f4ca4"/></linearGradient><linearGradient id="e42" x1="0" y1="0" x2="0" y2="1"><stop offset="0" stop-color="#91c329"/><stop offset="0.3157" stop-color="#ecdb28"/><stop offset="0.4113" stop-color="#f4c020"/><stop offset="0.5458" stop-color="#ee7b1a"/><stop offset="0.882" stop-color="#e5251b"/><stop offset="0.9262" stop-color="#e5281b"/><stop offset="0.9588" stop-color="#e83f1a"/><stop offset="0.9796" stop-color="#ed6f1a"/><stop offset="0.9842" stop-color="#f08f1c"/><stop offset="0.9882" stop-color="#f4c120"/><stop offset="0.9906" stop-color="#ecdb28"/><stop offset="0.9954" stop-color="#7ab929"/><stop offset="0.997" stop-color="#70b72b"/><stop offset="0.9976" stop-color="#6db940"/><stop offset="0.9982" stop-color="#6bbf77"/><stop offset="0.9987" stop-color="#62c4cd"/><stop offset="0.9991" stop-color="#2cacea"/><stop offset="0.9997" stop-color="#2356ab"/><stop offset="1" stop-color="#1f4ca4"/></linearGradient><linearGradient id="e43" x1="0" y1="0" x2="0" y2="1"><stop offset="0" stop-color="#97c52a"/><stop offset="0.2927" stop-color="#ecdc28"/><stop offset="0.397" stop-color="#f4c020"/><stop offset="0.577" stop-color="#ed6e1a"/><stop offset="0.8855" stop-color="#e5241b"/><stop offset="0.9345" stop-color="#e62a1b"/><stop offset="0.9671" stop-color="#e94b1a"/><stop offset="0.9812" stop-color="#ee761a"/><stop offset="0.9882" stop-color="#f4c020"/><stop offset="0.9906" stop-color="#edda27"/><stop offset="0.9954" stop-color="#7aba28"/><stop offset="0.997" stop-color="#70b72b"/><stop offset="0.9976" stop-color="#6db93f"/><stop offset="0.9982" stop-color="#6bbf75"/><stop offset="0.9987" stop-color="#64c4cc"/><stop offset="0.9991" stop-color="#2cadeb"/><stop offset="0.9997" stop-color="#2356ab"/><stop offset="1" stop-color="#1f4ca4"/></linearGradient><linearGradient id="e44" x1="0" y1="0" x2="0" y2="1"><stop offset="0" stop-color="#9cc72a"/><stop offset="0.2772" stop-color="#ecdc28"/><stop offset="0.3826" stop-color="#f4c020"/><stop offset="0.5458" stop-color="#ed741a"/><stop offset="0.8855" stop-color="#e5231b"/><stop offset="0.9397" stop-color="#e62c1b"/><stop offset="0.961" stop-color="#e8411a"/><stop offset="0.9812" stop-color="#ed751a"/><stop offset="0.9882" stop-color="#f4bf20"/><stop offset="0.9906" stop-color="#edd927"/><stop offset="0.9917" stop-color="#dbd929"/><stop offset="0.9954" stop-color="#7aba28"/><stop offset="0.997" stop-color="#71b72b"/><stop offset="0.9976" stop-color="#6db93e"/><stop offset="0.9982" stop-color="#6cbe73"/><stop offset="0.9987" stop-color="#65c4cb"/><stop offset="0.9991" stop-color="#2caeec"/><stop offset="0.9997" stop-color="#2356ab"/><stop offset="1" stop-color="#1f4ca4"/></linearGradient><linearGradient id="e45" x1="0" y1="0" x2="0" y2="1"><stop offset="0" stop-color="#a1c92a"/><stop offset="0.2615" stop-color="#ecdc28"/><stop offset="0.368" stop-color="#f4c020"/><stop offset="0.5458" stop-color="#ed711a"/><stop offset="0.8923" stop-color="#e5221c"/><stop offset="0.9371" stop-color="#e62a1b"/><stop offset="0.9671" stop-color="#e94a1a"/><stop offset="0.9812" stop-color="#ed751a"/><stop offset="0.9882" stop-color="#f4be20"/><stop offset="0.9917" stop-color="#dcd929"/><stop offset="0.9954" stop-color="#7bba28"/><stop offset="0.997" stop-color="#71b72b"/><stop offset="0.9976" stop-color="#6db83d"/><stop offset="0.9982" stop-color="#6cbe71"/><stop offset="0.9987" stop-color="#66c5cb"/><stop offset="0.9991" stop-color="#2cafec"/><stop offset="0.9997" stop-color="#2356ab"/><stop offset="1" stop-color="#1f4ca4"/></linearGradient><linearGradient id="e46" x1="0" y1="0" x2="0" y2="1"><stop offset="0" stop-color="#a7cb2b"/><stop offset="0.2536" stop-color="#edda27"/><stop offset="0.3532" stop-color="#f4c020"/><stop offset="0.5137" stop-color="#ee771a"/><stop offset="0.875" stop-color="#e5221c"/><stop offset="0.9262" stop-color="#e5251b"/><stop offset="0.9588" stop-color="#e73d1a"/><stop offset="0.9796" stop-color="#ed6d1a"/><stop offset="0.9842" stop-color="#ef8a1b"/><stop offset="0.9882" stop-color="#f4bd20"/><stop offset="0.9917" stop-color="#ddda29"/><stop offset="0.9954" stop-color="#7bba28"/><stop offset="0.997" stop-color="#71b72b"/><stop offset="0.9976" stop-color="#6db83d"/><stop offset="0.9982" stop-color="#6cbe6f"/><stop offset="0.9987" stop-color="#67c5ca"/><stop offset="0.9991" stop-color="#2cb0ed"/><stop offset="0.9997" stop-color="#2356ab"/><stop offset="1" stop-color="#1f4ca4"/></linearGradient><linearGradient id="e47" x1="0" y1="0" x2="0" y2="1"><stop offset="0" stop-color="#accd2b"/><stop offset="0.2298" stop-color="#ecdb28"/><stop offset="0.3383" stop-color="#f4c020"/><stop offset="0.5137" stop-color="#ed741a"/><stop offset="0.8785" stop-color="#e5211c"/><stop offset="0.9318" stop-color="#e5271b"/><stop offset="0.961" stop-color="#e83f1a"/><stop offset="0.9812" stop-color="#ed731a"/><stop offset="0.9882" stop-color="#f4bc20"/><stop offset="0.9917" stop-color="#deda29"/><stop offset="0.9954" stop-color="#7bba28"/><stop offset="0.997" stop-color="#71b72b"/><stop offset="0.9976" stop-color="#6db83c"/><stop offset="0.9982" stop-color="#6cbe6d"/><stop offset="0.9987" stop-color="#68c5c9"/><stop offset="0.9991" stop-color="#2cb1ee"/><stop offset="0.9997" stop-color="#2356ab"/><stop offset="1" stop-color="#1f4ca4"/></linearGradient><linearGradient id="e48" x1="0" y1="0" x2="0" y2="1"><stop offset="0" stop-color="#b1cf2b"/><stop offset="0.2137" stop-color="#ecdb28"/><stop offset="0.3308" stop-color="#f4be20"/><stop offset="0.4872" stop-color="#ee781a"/><stop offset="0.882" stop-color="#e5201c"/><stop offset="0.9262" stop-color="#e5241b"/><stop offset="0.9588" stop-color="#e73b1a"/><stop offset="0.9796" stop-color="#ec6b1a"/><stop offset="0.9842" stop-color="#ef881b"/><stop offset="0.9882" stop-color="#f4ba20"/><stop offset="0.9917" stop-color="#dfda29"/><stop offset="0.9954" stop-color="#7bba28"/><stop offset="0.997" stop-color="#71b72b"/><stop offset="0.9976" stop-color="#6db83b"/><stop offset="0.9982" stop-color="#6cbe6b"/><stop offset="0.9987" stop-color="#69c6c9"/><stop offset="0.9991" stop-color="#2cb2ee"/><stop offset="0.9997" stop-color="#2356ab"/><stop offset="1" stop-color="#1f4ca4"/></linearGradient><linearGradient id="e49" x1="0" y1="0" x2="0" y2="1"><stop offset="0" stop-color="#b5d12c"/><stop offset="0.1974" stop-color="#ecdb28"/><stop offset="0.308" stop-color="#f4c120"/><stop offset="0.4805" stop-color="#ee771a"/><stop offset="0.7811" stop-color="#e62c1b"/><stop offset="0.8889" stop-color="#e51f1c"/><stop offset="0.9318" stop-color="#e5251b"/><stop offset="0.961" stop-color="#e73e1a"/><stop offset="0.9812" stop-color="#ed721a"/><stop offset="0.9882" stop-color="#f3b91f"/><stop offset="0.9917" stop-color="#e0da29"/><stop offset="0.9954" stop-color="#7bba28"/><stop offset="0.997" stop-color="#71b72b"/><stop offset="0.9976" stop-color="#6db83a"/><stop offset="0.9982" stop-color="#6cbe69"/><stop offset="0.9987" stop-color="#6ac6c8"/><stop offset="0.9991" stop-color="#2cb2ef"/><stop offset="0.9997" stop-color="#2356ab"/><stop offset="1" stop-color="#1f4ca4"/></linearGradient><linearGradient id="e50" x1="0" y1="0" x2="0" y2="1"><stop offset="0" stop-color="#bad32c"/><stop offset="0.181" stop-color="#ecdb28"/><stop offset="0.2927" stop-color="#f4c120"/><stop offset="0.4738" stop-color="#ee761a"/><stop offset="0.8714" stop-color="#e51f1c"/><stop offset="0.9234" stop-color="#e5221c"/><stop offset="0.9566" stop-color="#e7371b"/><stop offset="0.9796" stop-color="#ec6a1a"/><stop offset="0.9842" stop-color="#ef871b"/><stop offset="0.9882" stop-color="#f3b81f"/><stop offset="0.9917" stop-color="#e1da29"/><stop offset="0.9954" stop-color="#7bba28"/><stop offset="0.997" stop-color="#72b72b"/><stop offset="0.9976" stop-color="#6db839"/><stop offset="0.9982" stop-color="#6cbd68"/><stop offset="0.9987" stop-color="#6ac6c7"/><stop offset="0.9991" stop-color="#2cb3ef"/><stop offset="0.9997" stop-color="#2356ab"/><stop offset="1" stop-color="#1f4ca4"/></linearGradient><linearGradient id="e51" x1="0" y1="0" x2="0" y2="1"><stop offset="0" stop-color="#bfd42c"/><stop offset="0.1645" stop-color="#ecdb28"/><stop offset="0.2849" stop-color="#f4bf20"/><stop offset="0.4464" stop-color="#ee7a1a"/><stop offset="0.8785" stop-color="#e51e1c"/><stop offset="0.9318" stop-color="#e5241b"/><stop offset="0.961" stop-color="#e73d1a"/><stop offset="0.9812" stop-color="#ed711a"/><stop offset="0.9882" stop-color="#f3b71f"/><stop offset="0.9917" stop-color="#e2da29"/><stop offset="0.9954" stop-color="#7bba28"/><stop offset="0.997" stop-color="#72b72b"/><stop offset="0.9976" stop-color="#6db839"/><stop offset="0.9982" stop-color="#6cbd66"/><stop offset="0.9987" stop-color="#6ac6c5"/><stop offset="0.9991" stop-color="#2cb4f0"/><stop offset="0.9997" stop-color="#2356ab"/><stop offset="1" stop-color="#1f4ca4"/></linearGradient><linearGradient id="e52" x1="0" y1="0" x2="0" y2="1"><stop offset="0" stop-color="#c4d52b"/><stop offset="0.1394" stop-color="#ebdc28"/><stop offset="0.2615" stop-color="#f4c120"/><stop offset="0.4395" stop-color="#ee791a"/><stop offset="0.8641" stop-color="#e51e1c"/><stop offset="0.9234" stop-color="#e5211c"/><stop offset="0.9566" stop-color="#e7361b"/><stop offset="0.9796" stop-color="#ec691a"/><stop offset="0.9842" stop-color="#ef851b"/><stop offset="0.9882" stop-color="#f3b61f"/><stop offset="0.9917" stop-color="#e3da29"/><stop offset="0.9954" stop-color="#7bba28"/><stop offset="0.997" stop-color="#72b72b"/><stop offset="0.9976" stop-color="#6db838"/><stop offset="0.9982" stop-color="#6cbd65"/><stop offset="0.9987" stop-color="#6ac6c4"/><stop offset="0.9991" stop-color="#2db4f0"/><stop offset="0.9997" stop-color="#2357ab"/><stop offset="1" stop-color="#1f4ca4"/></linearGradient><linearGradient id="e53" x1="0" y1="0" x2="0" y2="1"><stop offset="0" stop-color="#c9d62b"/><stop offset="0.1225" stop-color="#ebdc28"/><stop offset="0.2457" stop-color="#f4c220"/><stop offset="0.4325" stop-color="#ee781a"/><stop offset="0.8714" stop-color="#e41d1c"/><stop offset="0.9262" stop-color="#e5211c"/><stop offset="0.9543" stop-color="#e6331b"/><stop offset="0.978" stop-color="#eb621a"/><stop offset="0.9827" stop-color="#ee781a"/><stop offset="0.9882" stop-color="#f3b51f"/><stop offset="0.9917" stop-color="#e4db29"/><stop offset="0.9954" stop-color="#7cba28"/><stop offset="0.997" stop-color="#72b72b"/><stop offset="0.9976" stop-color="#6db837"/><stop offset="0.9982" stop-color="#6cbd63"/><stop offset="0.9987" stop-color="#6ac6c2"/><stop offset="0.9991" stop-color="#2db4ef"/><stop offset="0.9997" stop-color="#2357ab"/><stop offset="1" stop-color="#1f4ca4"/></linearGradient><linearGradient id="e54" x1="0" y1="0" x2="0" y2="1"><stop offset="0" stop-color="#ced72a"/><stop offset="0.1054" stop-color="#ebdc28"/><stop offset="0.2378" stop-color="#f4c020"/><stop offset="0.4255" stop-color="#ee771a"/><stop offset="0.8785" stop-color="#e41c1c"/><stop offset="0.9234" stop-color="#e5201c"/><stop offset="0.9588" stop-color="#e7381b"/><stop offset="0.9796" stop-color="#ec681a"/><stop offset="0.9842" stop-color="#ef831b"/><stop offset="0.9894" stop-color="#f3c521"/><stop offset="0.9917" stop-color="#e5db29"/><stop offset="0.9954" stop-color="#7cba28"/><stop offset="0.997" stop-color="#72b72b"/><stop offset="0.9976" stop-color="#6eb737"/><stop offset="0.9982" stop-color="#6cbd62"/><stop offset="0.9987" stop-color="#6ac5c1"/><stop offset="0.9991" stop-color="#2eb5ef"/><stop offset="0.9997" stop-color="#2357ab"/><stop offset="1" stop-color="#1f4ca4"/></linearGradient><linearGradient id="e55" x1="0" y1="0" x2="0" y2="1"><stop offset="0" stop-color="#d3d82a"/><stop offset="0.0882" stop-color="#ebdc28"/><stop offset="0.2217" stop-color="#f4c120"/><stop offset="0.4184" stop-color="#ee761a"/><stop offset="0.8641" stop-color="#e41c1c"/><stop offset="0.9175" stop-color="#e51e1c"/><stop offset="0.9566" stop-color="#e7351b"/><stop offset="0.9796" stop-color="#ec681a"/><stop offset="0.9842" stop-color="#ef831b"/><stop offset="0.9894" stop-color="#f3c521"/><stop offset="0.9917" stop-color="#e5db29"/><stop offset="0.9954" stop-color="#7cba28"/><stop offset="0.9976" stop-color="#6eb736"/><stop offset="0.9982" stop-color="#6cbd60"/><stop offset="0.9987" stop-color="#6ac5c0"/><stop offset="0.9991" stop-color="#2fb5ee"/><stop offset="0.9997" stop-color="#2357ab"/><stop offset="1" stop-color="#1f4ca4"/></linearGradient><linearGradient id="e56" x1="0" y1="0" x2="0" y2="1"><stop offset="0" stop-color="#d8d92a"/><stop offset="0.0795" stop-color="#ecdb28"/><stop offset="0.2055" stop-color="#f4c120"/><stop offset="0.3898" stop-color="#ee7a1a"/><stop offset="0.8714" stop-color="#e41b1c"/><stop offset="0.9345" stop-color="#e5231b"/><stop offset="0.9631" stop-color="#e73e1a"/><stop offset="0.9796" stop-color="#ec671a"/><stop offset="0.9842" stop-color="#ef821b"/><stop offset="0.9894" stop-color="#f3c421"/><stop offset="0.9917" stop-color="#e6db28"/><stop offset="0.9954" stop-color="#7cba28"/><stop offset="0.9976" stop-color="#6eb735"/><stop offset="0.9982" stop-color="#6cbd5f"/><stop offset="0.9987" stop-color="#6ac5bf"/><stop offset="0.9991" stop-color="#2fb5ee"/><stop offset="0.9997" stop-color="#2357ab"/><stop offset="1" stop-color="#1f4ca4"/></linearGradient><linearGradient id="e57" x1="0" y1="0" x2="0" y2="1"><stop offset="0" stop-color="#ddd929"/><stop offset="0.1892" stop-color="#f4c120"/><stop offset="0.3826" stop-color="#ee791a"/><stop offset="0.8641" stop-color="#e41b1c"/><stop offset="0.9175" stop-color="#e41d1c"/><stop offset="0.9566" stop-color="#e7341b"/><stop offset="0.9796" stop-color="#ec671a"/><stop offset="0.9842" stop-color="#ef811b"/><stop offset="0.9894" stop-color="#f3c421"/><stop offset="0.9917" stop-color="#e7db28"/><stop offset="0.9954" stop-color="#7cba28"/><stop offset="0.9976" stop-color="#6eb735"/><stop offset="0.9982" stop-color="#6cbd5e"/><stop offset="0.9987" stop-color="#6ac5bd"/><stop offset="0.9991" stop-color="#30b5ed"/><stop offset="0.9997" stop-color="#2357ab"/><stop offset="1" stop-color="#1f4ca4"/></linearGradient><linearGradient id="e58" x1="0" y1="0" x2="0" y2="1"><stop offset="0" stop-color="#e1da29"/><stop offset="0.1728" stop-color="#f4c220"/><stop offset="0.368" stop-color="#ee7a1a"/><stop offset="0.8714" stop-color="#e41a1c"/><stop offset="0.929" stop-color="#e5201c"/><stop offset="0.961" stop-color="#e73a1a"/><stop offset="0.9812" stop-color="#ed6e1a"/><stop offset="0.9855" stop-color="#f08f1c"/><stop offset="0.9894" stop-color="#f3c321"/><stop offset="0.9917" stop-color="#e8db28"/><stop offset="0.9954" stop-color="#7dba28"/><stop offset="0.9976" stop-color="#6eb734"/><stop offset="0.9982" stop-color="#6cbc5c"/><stop offset="0.9987" stop-color="#6ac5bc"/><stop offset="0.9991" stop-color="#31b5ed"/><stop offset="0.9997" stop-color="#2357ab"/><stop offset="1" stop-color="#1f4ca4"/></linearGradient><linearGradient id="e59" x1="0" y1="0" x2="0" y2="1"><stop offset="0" stop-color="#e6db29"/><stop offset="0.1728" stop-color="#f4be20"/><stop offset="0.3606" stop-color="#ee791a"/><stop offset="0.8603" stop-color="#e41a1c"/><stop offset="0.9205" stop-color="#e41d1c"/><stop offset="0.9588" stop-color="#e7361b"/><stop offset="0.9812" stop-color="#ed6d1a"/><stop offset="0.9855" stop-color="#f08e1c"/><stop offset="0.9894" stop-color="#f3c321"/><stop offset="0.9917" stop-color="#e8db28"/><stop offset="0.9954" stop-color="#7ebb28"/><stop offset="0.9976" stop-color="#6eb734"/><stop offset="0.9982" stop-color="#6cbc5b"/><stop offset="0.9987" stop-color="#6ac5bb"/><stop offset="0.9991" stop-color="#31b6ed"/><stop offset="0.9997" stop-color="#2457ab"/><stop offset="1" stop-color="#1f4ca4"/></linearGradient><linearGradient id="e60" x1="0" y1="0" x2="0" y2="1"><stop offset="0" stop-color="#eadc28"/><stop offset="0.1561" stop-color="#f4bf20"/><stop offset="0.368" stop-color="#ed751a"/><stop offset="0.8678" stop-color="#e4191c"/><stop offset="0.9175" stop-color="#e41c1c"/><stop offset="0.9588" stop-color="#e7361b"/><stop offset="0.9812" stop-color="#ed6d1a"/><stop offset="0.9855" stop-color="#f08d1c"/><stop offset="0.9894" stop-color="#f3c221"/><stop offset="0.9917" stop-color="#e9dc28"/><stop offset="0.9954" stop-color="#7ebb28"/><stop offset="0.9976" stop-color="#6eb733"/><stop offset="0.9982" stop-color="#6cbc5a"/><stop offset="0.9987" stop-color="#6ac5ba"/><stop offset="0.9991" stop-color="#32b6ec"/><stop offset="0.9997" stop-color="#2457ab"/><stop offset="1" stop-color="#1f4ca4"/></linearGradient><linearGradient id="e61" x1="0" y1="0" x2="0" y2="1"><stop offset="0" stop-color="#ecda28"/><stop offset="0.1394" stop-color="#f4c020"/><stop offset="0.3383" stop-color="#ee791a"/><stop offset="0.8566" stop-color="#e4191c"/><stop offset="0.9234" stop-color="#e41d1c"/><stop offset="0.9543" stop-color="#e6301b"/><stop offset="0.9796" stop-color="#ec651a"/><stop offset="0.9842" stop-color="#ee7f1a"/><stop offset="0.9894" stop-color="#f3c221"/><stop offset="0.9917" stop-color="#eadc28"/><stop offset="0.9954" stop-color="#7fbb28"/><stop offset="0.9976" stop-color="#6eb733"/><stop offset="0.9982" stop-color="#6cbc59"/><stop offset="0.9987" stop-color="#6ac5b9"/><stop offset="0.9991" stop-color="#32b6ec"/><stop offset="0.9997" stop-color="#2457ab"/><stop offset="1" stop-color="#1f4ca4"/></linearGradient><linearGradient id="e62" x1="0" y1="0" x2="0" y2="1"><stop offset="0" stop-color="#edd727"/><stop offset="0.1309" stop-color="#f4be20"/><stop offset="0.3232" stop-color="#ee7a1a"/><stop offset="0.8678" stop-color="#e4181c"/><stop offset="0.9175" stop-color="#e41b1c"/><stop offset="0.9588" stop-color="#e7351b"/><stop offset="0.9812" stop-color="#ec6c1a"/><stop offset="0.9855" stop-color="#f08c1c"/><stop offset="0.9894" stop-color="#f4c120"/><stop offset="0.9917" stop-color="#eadc28"/><stop offset="0.9954" stop-color="#80bc28"/><stop offset="0.9976" stop-color="#6eb732"/><stop offset="0.9982" stop-color="#6cbc58"/><stop offset="0.9987" stop-color="#6ac5b8"/><stop offset="0.9991" stop-color="#33b6ec"/><stop offset="0.9997" stop-color="#2457ab"/><stop offset="1" stop-color="#1f4ca4"/></linearGradient><linearGradient id="e63" x1="0" y1="0" x2="0" y2="1"><stop offset="0" stop-color="#eed426"/><stop offset="0.1054" stop-color="#f4c120"/><stop offset="0.3157" stop-color="#ee791a"/><stop offset="0.8566" stop-color="#e4181c"/><stop offset="0.9145" stop-color="#e41a1c"/><stop offset="0.9566" stop-color="#e6321b"/><stop offset="0.9796" stop-color="#ec651a"/><stop offset="0.9842" stop-color="#ee7d1a"/><stop offset="0.9894" stop-color="#f4c120"/><stop offset="0.9917" stop-color="#ebdc28"/><stop offset="0.9954" stop-color="#81bc28"/><stop offset="0.9976" stop-color="#6eb732"/><stop offset="0.9982" stop-color="#6cbc57"/><stop offset="0.9987" stop-color="#6ac4b7"/><stop offset="0.9991" stop-color="#33b6eb"/><stop offset="0.9997" stop-color="#2457ab"/><stop offset="1" stop-color="#1f4ca4"/></linearGradient><linearGradient id="e64" x1="0" y1="0" x2="0" y2="1"><stop offset="0" stop-color="#efd225"/><stop offset="0.3004" stop-color="#ee7a1a"/><stop offset="0.8489" stop-color="#e4181c"/><stop offset="0.9145" stop-color="#e41a1c"/><stop offset="0.9543" stop-color="#e62f1b"/><stop offset="0.9796" stop-color="#ec641a"/><stop offset="0.9842" stop-color="#ee7d1a"/><stop offset="0.9894" stop-color="#f4c120"/><stop offset="0.9917" stop-color="#ecdc28"/><stop offset="0.9954" stop-color="#81bc28"/><stop offset="0.9976" stop-color="#6eb731"/><stop offset="0.9982" stop-color="#6cbc57"/><stop offset="0.9987" stop-color="#6ac4b6"/><stop offset="0.9991" stop-color="#34b6eb"/><stop offset="0.9997" stop-color="#2457ab"/><stop offset="1" stop-color="#1f4ca4"/></linearGradient><linearGradient id="e65" x1="0" y1="0" x2="0" y2="1"><stop offset="0" stop-color="#f0cf24"/><stop offset="0.2927" stop-color="#ee791a"/><stop offset="0.841" stop-color="#e4181c"/><stop offset="0.9175" stop-color="#e41a1c"/><stop offset="0.9588" stop-color="#e7341b"/><stop offset="0.9812" stop-color="#ec6b1a"/><stop offset="0.9855" stop-color="#ef8a1b"/><stop offset="0.9894" stop-color="#f4c020"/><stop offset="0.9917" stop-color="#ecdc28"/><stop offset="0.9954" stop-color="#82bc28"/><stop offset="0.9976" stop-color="#6eb731"/><stop offset="0.9982" stop-color="#6cbc56"/><stop offset="0.9987" stop-color="#6ac4b5"/><stop offset="0.9991" stop-color="#34b6eb"/><stop offset="0.9997" stop-color="#2457ab"/><stop offset="1" stop-color="#1f4ca4"/></linearGradient><linearGradient id="e66" x1="0" y1="0" x2="0" y2="1"><stop offset="0" stop-color="#f1cc23"/><stop offset="0.2772" stop-color="#ee7a1a"/><stop offset="0.837" stop-color="#e4181c"/><stop offset="0.9145" stop-color="#e4191c"/><stop offset="0.9566" stop-color="#e6311b"/><stop offset="0.9796" stop-color="#ec641a"/><stop offset="0.9842" stop-color="#ee7c1a"/><stop offset="0.9894" stop-color="#f4c020"/><stop offset="0.9917" stop-color="#ecdb28"/><stop offset="0.9954" stop-color="#82bd28"/><stop offset="0.9976" stop-color="#6eb730"/><stop offset="0.9982" stop-color="#6cbc56"/><stop offset="0.9987" stop-color="#6ac4b4"/><stop offset="0.9991" stop-color="#35b7ea"/><stop offset="0.9997" stop-color="#2457ab"/><stop offset="1" stop-color="#1f4ca4"/></linearGradient><linearGradient id="e67" x1="0" y1="0" x2="0" y2="1"><stop offset="0" stop-color="#f1c923"/><stop offset="0.2772" stop-color="#ee781a"/><stop offset="0.8289" stop-color="#e4181c"/><stop offset="0.9145" stop-color="#e4191c"/><stop offset="0.9543" stop-color="#e62e1b"/><stop offset="0.9796" stop-color="#eb631a"/><stop offset="0.9842" stop-color="#ee7b1a"/><stop offset="0.9894" stop-color="#f4bf20"/><stop offset="0.9917" stop-color="#ecdb28"/><stop offset="0.9954" stop-color="#83bd28"/><stop offset="0.9976" stop-color="#6eb730"/><stop offset="0.9982" stop-color="#6cbc56"/><stop offset="0.9987" stop-color="#6ac4b3"/><stop offset="0.9991" stop-color="#35b7ea"/><stop offset="0.9997" stop-color="#2457ab"/><stop offset="1" stop-color="#1f4ca4"/></linearGradient><linearGradient id="e68" x1="0" y1="0" x2="0" y2="1"><stop offset="0" stop-color="#f2c722"/><stop offset="0.2615" stop-color="#ee791a"/><stop offset="0.8248" stop-color="#e4181c"/><stop offset="0.9115" stop-color="#e4181c"/><stop offset="0.9497" stop-color="#e6291b"/><stop offset="0.9796" stop-color="#eb631a"/><stop offset="0.9842" stop-color="#ee7b1a"/><stop offset="0.9894" stop-color="#f4bf20"/><stop offset="0.9917" stop-color="#ecdb28"/><stop offset="0.9954" stop-color="#84bd28"/><stop offset="0.9976" stop-color="#6eb62f"/><stop offset="0.9982" stop-color="#6cbc55"/><stop offset="0.9987" stop-color="#6ac4b2"/><stop offset="0.9991" stop-color="#36b7ea"/><stop offset="0.9997" stop-color="#2457ab"/><stop offset="1" stop-color="#1f4ca4"/></linearGradient><linearGradient id="e69" x1="0" y1="0" x2="0" y2="1"><stop offset="0" stop-color="#f3c421"/><stop offset="0.2536" stop-color="#ee781a"/><stop offset="0.8206" stop-color="#e4181c"/><stop offset="0.9115" stop-color="#e4181c"/><stop offset="0.952" stop-color="#e62b1b"/><stop offset="0.9796" stop-color="#eb631a"/><stop offset="0.9842" stop-color="#ee7a1a"/><stop offset="0.9894" stop-color="#f4be20"/><stop offset="0.9917" stop-color="#edda27"/><stop offset="0.9927" stop-color="#d7d92a"/><stop offset="0.9954" stop-color="#84bd29"/><stop offset="0.9976" stop-color="#6eb62f"/><stop offset="0.9982" stop-color="#6cbc55"/><stop offset="0.9987" stop-color="#6ac4b1"/><stop offset="0.9991" stop-color="#36b7e9"/><stop offset="0.9997" stop-color="#2457ab"/><stop offset="1" stop-color="#1f4ca4"/></linearGradient><linearGradient id="e70" x1="0" y1="0" x2="0" y2="1"><stop offset="0" stop-color="#f4c120"/><stop offset="0.2378" stop-color="#ee791a"/><stop offset="0.8121" stop-color="#e4181c"/><stop offset="0.9145" stop-color="#e4181c"/><stop offset="0.952" stop-color="#e62b1b"/><stop offset="0.978" stop-color="#eb5c1a"/><stop offset="0.9842" stop-color="#ee7a1a"/><stop offset="0.9894" stop-color="#f4bd20"/><stop offset="0.9917" stop-color="#edda27"/><stop offset="0.9954" stop-color="#85be29"/><stop offset="0.9976" stop-color="#6eb62f"/><stop offset="0.9982" stop-color="#6cbc54"/><stop offset="0.9987" stop-color="#6ac4b1"/><stop offset="0.9991" stop-color="#37b7e9"/><stop offset="0.9997" stop-color="#2457ab"/><stop offset="1" stop-color="#1f4ca4"/></linearGradient><linearGradient id="e71" x1="0" y1="0" x2="0" y2="1"><stop offset="0" stop-color="#f4be20"/><stop offset="0.2217" stop-color="#ee7a1a"/><stop offset="0.8078" stop-color="#e4181c"/><stop offset="0.9145" stop-color="#e4181c"/><stop offset="0.9543" stop-color="#e62d1b"/><stop offset="0.9796" stop-color="#eb621a"/><stop offset="0.9855" stop-color="#ef871b"/><stop offset="0.9894" stop-color="#f4bd20"/><stop offset="0.9917" stop-color="#edd927"/><stop offset="0.9927" stop-color="#d8d92a"/><stop offset="0.9954" stop-color="#85be29"/><stop offset="0.9976" stop-color="#6eb62e"/><stop offset="0.9982" stop-color="#6cbb54"/><stop offset="0.9987" stop-color="#6ac4b0"/><stop offset="0.9991" stop-color="#37b7e9"/><stop offset="0.9997" stop-color="#2457ab"/><stop offset="1" stop-color="#1f4ca4"/></linearGradient><linearGradient id="e72" x1="0" y1="0" x2="0" y2="1"><stop offset="0" stop-color="#f4ba20"/><stop offset="0.2055" stop-color="#ee7b1a"/><stop offset="0.4184" stop-color="#ea541a"/><stop offset="0.748" stop-color="#e51e1c"/><stop offset="0.9145" stop-color="#e4181c"/><stop offset="0.9497" stop-color="#e5281b"/><stop offset="0.9728" stop-color="#e94d1a"/><stop offset="0.9842" stop-color="#ee791a"/><stop offset="0.9894" stop-color="#f4bc20"/><stop offset="0.9917" stop-color="#edd927"/><stop offset="0.9927" stop-color="#d9d92a"/><stop offset="0.9954" stop-color="#86be29"/><stop offset="0.9976" stop-color="#6eb62e"/><stop offset="0.9982" stop-color="#6cbb54"/><stop offset="0.9987" stop-color="#6ac4af"/><stop offset="0.9991" stop-color="#38b7e8"/><stop offset="0.9997" stop-color="#2457ac"/><stop offset="1" stop-color="#1f4ca4"/></linearGradient><linearGradient id="e73" x1="0" y1="0" x2="0" y2="1"><stop offset="0" stop-color="#f3b61f"/><stop offset="0.2055" stop-color="#ee791a"/><stop offset="0.4042" stop-color="#ea551a"/><stop offset="0.7431" stop-color="#e51e1c"/><stop offset="0.9175" stop-color="#e4181c"/><stop offset="0.952" stop-color="#e62a1b"/><stop offset="0.971" stop-color="#e8481a"/><stop offset="0.9842" stop-color="#ee791a"/><stop offset="0.9894" stop-color="#f4bc20"/><stop offset="0.9917" stop-color="#edd927"/><stop offset="0.9927" stop-color="#d9d92a"/><stop offset="0.9954" stop-color="#86be29"/><stop offset="0.9976" stop-color="#6eb62d"/><stop offset="0.9982" stop-color="#6cbb53"/><stop offset="0.9987" stop-color="#6ac4ae"/><stop offset="0.9991" stop-color="#38b8e8"/><stop offset="0.9997" stop-color="#2457ac"/><stop offset="1" stop-color="#1f4ca4"/></linearGradient><linearGradient id="e74" x1="0" y1="0" x2="0" y2="1"><stop offset="0" stop-color="#f3b21f"/><stop offset="0.1892" stop-color="#ee7a1a"/><stop offset="0.6756" stop-color="#e5261b"/><stop offset="0.9175" stop-color="#e4181c"/><stop offset="0.952" stop-color="#e62a1b"/><stop offset="0.9728" stop-color="#e94c1a"/><stop offset="0.9842" stop-color="#ee791a"/><stop offset="0.9894" stop-color="#f4bb20"/><stop offset="0.9917" stop-color="#edd827"/><stop offset="0.9927" stop-color="#dad92a"/><stop offset="0.9954" stop-color="#87be29"/><stop offset="0.9976" stop-color="#6eb62d"/><stop offset="0.9982" stop-color="#6cbb53"/><stop offset="0.9987" stop-color="#6ac4ad"/><stop offset="0.9991" stop-color="#38b8e8"/><stop offset="0.9997" stop-color="#2457ac"/><stop offset="1" stop-color="#1f4ca4"/></linearGradient><linearGradient id="e75" x1="0" y1="0" x2="0" y2="1"><stop offset="0" stop-color="#f2ae1e"/><stop offset="0.181" stop-color="#ee791a"/><stop offset="0.6702" stop-color="#e5261b"/><stop offset="0.9175" stop-color="#e4181c"/><stop offset="0.9543" stop-color="#e62c1b"/><stop offset="0.9728" stop-color="#e94c1a"/><stop offset="0.9842" stop-color="#ee781a"/><stop offset="0.9894" stop-color="#f4bb20"/><stop offset="0.9917" stop-color="#edd827"/><stop offset="0.9927" stop-color="#dad929"/><stop offset="0.9954" stop-color="#87bf29"/><stop offset="0.9976" stop-color="#6eb62d"/><stop offset="0.9982" stop-color="#6cbb53"/><stop offset="0.9987" stop-color="#6ac4ad"/><stop offset="0.9991" stop-color="#39b8e8"/><stop offset="0.9997" stop-color="#2457ac"/><stop offset="1" stop-color="#1f4ca4"/></linearGradient><linearGradient id="e76" x1="0" y1="0" x2="0" y2="1"><stop offset="0" stop-color="#f2ab1e"/><stop offset="0.1728" stop-color="#ee7d1a"/><stop offset="0.6646" stop-color="#e5261b"/><stop offset="0.9205" stop-color="#e4181c"/><stop offset="0.9543" stop-color="#e62c1b"/><stop offset="0.9746" stop-color="#e9501a"/><stop offset="0.9842" stop-color="#ee781a"/><stop offset="0.9894" stop-color="#f3ba1f"/><stop offset="0.9917" stop-color="#edd827"/><stop offset="0.9927" stop-color="#dbd929"/><stop offset="0.9954" stop-color="#88bf29"/><stop offset="0.9976" stop-color="#6eb62c"/><stop offset="0.9982" stop-color="#6cbb52"/><stop offset="0.9987" stop-color="#6bc3ac"/><stop offset="0.9991" stop-color="#39b8e7"/><stop offset="0.9997" stop-color="#2457ac"/><stop offset="1" stop-color="#1f4ca4"/></linearGradient><linearGradient id="e77" x1="0" y1="0" x2="0" y2="1"><stop offset="0" stop-color="#f2a81e"/><stop offset="0.6591" stop-color="#e5261b"/><stop offset="0.9205" stop-color="#e4181c"/><stop offset="0.9497" stop-color="#e5271b"/><stop offset="0.9746" stop-color="#e9501a"/><stop offset="0.9842" stop-color="#ee781a"/><stop offset="0.9894" stop-color="#f3ba1f"/><stop offset="0.9917" stop-color="#edd827"/><stop offset="0.9927" stop-color="#dbd929"/><stop offset="0.9954" stop-color="#88bf29"/><stop offset="0.9976" stop-color="#6eb62c"/><stop offset="0.9982" stop-color="#6cbb52"/><stop offset="0.9987" stop-color="#6bc3ab"/><stop offset="0.9991" stop-color="#3ab8e7"/><stop offset="0.9997" stop-color="#2457ac"/><stop offset="1" stop-color="#1f4ca4"/></linearGradient><linearGradient id="e78" x1="0" y1="0" x2="0" y2="1"><stop offset="0" stop-color="#f2a51e"/><stop offset="0.6535" stop-color="#e5261b"/><stop offset="0.9205" stop-color="#e4181c"/><stop offset="0.952" stop-color="#e6291b"/><stop offset="0.9746" stop-color="#e9501a"/><stop offset="0.9842" stop-color="#ee781a"/><stop offset="0.9894" stop-color="#f3b91f"/><stop offset="0.9927" stop-color="#dcd929"/><stop offset="0.9954" stop-color="#89bf29"/><stop offset="0.9976" stop-color="#6eb62c"/><stop offset="0.9982" stop-color="#6cbb52"/><stop offset="0.9987" stop-color="#6bc3aa"/><stop offset="0.9991" stop-color="#3ab8e7"/><stop offset="0.9997" stop-color="#2457ac"/><stop offset="1" stop-color="#1f4ca4"/></linearGradient><linearGradient id="e79" x1="0" y1="0" x2="0" y2="1"><stop offset="0" stop-color="#f1a21d"/><stop offset="0.2217" stop-color="#ef841b"/><stop offset="0.6478" stop-color="#e5261b"/><stop offset="0.9205" stop-color="#e4181c"/><stop offset="0.9543" stop-color="#e62b1b"/><stop offset="0.9728" stop-color="#e94c1a"/><stop offset="0.9842" stop-color="#ee791a"/><stop offset="0.9894" stop-color="#f4bb20"/><stop offset="0.9917" stop-color="#edd827"/><stop offset="0.9927" stop-color="#dad929"/><stop offset="0.9954" stop-color="#88bf29"/><stop offset="0.9976" stop-color="#6eb62c"/><stop offset="0.9982" stop-color="#6cbb52"/><stop offset="0.9987" stop-color="#6bc3ab"/><stop offset="0.9991" stop-color="#3ab8e7"/><stop offset="0.9997" stop-color="#2457ac"/><stop offset="1" stop-color="#1f4ca4"/></linearGradient><linearGradient id="e80" x1="0" y1="0" x2="0" y2="1"><stop offset="0" stop-color="#f19f1d"/><stop offset="0.2217" stop-color="#ef8b1b"/><stop offset="0.6422" stop-color="#e5261b"/><stop offset="0.9234" stop-color="#e4181c"/><stop offset="0.9651" stop-color="#e73b1a"/><stop offset="0.9827" stop-color="#ee7d1a"/><stop offset="0.9882" stop-color="#f3b71f"/><stop offset="0.9917" stop-color="#e6db28"/><stop offset="0.9954" stop-color="#80bc28"/><stop offset="0.9976" stop-color="#6eb730"/><stop offset="0.9982" stop-color="#6cbc55"/><stop offset="0.9987" stop-color="#6ac4b1"/><stop offset="0.9991" stop-color="#37b7e9"/><stop offset="0.9997" stop-color="#2457ac"/><stop offset="1" stop-color="#1f4ca4"/></linearGradient><linearGradient id="e81" x1="0" y1="0" x2="0" y2="1"><stop offset="0" stop-color="#f19c1d"/><stop offset="0.2217" stop-color="#f0911c"/><stop offset="0.6307" stop-color="#e5271b"/><stop offset="0.9234" stop-color="#e4181c"/><stop offset="0.9651" stop-color="#e73b1a"/><stop offset="0.9796" stop-color="#ee781a"/><stop offset="0.9882" stop-color="#f3c321"/><stop offset="0.9906" stop-color="#edda27"/><stop offset="0.9927" stop-color="#c6d62b"/><stop offset="0.9954" stop-color="#7cba28"/><stop offset="0.9976" stop-color="#6eb734"/><stop offset="0.9982" stop-color="#6cbc59"/><stop offset="0.9987" stop-color="#6ac4b7"/><stop offset="0.9991" stop-color="#34b6eb"/><stop offset="0.9997" stop-color="#2457ab"/><stop offset="1" stop-color="#1f4ca4"/></linearGradient><linearGradient id="e82" x1="0" y1="0" x2="0" y2="1"><stop offset="0" stop-color="#f1991d"/><stop offset="0.2217" stop-color="#f0971c"/><stop offset="0.6132" stop-color="#e62a1b"/><stop offset="0.9234" stop-color="#e4181c"/><stop offset="0.9651" stop-color="#e73a1a"/><stop offset="0.978" stop-color="#ee791a"/><stop offset="0.9869" stop-color="#f3c321"/><stop offset="0.9906" stop-color="#e4db29"/><stop offset="0.9954" stop-color="#7bba28"/><stop offset="0.997" stop-color="#72b72b"/><stop offset="0.9976" stop-color="#6db837"/><stop offset="0.9982" stop-color="#6cbd60"/><stop offset="0.9987" stop-color="#6ac5bd"/><stop offset="0.9991" stop-color="#32b6ec"/><stop offset="0.9997" stop-color="#2457ab"/><stop offset="1" stop-color="#1f4ca4"/></linearGradient><linearGradient id="e83" x1="0" y1="0" x2="0" y2="1"><stop offset="0" stop-color="#f0971c"/><stop offset="0.2217" stop-color="#f19e1d"/><stop offset="0.4184" stop-color="#ed711a"/><stop offset="0.6132" stop-color="#e6291b"/><stop offset="0.9234" stop-color="#e4181c"/><stop offset="0.9651" stop-color="#e73a1a"/><stop offset="0.9763" stop-color="#ee7d1a"/><stop offset="0.9842" stop-color="#f4c120"/><stop offset="0.9894" stop-color="#e3da29"/><stop offset="0.9946" stop-color="#82bc28"/><stop offset="0.997" stop-color="#70b72b"/><stop offset="0.9976" stop-color="#6db83d"/><stop offset="0.9982" stop-color="#6cbe6c"/><stop offset="0.9987" stop-color="#6ac6c6"/><stop offset="0.9991" stop-color="#2db4ef"/><stop offset="0.9997" stop-color="#2357ab"/><stop offset="1" stop-color="#1f4ca4"/></linearGradient><linearGradient id="e84" x1="0" y1="0" x2="0" y2="1"><stop offset="0" stop-color="#f0941c"/><stop offset="0.2217" stop-color="#f2a51e"/><stop offset="0.4184" stop-color="#ee781a"/><stop offset="0.6132" stop-color="#e5281b"/><stop offset="0.9234" stop-color="#e4181c"/><stop offset="0.9651" stop-color="#e73a1a"/><stop offset="0.9746" stop-color="#ee7f1a"/><stop offset="0.9796" stop-color="#f4bc20"/><stop offset="0.9869" stop-color="#e7db28"/><stop offset="0.9917" stop-color="#afcf2b"/><stop offset="0.9946" stop-color="#7bba28"/><stop offset="0.997" stop-color="#6fb62c"/><stop offset="0.9976" stop-color="#6db945"/><stop offset="0.9982" stop-color="#6bbf7a"/><stop offset="0.9987" stop-color="#64c4cc"/><stop offset="0.9991" stop-color="#2cb0ed"/><stop offset="0.9997" stop-color="#2356ab"/><stop offset="1" stop-color="#1f4ca4"/></linearGradient><linearGradient id="e85" x1="0" y1="0" x2="0" y2="1"><stop offset="0" stop-color="#f0921c"/><stop offset="0.2298" stop-color="#f2ab1e"/><stop offset="0.4184" stop-color="#ef811b"/><stop offset="0.6132" stop-color="#e5271b"/><stop offset="0.9262" stop-color="#e4181c"/><stop offset="0.9651" stop-color="#e73a1a"/><stop offset="0.9728" stop-color="#ee7a1a"/><stop offset="0.978" stop-color="#f4c120"/><stop offset="0.9827" stop-color="#ebdc28"/><stop offset="0.9894" stop-color="#b9d32c"/><stop offset="0.9937" stop-color="#7cba28"/><stop offset="0.997" stop-color="#6eb62f"/><stop offset="0.9976" stop-color="#6dba4c"/><stop offset="0.9982" stop-color="#6bc088"/><stop offset="0.9987" stop-color="#5dc2d1"/><stop offset="0.9991" stop-color="#2caae9"/><stop offset="0.9997" stop-color="#2356ab"/><stop offset="1" stop-color="#1f4ca4"/></linearGradient><linearGradient id="e86" x1="0" y1="0" x2="0" y2="1"><stop offset="0" stop-color="#f08f1c"/><stop offset="0.2298" stop-color="#f3b21f"/><stop offset="0.4184" stop-color="#ef8b1b"/><stop offset="0.6132" stop-color="#e62a1b"/><stop offset="0.748" stop-color="#e4181c"/><stop offset="0.9262" stop-color="#e4181c"/><stop offset="0.9651" stop-color="#e73a1a"/><stop offset="0.971" stop-color="#ed711a"/><stop offset="0.9763" stop-color="#f4c020"/><stop offset="0.9796" stop-color="#eadc28"/><stop offset="0.9894" stop-color="#a7cb2b"/><stop offset="0.9927" stop-color="#7dba28"/><stop offset="0.9962" stop-color="#70b72b"/><stop offset="0.9976" stop-color="#6cbb53"/><stop offset="0.9982" stop-color="#6bc297"/><stop offset="0.9987" stop-color="#55c0d5"/><stop offset="0.9991" stop-color="#2ba5e5"/><stop offset="0.9997" stop-color="#2356ab"/><stop offset="1" stop-color="#1f4ca4"/></linearGradient><linearGradient id="e87" x1="0" y1="0" x2="0" y2="1"><stop offset="0" stop-color="#f08d1c"/><stop offset="0.2298" stop-color="#f3b71f"/><stop offset="0.4184" stop-color="#f0961c"/><stop offset="0.6132" stop-color="#e6331b"/><stop offset="0.7624" stop-color="#e4181c"/><stop offset="0.9234" stop-color="#e4181c"/><stop offset="0.9651" stop-color="#e8441a"/><stop offset="0.971" stop-color="#ee801a"/><stop offset="0.9746" stop-color="#f4bc20"/><stop offset="0.978" stop-color="#e9dc28"/><stop offset="0.9812" stop-color="#c4d52b"/><stop offset="0.9869" stop-color="#a8cc2b"/><stop offset="0.9917" stop-color="#7cba28"/><stop offset="0.9962" stop-color="#6fb62c"/><stop offset="0.9976" stop-color="#6cbd5f"/><stop offset="0.9982" stop-color="#6bc3a5"/><stop offset="0.9987" stop-color="#4ebeda"/><stop offset="0.9991" stop-color="#2b9fe2"/><stop offset="0.9997" stop-color="#2356aa"/><stop offset="1" stop-color="#1f4ca4"/></linearGradient><linearGradient id="e88" x1="0" y1="0" x2="0" y2="1"><stop offset="0" stop-color="#ef8a1b"/><stop offset="0.2217" stop-color="#f4bc20"/><stop offset="0.4184" stop-color="#f1a01d"/><stop offset="0.619" stop-color="#e73a1a"/><stop offset="0.7811" stop-color="#e4181c"/><stop offset="0.9175" stop-color="#e4181c"/><stop offset="0.9497" stop-color="#e62e1b"/><stop offset="0.9651" stop-color="#e94b1a"/><stop offset="0.9691" stop-color="#ed741a"/><stop offset="0.9728" stop-color="#f3b51f"/><stop offset="0.9763" stop-color="#e9dc28"/><stop offset="0.9812" stop-color="#accd2b"/><stop offset="0.9954" stop-color="#70b72b"/><stop offset="0.997" stop-color="#6dba4a"/><stop offset="0.9976" stop-color="#6cbe72"/><stop offset="0.9982" stop-color="#6ac4b6"/><stop offset="0.9987" stop-color="#45bbe0"/><stop offset="0.9991" stop-color="#2b99dd"/><stop offset="0.9997" stop-color="#2355aa"/><stop offset="1" stop-color="#1f4ca4"/></linearGradient><linearGradient id="e89" x1="0" y1="0" x2="0" y2="1"><stop offset="0" stop-color="#ef871b"/><stop offset="0.2217" stop-color="#f4c020"/><stop offset="0.3898" stop-color="#f2ae1e"/><stop offset="0.6132" stop-color="#e8451a"/><stop offset="0.8078" stop-color="#e4181c"/><stop offset="0.9084" stop-color="#e4181c"/><stop offset="0.9397" stop-color="#e6291b"/><stop offset="0.9651" stop-color="#ea531a"/><stop offset="0.9671" stop-color="#ec651a"/><stop offset="0.971" stop-color="#f2ad1e"/><stop offset="0.9746" stop-color="#e7db28"/><stop offset="0.9812" stop-color="#8cc029"/><stop offset="0.9946" stop-color="#70b72b"/><stop offset="0.9954" stop-color="#6eb731"/><stop offset="0.997" stop-color="#6cbc58"/><stop offset="0.9982" stop-color="#66c5ca"/><stop offset="0.9987" stop-color="#39b8e8"/><stop offset="0.9995" stop-color="#266aba"/><stop offset="1" stop-color="#1f4ca4"/></linearGradient><linearGradient id="e90" x1="0" y1="0" x2="0" y2="1"><stop offset="0" stop-color="#ef851b"/><stop offset="0.2217" stop-color="#f3c321"/><stop offset="0.4042" stop-color="#f3b61f"/><stop offset="0.6132" stop-color="#e9511a"/><stop offset="0.8078" stop-color="#e41d1c"/><stop offset="0.8923" stop-color="#e4191c"/><stop offset="0.9318" stop-color="#e5251b"/><stop offset="0.9651" stop-color="#eb5b1a"/><stop offset="0.9671" stop-color="#ed6f1a"/><stop offset="0.971" stop-color="#f3c321"/><stop offset="0.9728" stop-color="#ecdb28"/><stop offset="0.9796" stop-color="#7cba28"/><stop offset="0.9937" stop-color="#6fb62c"/><stop offset="0.9962" stop-color="#6cbb52"/><stop offset="0.9976" stop-color="#6bc3ab"/><stop offset="0.9982" stop-color="#57c0d4"/><stop offset="0.9987" stop-color="#2db4f0"/><stop offset="0.9995" stop-color="#2666b7"/><stop offset="1" stop-color="#1f4ca4"/></linearGradient><linearGradient id="e91" x1="0" y1="0" x2="0" y2="1"><stop offset="0" stop-color="#ef831b"/><stop offset="0.2137" stop-color="#f3c421"/><stop offset="0.4113" stop-color="#f4bf20"/><stop offset="0.619" stop-color="#eb5b1a"/><stop offset="0.9021" stop-color="#e5201c"/><stop offset="0.9651" stop-color="#eb631a"/><stop offset="0.9671" stop-color="#ee791a"/><stop offset="0.9691" stop-color="#f2ac1e"/><stop offset="0.971" stop-color="#efd125"/><stop offset="0.9728" stop-color="#d6d82a"/><stop offset="0.978" stop-color="#7cba28"/><stop offset="0.9927" stop-color="#6eb62f"/><stop offset="0.9954" stop-color="#6cbb52"/><stop offset="0.9962" stop-color="#6cbe6d"/><stop offset="0.9976" stop-color="#6ac6c7"/><stop offset="0.9987" stop-color="#2ba8e8"/><stop offset="0.9995" stop-color="#2562b4"/><stop offset="1" stop-color="#1f4ca4"/></linearGradient><linearGradient id="e92" x1="0" y1="0" x2="0" y2="1"><stop offset="0" stop-color="#ef821b"/><stop offset="0.2217" stop-color="#f2c822"/><stop offset="0.4184" stop-color="#f3c521"/><stop offset="0.6072" stop-color="#ec6a1a"/><stop offset="0.8078" stop-color="#e8401a"/><stop offset="0.8785" stop-color="#e83f1a"/><stop offset="0.9318" stop-color="#e94f1a"/><stop offset="0.9651" stop-color="#ed731a"/><stop offset="0.9671" stop-color="#f0921c"/><stop offset="0.9691" stop-color="#f2c522"/><stop offset="0.971" stop-color="#e2da29"/><stop offset="0.9763" stop-color="#7cba28"/><stop offset="0.9906" stop-color="#6eb733"/><stop offset="0.9946" stop-color="#6cbc56"/><stop offset="0.997" stop-color="#6ac4b6"/><stop offset="0.9982" stop-color="#39b8e8"/><stop offset="0.9987" stop-color="#2b9cdf"/><stop offset="0.9995" stop-color="#255eb1"/><stop offset="1" stop-color="#1f4ca4"/></linearGradient><linearGradient id="e93" x1="0" y1="0" x2="0" y2="1"><stop offset="0" stop-color="#ef801b"/><stop offset="0.2217" stop-color="#f1cb23"/><stop offset="0.4184" stop-color="#f1ca23"/><stop offset="0.6132" stop-color="#ed741a"/><stop offset="0.8164" stop-color="#e9511a"/><stop offset="0.9318" stop-color="#eb621a"/><stop offset="0.9651" stop-color="#f19f1d"/><stop offset="0.9671" stop-color="#f4c020"/><stop offset="0.9691" stop-color="#e7db28"/><stop offset="0.9746" stop-color="#7cba28"/><stop offset="0.9855" stop-color="#6eb735"/><stop offset="0.9917" stop-color="#6cbb4d"/><stop offset="0.9937" stop-color="#6cbd63"/><stop offset="0.997" stop-color="#61c4ce"/><stop offset="0.9982" stop-color="#2cb1ee"/><stop offset="0.9995" stop-color="#245aad"/><stop offset="1" stop-color="#1f4ca4"/></linearGradient><linearGradient id="e94" x1="0" y1="0" x2="0" y2="1"><stop offset="0" stop-color="#ee7e1a"/><stop offset="0.2055" stop-color="#f1ca23"/><stop offset="0.4184" stop-color="#f0d024"/><stop offset="0.619" stop-color="#ef811b"/><stop offset="0.8078" stop-color="#eb621a"/><stop offset="0.9262" stop-color="#ef801b"/><stop offset="0.9588" stop-color="#f4bf20"/><stop offset="0.9651" stop-color="#f2c722"/><stop offset="0.9671" stop-color="#ecda28"/><stop offset="0.9728" stop-color="#7dba28"/><stop offset="0.978" stop-color="#70b72b"/><stop offset="0.9812" stop-color="#6db943"/><stop offset="0.9894" stop-color="#6cbc56"/><stop offset="0.9927" stop-color="#6bbf7b"/><stop offset="0.9962" stop-color="#62c4cd"/><stop offset="0.9976" stop-color="#36b7ea"/><stop offset="0.9982" stop-color="#2ba2e4"/><stop offset="0.9995" stop-color="#2457ac"/><stop offset="1" stop-color="#1f4ca4"/></linearGradient><linearGradient id="e95" x1="0" y1="0" x2="0" y2="1"><stop offset="0" stop-color="#ee7d1a"/><stop offset="0.2217" stop-color="#efd025"/><stop offset="0.4184" stop-color="#edd727"/><stop offset="0.6132" stop-color="#f0931c"/><stop offset="0.7991" stop-color="#ed731a"/><stop offset="0.882" stop-color="#f0911c"/><stop offset="0.9371" stop-color="#f4bd20"/><stop offset="0.9651" stop-color="#e0da29"/><stop offset="0.971" stop-color="#7dbb28"/><stop offset="0.9763" stop-color="#70b72b"/><stop offset="0.9812" stop-color="#6cbc5b"/><stop offset="0.9894" stop-color="#6bc083"/><stop offset="0.9946" stop-color="#69c6c8"/><stop offset="0.9976" stop-color="#2cacea"/><stop offset="0.9995" stop-color="#2356ab"/><stop offset="1" stop-color="#1f4ca4"/></linearGradient><linearGradient id="e96" x1="0" y1="0" x2="0" y2="1"><stop offset="0" stop-color="#ee7b1a"/><stop offset="0.2217" stop-color="#efd325"/><stop offset="0.4255" stop-color="#ebdc28"/><stop offset="0.6132" stop-color="#f2a41e"/><stop offset="0.8035" stop-color="#ef881b"/><stop offset="0.929" stop-color="#f0cf24"/><stop offset="0.9371" stop-color="#ecdb28"/><stop offset="0.9631" stop-color="#a6cb2b"/><stop offset="0.9691" stop-color="#7ab929"/><stop offset="0.9746" stop-color="#6eb62c"/><stop offset="0.978" stop-color="#6cbb51"/><stop offset="0.9812" stop-color="#6bc18d"/><stop offset="0.9917" stop-color="#6ac6c5"/><stop offset="0.997" stop-color="#2cadeb"/><stop offset="1" stop-color="#1f4ca4"/></linearGradient><linearGradient id="e97" x1="0" y1="0" x2="0" y2="1"><stop offset="0" stop-color="#ee7a1a"/><stop offset="0.1478" stop-color="#f4c120"/><stop offset="0.2298" stop-color="#eed726"/><stop offset="0.4184" stop-color="#deda29"/><stop offset="0.4602" stop-color="#ecdc28"/><stop offset="0.6132" stop-color="#f3b41f"/><stop offset="0.7991" stop-color="#f1a11d"/><stop offset="0.9021" stop-color="#eed626"/><stop offset="0.9318" stop-color="#d5d82a"/><stop offset="0.9588" stop-color="#7dba28"/><stop offset="0.971" stop-color="#70b62c"/><stop offset="0.9763" stop-color="#6cbc5c"/><stop offset="0.9812" stop-color="#6ac5c0"/><stop offset="0.9894" stop-color="#5bc2d2"/><stop offset="0.9954" stop-color="#2db4ef"/><stop offset="1" stop-color="#1f4ca4"/></linearGradient><linearGradient id="e98" x1="0" y1="0" x2="0" y2="1"><stop offset="0" stop-color="#ee791a"/><stop offset="0.1394" stop-color="#f4c020"/><stop offset="0.2298" stop-color="#edda27"/><stop offset="0.4184" stop-color="#d8d92a"/><stop offset="0.4939" stop-color="#edda27"/><stop offset="0.6132" stop-color="#f4c120"/><stop offset="0.8035" stop-color="#f3b91f"/><stop offset="0.8855" stop-color="#ecdc28"/><stop offset="0.9053" stop-color="#ddd929"/><stop offset="0.9318" stop-color="#b1cf2b"/><stop offset="0.9473" stop-color="#7cba28"/><stop offset="0.9671" stop-color="#70b72b"/><stop offset="0.9728" stop-color="#6cbc55"/><stop offset="0.9796" stop-color="#5dc2d1"/><stop offset="0.9906" stop-color="#39b8e7"/><stop offset="0.9927" stop-color="#2eb5ef"/><stop offset="0.9954" stop-color="#2b9ee0"/><stop offset="1" stop-color="#1f4ca4"/></linearGradient><linearGradient id="e99" x1="0" y1="0" x2="0" y2="1"><stop offset="0" stop-color="#ee781a"/><stop offset="0.1309" stop-color="#f4be20"/><stop offset="0.2298" stop-color="#ebdc28"/><stop offset="0.4184" stop-color="#d2d82a"/><stop offset="0.5395" stop-color="#eed626"/><stop offset="0.8035" stop-color="#f2c722"/><stop offset="0.8489" stop-color="#edd927"/><stop offset="0.9021" stop-color="#ced72b"/><stop offset="0.9397" stop-color="#7cba28"/><stop offset="0.9651" stop-color="#6fb62c"/><stop offset="0.971" stop-color="#6cbc58"/><stop offset="0.9763" stop-color="#69c6c9"/><stop offset="0.9812" stop-color="#30b5ee"/><stop offset="0.9882" stop-color="#2caceb"/><stop offset="0.9946" stop-color="#2a8ed6"/><stop offset="1" stop-color="#1f4ca4"/></linearGradient><linearGradient id="e100" x1="0" y1="0" x2="0" y2="1"><stop offset="0" stop-color="#ee771a"/><stop offset="0.1309" stop-color="#f4c020"/><stop offset="0.2137" stop-color="#ecdc28"/><stop offset="0.4184" stop-color="#ccd72b"/><stop offset="0.5458" stop-color="#ecdc28"/><stop offset="0.6132" stop-color="#efd025"/><stop offset="0.8121" stop-color="#eed626"/><stop offset="0.9021" stop-color="#aacd2b"/><stop offset="0.929" stop-color="#7cba28"/><stop offset="0.961" stop-color="#6eb62c"/><stop offset="0.9651" stop-color="#6db838"/><stop offset="0.9691" stop-color="#6cbc5a"/><stop offset="0.9746" stop-color="#62c4cd"/><stop offset="0.978" stop-color="#34b6eb"/><stop offset="0.9796" stop-color="#2ba6e6"/><stop offset="0.9946" stop-color="#297bc8"/><stop offset="1" stop-color="#1f4ca4"/></linearGradient><linearGradient id="e101" x1="0" y1="0" x2="0" y2="1"><stop offset="0" stop-color="#ee761a"/><stop offset="0.1225" stop-color="#f4be20"/><stop offset="0.2055" stop-color="#ecdb28"/><stop offset="0.4184" stop-color="#c6d62b"/><stop offset="0.5892" stop-color="#ecdc28"/><stop offset="0.8035" stop-color="#e9db28"/><stop offset="0.9084" stop-color="#7cba28"/><stop offset="0.9543" stop-color="#6fb62c"/><stop offset="0.9671" stop-color="#6cbc59"/><stop offset="0.9728" stop-color="#5ec3d0"/><stop offset="0.9763" stop-color="#2db4f0"/><stop offset="0.9812" stop-color="#297ec9"/><stop offset="0.9927" stop-color="#2771bf"/><stop offset="1" stop-color="#1f4ca4"/></linearGradient><linearGradient id="e102" x1="0" y1="0" x2="0" y2="1"><stop offset="0" stop-color="#ed751a"/><stop offset="0.1225" stop-color="#f4c020"/><stop offset="0.1974" stop-color="#ecdb28"/><stop offset="0.4113" stop-color="#c0d52c"/><stop offset="0.6132" stop-color="#e4db29"/><stop offset="0.7991" stop-color="#d7d82a"/><stop offset="0.882" stop-color="#7dba28"/><stop offset="0.9497" stop-color="#6eb62c"/><stop offset="0.9651" stop-color="#6cbd5e"/><stop offset="0.971" stop-color="#60c3ce"/><stop offset="0.9746" stop-color="#2cb4f0"/><stop offset="0.9812" stop-color="#276cbc"/><stop offset="1" stop-color="#1f4ca4"/></linearGradient><linearGradient id="e103" x1="0" y1="0" x2="0" y2="1"><stop offset="0" stop-color="#ed741a"/><stop offset="0.1225" stop-color="#f4c120"/><stop offset="0.1974" stop-color="#eadc28"/><stop offset="0.4184" stop-color="#bad32c"/><stop offset="0.6072" stop-color="#d7d82a"/><stop offset="0.7902" stop-color="#c5d62b"/><stop offset="0.8078" stop-color="#c1d52c"/><stop offset="0.875" stop-color="#7cba28"/><stop offset="0.9473" stop-color="#6eb62d"/><stop offset="0.9631" stop-color="#6cbd62"/><stop offset="0.9651" stop-color="#6cbe72"/><stop offset="0.9691" stop-color="#6ac5bd"/><stop offset="0.9746" stop-color="#2cadeb"/><stop offset="0.9812" stop-color="#266aba"/><stop offset="1" stop-color="#1f4ca4"/></linearGradient><linearGradient id="e104" x1="0" y1="0" x2="0" y2="1"><stop offset="0" stop-color="#ed731a"/><stop offset="0.1139" stop-color="#f4be20"/><stop offset="0.1892" stop-color="#ebdc28"/><stop offset="0.2298" stop-color="#d6d82a"/><stop offset="0.4184" stop-color="#b5d12c"/><stop offset="0.6072" stop-color="#cbd62b"/><stop offset="0.7231" stop-color="#bbd42c"/><stop offset="0.8035" stop-color="#b0cf2b"/><stop offset="0.8641" stop-color="#7cba28"/><stop offset="0.9423" stop-color="#6eb62c"/><stop offset="0.9588" stop-color="#6cbc56"/><stop offset="0.9651" stop-color="#6bc085"/><stop offset="0.9691" stop-color="#66c5ca"/><stop offset="0.9728" stop-color="#35b7ea"/><stop offset="0.9812" stop-color="#2667b8"/><stop offset="1" stop-color="#1f4ca4"/></linearGradient><linearGradient id="e105" x1="0" y1="0" x2="0" y2="1"><stop offset="0" stop-color="#ed721a"/><stop offset="0.1139" stop-color="#f4c020"/><stop offset="0.181" stop-color="#ecdc28"/><stop offset="0.2217" stop-color="#d4d82a"/><stop offset="0.4184" stop-color="#afcf2b"/><stop offset="0.6132" stop-color="#c0d52c"/><stop offset="0.8035" stop-color="#9ec82a"/><stop offset="0.8489" stop-color="#7dba28"/><stop offset="0.9397" stop-color="#6eb62c"/><stop offset="0.9566" stop-color="#6cbc57"/><stop offset="0.9651" stop-color="#6bc299"/><stop offset="0.9671" stop-color="#6ac4b7"/><stop offset="0.9728" stop-color="#2cb4f0"/><stop offset="0.9763" stop-color="#2a88d2"/><stop offset="0.9812" stop-color="#2664b6"/><stop offset="1" stop-color="#1f4ca4"/></linearGradient><linearGradient id="e106" x1="0" y1="0" x2="0" y2="1"><stop offset="0" stop-color="#ed721a"/><stop offset="0.1728" stop-color="#ecdb28"/><stop offset="0.2217" stop-color="#d0d72a"/><stop offset="0.4042" stop-color="#acce2b"/><stop offset="0.6132" stop-color="#b7d22c"/><stop offset="0.8289" stop-color="#7cba28"/><stop offset="0.9318" stop-color="#70b72b"/><stop offset="0.9543" stop-color="#6cbc57"/><stop offset="0.9651" stop-color="#6ac4ad"/><stop offset="0.9671" stop-color="#69c6c9"/><stop offset="0.9728" stop-color="#2cacea"/><stop offset="0.9812" stop-color="#2562b4"/><stop offset="1" stop-color="#1f4ca4"/></linearGradient><linearGradient id="e107" x1="0" y1="0" x2="0" y2="1"><stop offset="0" stop-color="#ed711a"/><stop offset="0.1054" stop-color="#f4be20"/><stop offset="0.1728" stop-color="#ebdc28"/><stop offset="0.2298" stop-color="#c9d62b"/><stop offset="0.4042" stop-color="#a7cc2b"/><stop offset="0.6132" stop-color="#afcf2b"/><stop offset="0.7719" stop-color="#7cba28"/><stop offset="0.9345" stop-color="#6eb62c"/><stop offset="0.952" stop-color="#6cbc57"/><stop offset="0.9651" stop-color="#6ac5c1"/><stop offset="0.971" stop-color="#30b5ed"/><stop offset="0.9812" stop-color="#255fb2"/><stop offset="1" stop-color="#1f4ca4"/></linearGradient><linearGradient id="e108" x1="0" y1="0" x2="0" y2="1"><stop offset="0" stop-color="#ed701a"/><stop offset="0.1054" stop-color="#f4c020"/><stop offset="0.1645" stop-color="#ecdb28"/><stop offset="0.2217" stop-color="#c7d62b"/><stop offset="0.4042" stop-color="#a2ca2a"/><stop offset="0.6132" stop-color="#a7cb2b"/><stop offset="0.718" stop-color="#7cba28"/><stop offset="0.9318" stop-color="#6eb62c"/><stop offset="0.9497" stop-color="#6cbc58"/><stop offset="0.9631" stop-color="#6ac5c0"/><stop offset="0.9651" stop-color="#64c4cc"/><stop offset="0.971" stop-color="#2cb1ee"/><stop offset="0.9812" stop-color="#255caf"/><stop offset="1" stop-color="#1f4ca4"/></linearGradient><linearGradient id="e109" x1="0" y1="0" x2="0" y2="1"><stop offset="0" stop-color="#ed6f1a"/><stop offset="0.1054" stop-color="#f4c120"/><stop offset="0.1645" stop-color="#eadc28"/><stop offset="0.2217" stop-color="#c3d52b"/><stop offset="0.4184" stop-color="#9ac62a"/><stop offset="0.6132" stop-color="#9fc82a"/><stop offset="0.6971" stop-color="#7cba28"/><stop offset="0.9262" stop-color="#6eb62c"/><stop offset="0.9473" stop-color="#6cbc5a"/><stop offset="0.9631" stop-color="#66c5ca"/><stop offset="0.971" stop-color="#2caae9"/><stop offset="0.9812" stop-color="#245aad"/><stop offset="1" stop-color="#1f4ca4"/></linearGradient><linearGradient id="e110" x1="0" y1="0" x2="0" y2="1"><stop offset="0" stop-color="#ed6e1a"/><stop offset="0.1054" stop-color="#f3c221"/><stop offset="0.1561" stop-color="#ecdb28"/><stop offset="0.2298" stop-color="#bcd42c"/><stop offset="0.4113" stop-color="#96c52a"/><stop offset="0.6072" stop-color="#97c52a"/><stop offset="0.6811" stop-color="#7cba28"/><stop offset="0.9205" stop-color="#6eb62c"/><stop offset="0.9448" stop-color="#6cbc5b"/><stop offset="0.961" stop-color="#68c5ca"/><stop offset="0.9691" stop-color="#2fb5ee"/><stop offset="0.9746" stop-color="#2980cb"/><stop offset="0.9812" stop-color="#2458ac"/><stop offset="1" stop-color="#1f4ca4"/></linearGradient><linearGradient id="e111" x1="0" y1="0" x2="0" y2="1"><stop offset="0" stop-color="#ed6e1a"/><stop offset="0.0968" stop-color="#f4be20"/><stop offset="0.1561" stop-color="#eadc28"/><stop offset="0.2217" stop-color="#bbd42c"/><stop offset="0.4113" stop-color="#91c329"/><stop offset="0.6132" stop-color="#8fc229"/><stop offset="0.6646" stop-color="#7cba28"/><stop offset="0.9175" stop-color="#6eb62c"/><stop offset="0.9423" stop-color="#6cbc5c"/><stop offset="0.9588" stop-color="#69c6c9"/><stop offset="0.9691" stop-color="#2cafed"/><stop offset="0.9796" stop-color="#245bae"/><stop offset="1" stop-color="#1f4ca4"/></linearGradient><linearGradient id="e112" x1="0" y1="0" x2="0" y2="1"><stop offset="0" stop-color="#ed6d1a"/><stop offset="0.0968" stop-color="#f4c020"/><stop offset="0.1478" stop-color="#ecdb28"/><stop offset="0.2217" stop-color="#b7d22c"/><stop offset="0.4113" stop-color="#8cc129"/><stop offset="0.9145" stop-color="#6eb62c"/><stop offset="0.9397" stop-color="#6cbc5c"/><stop offset="0.9566" stop-color="#6ac6c8"/><stop offset="0.9671" stop-color="#33b6ec"/><stop offset="0.9796" stop-color="#2458ac"/><stop offset="1" stop-color="#1f4ca4"/></linearGradient><linearGradient id="e113" x1="0" y1="0" x2="0" y2="1"><stop offset="0" stop-color="#ec6c1a"/><stop offset="0.0968" stop-color="#f4c120"/><stop offset="0.1478" stop-color="#eadc28"/><stop offset="0.2298" stop-color="#b1d02b"/><stop offset="0.4184" stop-color="#85be29"/><stop offset="0.9115" stop-color="#6eb62c"/><stop offset="0.9371" stop-color="#6cbc5b"/><stop offset="0.9543" stop-color="#6ac6c6"/><stop offset="0.9671" stop-color="#2cb3ef"/><stop offset="0.9796" stop-color="#2457ac"/><stop offset="1" stop-color="#1f4ca4"/></linearGradient><linearGradient id="e114" x1="0" y1="0" x2="0" y2="1"><stop offset="0" stop-color="#ec6c1a"/><stop offset="0.0968" stop-color="#f3c221"/><stop offset="0.1478" stop-color="#e8db28"/><stop offset="0.2217" stop-color="#b0cf2b"/><stop offset="0.4184" stop-color="#80bc28"/><stop offset="0.9084" stop-color="#6eb62c"/><stop offset="0.9345" stop-color="#6cbc5a"/><stop offset="0.952" stop-color="#6ac6c5"/><stop offset="0.9651" stop-color="#31b5ed"/><stop offset="0.9796" stop-color="#2357ab"/><stop offset="1" stop-color="#1f4ca4"/></linearGradient><linearGradient id="e115" x1="0" y1="0" x2="0" y2="1"><stop offset="0" stop-color="#ec6b1a"/><stop offset="0.0968" stop-color="#f3c421"/><stop offset="0.1394" stop-color="#ecdc28"/><stop offset="0.2217" stop-color="#acce2b"/><stop offset="0.4113" stop-color="#7cba28"/><stop offset="0.9053" stop-color="#6eb62c"/><stop offset="0.9318" stop-color="#6cbc57"/><stop offset="0.9497" stop-color="#6ac5c2"/><stop offset="0.9651" stop-color="#2cb2ef"/><stop offset="0.978" stop-color="#245aad"/><stop offset="1" stop-color="#1f4ca4"/></linearGradient><linearGradient id="e116" x1="0" y1="0" x2="0" y2="1"><stop offset="0" stop-color="#ec6a1a"/><stop offset="0.0882" stop-color="#f4bf20"/><stop offset="0.1394" stop-color="#e9dc28"/><stop offset="0.2217" stop-color="#a9cc2b"/><stop offset="0.3898" stop-color="#7dba28"/><stop offset="0.9021" stop-color="#6eb62c"/><stop offset="0.9318" stop-color="#6cbd5f"/><stop offset="0.9497" stop-color="#68c5c9"/><stop offset="0.9631" stop-color="#2db4ef"/><stop offset="0.978" stop-color="#2458ac"/><stop offset="1" stop-color="#1f4ca4"/></linearGradient><linearGradient id="e117" x1="0" y1="0" x2="0" y2="1"><stop offset="0" stop-color="#ec6a1a"/><stop offset="0.0882" stop-color="#f4c120"/><stop offset="0.1309" stop-color="#ecdb28"/><stop offset="0.2217" stop-color="#a5cb2b"/><stop offset="0.368" stop-color="#7dbb28"/><stop offset="0.9021" stop-color="#6eb62c"/><stop offset="0.929" stop-color="#6cbc5d"/><stop offset="0.9473" stop-color="#6ac6c6"/><stop offset="0.9631" stop-color="#2cb0ed"/><stop offset="0.978" stop-color="#2458ac"/><stop offset="1" stop-color="#1f4ca4"/></linearGradient><linearGradient id="e118" x1="0" y1="0" x2="0" y2="1"><stop offset="0" stop-color="#ec691a"/><stop offset="0.0882" stop-color="#f3c221"/><stop offset="0.1309" stop-color="#ebdc28"/><stop offset="0.2217" stop-color="#a1c92a"/><stop offset="0.3532" stop-color="#7dba28"/><stop offset="0.8923" stop-color="#6eb62c"/><stop offset="0.9053" stop-color="#6eb733"/><stop offset="0.9262" stop-color="#6cbc5a"/><stop offset="0.9473" stop-color="#66c5cb"/><stop offset="0.961" stop-color="#2cb3f0"/><stop offset="0.978" stop-color="#2457ab"/><stop offset="1" stop-color="#1f4ca4"/></linearGradient><linearGradient id="e119" x1="0" y1="0" x2="0" y2="1"><stop offset="0" stop-color="#ec681a"/><stop offset="0.0882" stop-color="#f3c321"/><stop offset="0.1309" stop-color="#e9db28"/><stop offset="0.2217" stop-color="#9ec82a"/><stop offset="0.3383" stop-color="#7cba28"/><stop offset="0.882" stop-color="#6eb62c"/><stop offset="0.9021" stop-color="#6eb731"/><stop offset="0.9234" stop-color="#6cbc58"/><stop offset="0.9448" stop-color="#69c6c9"/><stop offset="0.9588" stop-color="#2fb5ee"/><stop offset="0.9763" stop-color="#245baf"/><stop offset="1" stop-color="#1f4ca4"/></linearGradient><linearGradient id="e120" x1="0" y1="0" x2="0" y2="1"><stop offset="0" stop-color="#ec681a"/><stop offset="0.0795" stop-color="#f4bd20"/><stop offset="0.1309" stop-color="#e6db28"/><stop offset="0.2217" stop-color="#9ac62a"/><stop offset="0.3232" stop-color="#7cba28"/><stop offset="0.8714" stop-color="#6eb62c"/><stop offset="0.9021" stop-color="#6eb734"/><stop offset="0.9205" stop-color="#6cbc56"/><stop offset="0.9318" stop-color="#6bc084"/><stop offset="0.9423" stop-color="#6ac6c3"/><stop offset="0.9588" stop-color="#2cb2ee"/><stop offset="0.9763" stop-color="#2459ad"/><stop offset="1" stop-color="#1f4ca4"/></linearGradient><linearGradient id="e121" x1="0" y1="0" x2="0" y2="1"><stop offset="0" stop-color="#ec671a"/><stop offset="0.0795" stop-color="#f4bf20"/><stop offset="0.1225" stop-color="#ecdc28"/><stop offset="0.2217" stop-color="#96c52a"/><stop offset="0.308" stop-color="#7cba28"/><stop offset="0.8641" stop-color="#6eb62c"/><stop offset="0.9021" stop-color="#6eb737"/><stop offset="0.9175" stop-color="#6cbb54"/><stop offset="0.9318" stop-color="#6bc18d"/><stop offset="0.9423" stop-color="#67c5ca"/><stop offset="0.9566" stop-color="#2eb4ef"/><stop offset="0.9763" stop-color="#2458ac"/><stop offset="1" stop-color="#1f4ca4"/></linearGradient><linearGradient id="e122" x1="0" y1="0" x2="0" y2="1"><stop offset="0" stop-color="#ec671a"/><stop offset="0.0795" stop-color="#f4c020"/><stop offset="0.1225" stop-color="#eadc28"/><stop offset="0.2217" stop-color="#93c329"/><stop offset="0.2927" stop-color="#7cba28"/><stop offset="0.8527" stop-color="#6eb62c"/><stop offset="0.9053" stop-color="#6db93e"/><stop offset="0.9175" stop-color="#6cbc57"/><stop offset="0.9397" stop-color="#6ac6c7"/><stop offset="0.9566" stop-color="#2cb0ed"/><stop offset="0.9763" stop-color="#2457ac"/><stop offset="1" stop-color="#1f4ca4"/></linearGradient><linearGradient id="e123" x1="0" y1="0" x2="0" y2="1"><stop offset="0" stop-color="#ec661a"/><stop offset="0.0795" stop-color="#f4c120"/><stop offset="0.1225" stop-color="#e7db28"/><stop offset="0.2217" stop-color="#8fc229"/><stop offset="0.2772" stop-color="#7dba28"/><stop offset="0.841" stop-color="#6eb62c"/><stop offset="0.9053" stop-color="#6db941"/><stop offset="0.9175" stop-color="#6cbc5d"/><stop offset="0.9397" stop-color="#65c5cb"/><stop offset="0.9543" stop-color="#2cb4f0"/><stop offset="0.9763" stop-color="#2457ab"/><stop offset="1" stop-color="#1f4ca4"/></linearGradient><linearGradient id="e124" x1="0" y1="0" x2="0" y2="1"><stop offset="0" stop-color="#ec661a"/><stop offset="0.0795" stop-color="#f3c221"/><stop offset="0.1139" stop-color="#ecdb28"/><stop offset="0.2217" stop-color="#8bc029"/><stop offset="0.2615" stop-color="#7dbb28"/><stop offset="0.833" stop-color="#6eb62c"/><stop offset="0.9021" stop-color="#6db93f"/><stop offset="0.9145" stop-color="#6cbc57"/><stop offset="0.9371" stop-color="#69c6c9"/><stop offset="0.9543" stop-color="#2caeec"/><stop offset="0.9746" stop-color="#2459ad"/><stop offset="1" stop-color="#1f4ca4"/></linearGradient><linearGradient id="e125" x1="0" y1="0" x2="0" y2="1"><stop offset="0" stop-color="#ec651a"/><stop offset="0.0708" stop-color="#f4ba20"/><stop offset="0.1139" stop-color="#ebdc28"/><stop offset="0.2217" stop-color="#87bf29"/><stop offset="0.2536" stop-color="#7cba28"/><stop offset="0.8206" stop-color="#6eb62c"/><stop offset="0.9021" stop-color="#6db941"/><stop offset="0.9145" stop-color="#6cbd5e"/><stop offset="0.9345" stop-color="#6ac6c3"/><stop offset="0.952" stop-color="#2cb3ef"/><stop offset="0.9746" stop-color="#2458ac"/><stop offset="1" stop-color="#1f4ca4"/></linearGradient><linearGradient id="e126" x1="0" y1="0" x2="0" y2="1"><stop offset="0" stop-color="#ec651a"/><stop offset="0.0708" stop-color="#f4ba20"/><stop offset="0.1139" stop-color="#ebdc28"/><stop offset="0.2217" stop-color="#87be29"/><stop offset="0.2536" stop-color="#7cba28"/><stop offset="0.8206" stop-color="#6eb62c"/><stop offset="0.9021" stop-color="#6db942"/><stop offset="0.9145" stop-color="#6cbd5f"/><stop offset="0.9345" stop-color="#6ac6c4"/><stop offset="0.952" stop-color="#2cb2ef"/><stop offset="0.9746" stop-color="#2458ac"/><stop offset="1" stop-color="#1f4ca4"/></linearGradient></defs><g clip-path="url(#eclip)"><rect x="61.7" y="1385.796" width="506.50000000000006" height="210.70399999999995" fill="#7cba28"/><g filter="url(#hb)"><rect x="61.4" y="1389.8" width="4.6" height="202.7" fill="url(#e0)"/><rect x="65.4" y="1389.8" width="4.6" height="202.7" fill="url(#e1)"/><rect x="69.4" y="1389.8" width="4.6" height="202.7" fill="url(#e2)"/><rect x="73.4" y="1389.8" width="4.6" height="202.7" fill="url(#e3)"/><rect x="77.4" y="1389.8" width="4.6" height="202.7" fill="url(#e4)"/><rect x="81.4" y="1389.8" width="4.6" height="202.7" fill="url(#e5)"/><rect x="85.4" y="1389.8" width="4.6" height="202.7" fill="url(#e6)"/><rect x="89.4" y="1389.8" width="4.6" height="202.7" fill="url(#e7)"/><rect x="93.4" y="1389.8" width="4.6" height="202.7" fill="url(#e8)"/><rect x="97.4" y="1389.8" width="4.6" height="202.7" fill="url(#e9)"/><rect x="101.4" y="1389.8" width="4.6" height="202.7" fill="url(#e10)"/><rect x="105.4" y="1389.8" width="4.6" height="202.7" fill="url(#e11)"/><rect x="109.4" y="1389.8" width="4.6" height="202.7" fill="url(#e12)"/><rect x="113.4" y="1389.8" width="4.6" height="202.7" fill="url(#e13)"/><rect x="117.4" y="1389.8" width="4.6" height="202.7" fill="url(#e14)"/><rect x="121.4" y="1389.8" width="4.6" height="202.7" fill="url(#e15)"/><rect x="125.4" y="1389.8" width="4.6" height="202.7" fill="url(#e16)"/><rect x="129.4" y="1389.8" width="4.6" height="202.7" fill="url(#e17)"/><rect x="133.4" y="1389.8" width="4.6" height="202.7" fill="url(#e18)"/><rect x="137.4" y="1389.8" width="4.6" height="202.7" fill="url(#e19)"/><rect x="141.4" y="1389.8" width="4.6" height="202.7" fill="url(#e20)"/><rect x="145.4" y="1389.8" width="4.6" height="202.7" fill="url(#e21)"/><rect x="149.4" y="1389.8" width="4.6" height="202.7" fill="url(#e22)"/><rect x="153.4" y="1389.8" width="4.6" height="202.7" fill="url(#e23)"/><rect x="157.4" y="1389.8" width="4.6" height="202.7" fill="url(#e24)"/><rect x="161.4" y="1389.8" width="4.6" height="202.7" fill="url(#e25)"/><rect x="165.4" y="1389.8" width="4.6" height="202.7" fill="url(#e26)"/><rect x="169.4" y="1389.8" width="4.6" height="202.7" fill="url(#e27)"/><rect x="173.4" y="1389.8" width="4.6" height="202.7" fill="url(#e28)"/><rect x="177.4" y="1389.8" width="4.6" height="202.7" fill="url(#e29)"/><rect x="181.4" y="1389.8" width="4.6" height="202.7" fill="url(#e30)"/><rect x="185.4" y="1389.8" width="4.6" height="202.7" fill="url(#e31)"/><rect x="189.4" y="1389.8" width="4.6" height="202.7" fill="url(#e32)"/><rect x="193.4" y="1389.8" width="4.6" height="202.7" fill="url(#e33)"/><rect x="197.4" y="1389.8" width="4.6" height="202.7" fill="url(#e34)"/><rect x="201.4" y="1389.8" width="4.6" height="202.7" fill="url(#e35)"/><rect x="205.4" y="1389.8" width="4.6" height="202.7" fill="url(#e36)"/><rect x="209.4" y="1389.8" width="4.6" height="202.7" fill="url(#e37)"/><rect x="213.4" y="1389.8" width="4.6" height="202.7" fill="url(#e38)"/><rect x="217.4" y="1389.8" width="4.6" height="202.7" fill="url(#e39)"/><rect x="221.4" y="1389.8" width="4.6" height="202.7" fill="url(#e40)"/><rect x="225.4" y="1389.8" width="4.6" height="202.7" fill="url(#e41)"/><rect x="229.4" y="1389.8" width="4.6" height="202.7" fill="url(#e42)"/><rect x="233.4" y="1389.8" width="4.6" height="202.7" fill="url(#e43)"/><rect x="237.4" y="1389.8" width="4.6" height="202.7" fill="url(#e44)"/><rect x="241.4" y="1389.8" width="4.6" height="202.7" fill="url(#e45)"/><rect x="245.4" y="1389.8" width="4.6" height="202.7" fill="url(#e46)"/><rect x="249.4" y="1389.8" width="4.6" height="202.7" fill="url(#e47)"/><rect x="253.4" y="1389.8" width="4.6" height="202.7" fill="url(#e48)"/><rect x="257.4" y="1389.8" width="4.6" height="202.7" fill="url(#e49)"/><rect x="261.4" y="1389.8" width="4.6" height="202.7" fill="url(#e50)"/><rect x="265.4" y="1389.8" width="4.6" height="202.7" fill="url(#e51)"/><rect x="269.4" y="1389.8" width="4.6" height="202.7" fill="url(#e52)"/><rect x="273.4" y="1389.8" width="4.6" height="202.7" fill="url(#e53)"/><rect x="277.4" y="1389.8" width="4.6" height="202.7" fill="url(#e54)"/><rect x="281.4" y="1389.8" width="4.6" height="202.7" fill="url(#e55)"/><rect x="285.4" y="1389.8" width="4.6" height="202.7" fill="url(#e56)"/><rect x="289.4" y="1389.8" width="4.6" height="202.7" fill="url(#e57)"/><rect x="293.4" y="1389.8" width="4.6" height="202.7" fill="url(#e58)"/><rect x="297.4" y="1389.8" width="4.6" height="202.7" fill="url(#e59)"/><rect x="301.4" y="1389.8" width="4.6" height="202.7" fill="url(#e60)"/><rect x="305.4" y="1389.8" width="4.6" height="202.7" fill="url(#e61)"/><rect x="309.4" y="1389.8" width="4.6" height="202.7" fill="url(#e62)"/><rect x="313.4" y="1389.8" width="4.6" height="202.7" fill="url(#e63)"/><rect x="317.4" y="1389.8" width="4.6" height="202.7" fill="url(#e64)"/><rect x="321.4" y="1389.8" width="4.6" height="202.7" fill="url(#e65)"/><rect x="325.4" y="1389.8" width="4.6" height="202.7" fill="url(#e66)"/><rect x="329.4" y="1389.8" width="4.6" height="202.7" fill="url(#e67)"/><rect x="333.4" y="1389.8" width="4.6" height="202.7" fill="url(#e68)"/><rect x="337.4" y="1389.8" width="4.6" height="202.7" fill="url(#e69)"/><rect x="341.4" y="1389.8" width="4.6" height="202.7" fill="url(#e70)"/><rect x="345.4" y="1389.8" width="4.6" height="202.7" fill="url(#e71)"/><rect x="349.4" y="1389.8" width="4.6" height="202.7" fill="url(#e72)"/><rect x="353.4" y="1389.8" width="4.6" height="202.7" fill="url(#e73)"/><rect x="357.4" y="1389.8" width="4.6" height="202.7" fill="url(#e74)"/><rect x="361.4" y="1389.8" width="4.6" height="202.7" fill="url(#e75)"/><rect x="365.4" y="1389.8" width="4.6" height="202.7" fill="url(#e76)"/><rect x="369.4" y="1389.8" width="4.6" height="202.7" fill="url(#e77)"/><rect x="373.4" y="1389.8" width="4.6" height="202.7" fill="url(#e78)"/><rect x="377.4" y="1389.8" width="4.6" height="202.7" fill="url(#e79)"/><rect x="381.4" y="1389.8" width="4.6" height="202.7" fill="url(#e80)"/><rect x="385.4" y="1389.8" width="4.6" height="202.7" fill="url(#e81)"/><rect x="389.4" y="1389.8" width="4.6" height="202.7" fill="url(#e82)"/><rect x="393.4" y="1389.8" width="4.6" height="202.7" fill="url(#e83)"/><rect x="397.4" y="1389.8" width="4.6" height="202.7" fill="url(#e84)"/><rect x="401.4" y="1389.8" width="4.6" height="202.7" fill="url(#e85)"/><rect x="405.4" y="1389.8" width="4.6" height="202.7" fill="url(#e86)"/><rect x="409.4" y="1389.8" width="4.6" height="202.7" fill="url(#e87)"/><rect x="413.4" y="1389.8" width="4.6" height="202.7" fill="url(#e88)"/><rect x="417.4" y="1389.8" width="4.6" height="202.7" fill="url(#e89)"/><rect x="421.4" y="1389.8" width="4.6" height="202.7" fill="url(#e90)"/><rect x="425.4" y="1389.8" width="4.6" height="202.7" fill="url(#e91)"/><rect x="429.4" y="1389.8" width="4.6" height="202.7" fill="url(#e92)"/><rect x="433.4" y="1389.8" width="4.6" height="202.7" fill="url(#e93)"/><rect x="437.4" y="1389.8" width="4.6" height="202.7" fill="url(#e94)"/><rect x="441.4" y="1389.8" width="4.6" height="202.7" fill="url(#e95)"/><rect x="445.4" y="1389.8" width="4.6" height="202.7" fill="url(#e96)"/><rect x="449.4" y="1389.8" width="4.6" height="202.7" fill="url(#e97)"/><rect x="453.4" y="1389.8" width="4.6" height="202.7" fill="url(#e98)"/><rect x="457.4" y="1389.8" width="4.6" height="202.7" fill="url(#e99)"/><rect x="461.4" y="1389.8" width="4.6" height="202.7" fill="url(#e100)"/><rect x="465.4" y="1389.8" width="4.6" height="202.7" fill="url(#e101)"/><rect x="469.4" y="1389.8" width="4.6" height="202.7" fill="url(#e102)"/><rect x="473.4" y="1389.8" width="4.6" height="202.7" fill="url(#e103)"/><rect x="477.4" y="1389.8" width="4.6" height="202.7" fill="url(#e104)"/><rect x="481.4" y="1389.8" width="4.6" height="202.7" fill="url(#e105)"/><rect x="485.4" y="1389.8" width="4.6" height="202.7" fill="url(#e106)"/><rect x="489.4" y="1389.8" width="4.6" height="202.7" fill="url(#e107)"/><rect x="493.4" y="1389.8" width="4.6" height="202.7" fill="url(#e108)"/><rect x="497.4" y="1389.8" width="4.6" height="202.7" fill="url(#e109)"/><rect x="501.4" y="1389.8" width="4.6" height="202.7" fill="url(#e110)"/><rect x="505.4" y="1389.8" width="4.6" height="202.7" fill="url(#e111)"/><rect x="509.4" y="1389.8" width="4.6" height="202.7" fill="url(#e112)"/><rect x="513.4" y="1389.8" width="4.6" height="202.7" fill="url(#e113)"/><rect x="517.4" y="1389.8" width="4.6" height="202.7" fill="url(#e114)"/><rect x="521.4" y="1389.8" width="4.6" height="202.7" fill="url(#e115)"/><rect x="525.4" y="1389.8" width="4.6" height="202.7" fill="url(#e116)"/><rect x="529.4" y="1389.8" width="4.6" height="202.7" fill="url(#e117)"/><rect x="533.4" y="1389.8" width="4.6" height="202.7" fill="url(#e118)"/><rect x="537.4" y="1389.8" width="4.6" height="202.7" fill="url(#e119)"/><rect x="541.4" y="1389.8" width="4.6" height="202.7" fill="url(#e120)"/><rect x="545.4" y="1389.8" width="4.6" height="202.7" fill="url(#e121)"/><rect x="549.4" y="1389.8" width="4.6" height="202.7" fill="url(#e122)"/><rect x="553.4" y="1389.8" width="4.6" height="202.7" fill="url(#e123)"/><rect x="557.4" y="1389.8" width="4.6" height="202.7" fill="url(#e124)"/><rect x="561.4" y="1389.8" width="4.6" height="202.7" fill="url(#e125)"/><rect x="565.4" y="1389.8" width="4.6" height="202.7" fill="url(#e126)"/></g></g><path d="M65.7 1392L328.6 1392L340.9 1393.7L353 1397.1L366.9 1405.5L383 1419.7L399 1432.5L404.7 1437.4L420.3 1448.8L431.7 1459.1L448.8 1472.5L463.1 1482.9L477.3 1493.7L493 1503.5L500.5 1509.8L512.9 1518.7L525 1526.2L539.3 1537.6L551.4 1550.2L564.2 1562.2" fill="none" stroke="#0a0a0a" stroke-width="2.4" stroke-linejoin="round"/><line x1="62.7" y1="1356.3" x2="564.2" y2="1356.3" stroke="#4a4444" stroke-width="1"/><line x1="65.7" y1="1356.3" x2="65.7" y2="1595.5" stroke="#4a4444" stroke-width="1"/><line x1="564.2" y1="1356.3" x2="564.2" y2="1562.2" stroke="#4a4444" stroke-width="1"/><line x1="61.7" y1="1592.5" x2="65.7" y2="1592.5" stroke="#444" stroke-width="0.8"/><line x1="63.5" y1="1584.6" x2="65.7" y2="1584.6" stroke="#444" stroke-width="0.8"/><line x1="63.5" y1="1576.8" x2="65.7" y2="1576.8" stroke="#444" stroke-width="0.8"/><line x1="63.5" y1="1568.9" x2="65.7" y2="1568.9" stroke="#444" stroke-width="0.8"/><line x1="63.5" y1="1561" x2="65.7" y2="1561" stroke="#444" stroke-width="0.8"/><line x1="61.7" y1="1553.1" x2="65.7" y2="1553.1" stroke="#444" stroke-width="0.8"/><line x1="63.5" y1="1545.3" x2="65.7" y2="1545.3" stroke="#444" stroke-width="0.8"/><line x1="63.5" y1="1537.4" x2="65.7" y2="1537.4" stroke="#444" stroke-width="0.8"/><line x1="63.5" y1="1529.5" x2="65.7" y2="1529.5" stroke="#444" stroke-width="0.8"/><line x1="63.5" y1="1521.7" x2="65.7" y2="1521.7" stroke="#444" stroke-width="0.8"/><line x1="61.7" y1="1513.8" x2="65.7" y2="1513.8" stroke="#444" stroke-width="0.8"/><line x1="63.5" y1="1505.9" x2="65.7" y2="1505.9" stroke="#444" stroke-width="0.8"/><line x1="63.5" y1="1498" x2="65.7" y2="1498" stroke="#444" stroke-width="0.8"/><line x1="63.5" y1="1490.2" x2="65.7" y2="1490.2" stroke="#444" stroke-width="0.8"/><line x1="63.5" y1="1482.3" x2="65.7" y2="1482.3" stroke="#444" stroke-width="0.8"/><line x1="61.7" y1="1474.4" x2="65.7" y2="1474.4" stroke="#444" stroke-width="0.8"/><line x1="63.5" y1="1466.5" x2="65.7" y2="1466.5" stroke="#444" stroke-width="0.8"/><line x1="63.5" y1="1458.7" x2="65.7" y2="1458.7" stroke="#444" stroke-width="0.8"/><line x1="63.5" y1="1450.8" x2="65.7" y2="1450.8" stroke="#444" stroke-width="0.8"/><line x1="63.5" y1="1442.9" x2="65.7" y2="1442.9" stroke="#444" stroke-width="0.8"/><line x1="61.7" y1="1435.1" x2="65.7" y2="1435.1" stroke="#444" stroke-width="0.8"/><line x1="63.5" y1="1427.2" x2="65.7" y2="1427.2" stroke="#444" stroke-width="0.8"/><line x1="63.5" y1="1419.3" x2="65.7" y2="1419.3" stroke="#444" stroke-width="0.8"/><line x1="63.5" y1="1411.4" x2="65.7" y2="1411.4" stroke="#444" stroke-width="0.8"/><line x1="63.5" y1="1403.6" x2="65.7" y2="1403.6" stroke="#444" stroke-width="0.8"/><line x1="61.7" y1="1395.7" x2="65.7" y2="1395.7" stroke="#444" stroke-width="0.8"/><line x1="63.5" y1="1387.8" x2="65.7" y2="1387.8" stroke="#444" stroke-width="0.8"/><line x1="63.5" y1="1380" x2="65.7" y2="1380" stroke="#444" stroke-width="0.8"/><line x1="63.5" y1="1372.1" x2="65.7" y2="1372.1" stroke="#444" stroke-width="0.8"/><line x1="63.5" y1="1364.2" x2="65.7" y2="1364.2" stroke="#444" stroke-width="0.8"/><line x1="61.7" y1="1356.3" x2="65.7" y2="1356.3" stroke="#444" stroke-width="0.8"/><line x1="65.7" y1="1592.5" x2="65.7" y2="1596.5" stroke="#444" stroke-width="0.8"/><line x1="79.9" y1="1592.5" x2="79.9" y2="1594.7" stroke="#444" stroke-width="0.8"/><line x1="94.2" y1="1592.5" x2="94.2" y2="1594.7" stroke="#444" stroke-width="0.8"/><line x1="108.4" y1="1592.5" x2="108.4" y2="1594.7" stroke="#444" stroke-width="0.8"/><line x1="122.7" y1="1592.5" x2="122.7" y2="1594.7" stroke="#444" stroke-width="0.8"/><line x1="136.9" y1="1592.5" x2="136.9" y2="1596.5" stroke="#444" stroke-width="0.8"/><line x1="151.2" y1="1592.5" x2="151.2" y2="1594.7" stroke="#444" stroke-width="0.8"/><line x1="165.4" y1="1592.5" x2="165.4" y2="1594.7" stroke="#444" stroke-width="0.8"/><line x1="179.6" y1="1592.5" x2="179.6" y2="1594.7" stroke="#444" stroke-width="0.8"/><line x1="193.9" y1="1592.5" x2="193.9" y2="1594.7" stroke="#444" stroke-width="0.8"/><line x1="208.1" y1="1592.5" x2="208.1" y2="1596.5" stroke="#444" stroke-width="0.8"/><line x1="222.4" y1="1592.5" x2="222.4" y2="1594.7" stroke="#444" stroke-width="0.8"/><line x1="236.6" y1="1592.5" x2="236.6" y2="1594.7" stroke="#444" stroke-width="0.8"/><line x1="250.9" y1="1592.5" x2="250.9" y2="1594.7" stroke="#444" stroke-width="0.8"/><line x1="265.1" y1="1592.5" x2="265.1" y2="1594.7" stroke="#444" stroke-width="0.8"/><line x1="279.3" y1="1592.5" x2="279.3" y2="1596.5" stroke="#444" stroke-width="0.8"/><line x1="293.6" y1="1592.5" x2="293.6" y2="1594.7" stroke="#444" stroke-width="0.8"/><line x1="307.8" y1="1592.5" x2="307.8" y2="1594.7" stroke="#444" stroke-width="0.8"/><line x1="322.1" y1="1592.5" x2="322.1" y2="1594.7" stroke="#444" stroke-width="0.8"/><line x1="336.3" y1="1592.5" x2="336.3" y2="1594.7" stroke="#444" stroke-width="0.8"/><line x1="350.6" y1="1592.5" x2="350.6" y2="1596.5" stroke="#444" stroke-width="0.8"/><line x1="364.8" y1="1592.5" x2="364.8" y2="1594.7" stroke="#444" stroke-width="0.8"/><line x1="379" y1="1592.5" x2="379" y2="1594.7" stroke="#444" stroke-width="0.8"/><line x1="393.3" y1="1592.5" x2="393.3" y2="1594.7" stroke="#444" stroke-width="0.8"/><line x1="407.5" y1="1592.5" x2="407.5" y2="1594.7" stroke="#444" stroke-width="0.8"/><line x1="421.8" y1="1592.5" x2="421.8" y2="1596.5" stroke="#444" stroke-width="0.8"/><line x1="436" y1="1592.5" x2="436" y2="1594.7" stroke="#444" stroke-width="0.8"/><line x1="450.3" y1="1592.5" x2="450.3" y2="1594.7" stroke="#444" stroke-width="0.8"/><line x1="464.5" y1="1592.5" x2="464.5" y2="1594.7" stroke="#444" stroke-width="0.8"/><line x1="478.7" y1="1592.5" x2="478.7" y2="1594.7" stroke="#444" stroke-width="0.8"/><line x1="493" y1="1592.5" x2="493" y2="1596.5" stroke="#444" stroke-width="0.8"/><line x1="507.2" y1="1592.5" x2="507.2" y2="1594.7" stroke="#444" stroke-width="0.8"/><line x1="521.5" y1="1592.5" x2="521.5" y2="1594.7" stroke="#444" stroke-width="0.8"/><line x1="535.7" y1="1592.5" x2="535.7" y2="1594.7" stroke="#444" stroke-width="0.8"/><line x1="550" y1="1592.5" x2="550" y2="1594.7" stroke="#444" stroke-width="0.8"/><line x1="564.2" y1="1592.5" x2="564.2" y2="1596.5" stroke="#444" stroke-width="0.8"/><text x="59.5" y="1595.2" font-size="7.5" text-anchor="end" fill="#333">0.0</text><text x="59.5" y="1555.8" font-size="7.5" text-anchor="end" fill="#333">0.2</text><text x="59.5" y="1516.5" font-size="7.5" text-anchor="end" fill="#333">0.4</text><text x="59.5" y="1477.1" font-size="7.5" text-anchor="end" fill="#333">0.6</text><text x="59.5" y="1437.8" font-size="7.5" text-anchor="end" fill="#333">0.8</text><text x="59.5" y="1398.4" font-size="7.5" text-anchor="end" fill="#333">1.0</text><text x="59.5" y="1359" font-size="7.5" text-anchor="end" fill="#333">1.2</text><text x="67.2" y="1603.6" font-size="7" text-anchor="middle" fill="#333" clip-path="url(#xl1)">0</text><text x="136.9" y="1603.6" font-size="7" text-anchor="middle" fill="#333" clip-path="url(#xl1)">500</text><text x="208.1" y="1603.6" font-size="7" text-anchor="middle" fill="#333" clip-path="url(#xl1)">1000</text><text x="279.3" y="1603.6" font-size="7" text-anchor="middle" fill="#333" clip-path="url(#xl1)">1500</text><text x="350.6" y="1603.6" font-size="7" text-anchor="middle" fill="#333" clip-path="url(#xl1)">2000</text><text x="421.8" y="1603.6" font-size="7" text-anchor="middle" fill="#333" clip-path="url(#xl1)">2500</text><text x="493" y="1603.6" font-size="7" text-anchor="middle" fill="#333" clip-path="url(#xl1)">3000</text><text x="564.2" y="1603.6" font-size="7" text-anchor="middle" fill="#333" clip-path="url(#xl1)">3500</text><clipPath id="xl1"><rect x="40" y="1590" width="560" height="12.3"/></clipPath><text x="305" y="1340.3" font-size="8" text-anchor="middle" font-weight="bold" fill="#111">Efficiency</text><text x="314.5" y="1614.6" font-size="7" text-anchor="middle" fill="#222">Speed [rpm]</text><text transform="translate(47.2 1474) rotate(-90)" font-size="6.8" text-anchor="middle" fill="#222">Shaft Torque [NewtonMeter]</text><path d="M348.4 1490.9H352.8L350.6 1494.3Z" fill="none" stroke="#333" stroke-width="0.7"/><text x="351.1" y="1489.6" font-size="6" text-anchor="middle" fill="#222">m2</text><path d="M419.6 1520.4H424L421.8 1523.8Z" fill="none" stroke="#333" stroke-width="0.7"/><text x="422.3" y="1519.1" font-size="6" text-anchor="middle" fill="#222">m1</text><rect x="82.3" y="1355.2" width="138.3" height="29.7" fill="#b8b8b8"/><rect x="80.5" y="1353.3" width="138.3" height="29.7" fill="#fff" stroke="#4a4444" stroke-width="0.9"/><line x1="107.5" y1="1353.3" x2="107.5" y2="1383" stroke="#8a8a8a" stroke-width="0.7"/><line x1="139.5" y1="1353.3" x2="139.5" y2="1383" stroke="#8a8a8a" stroke-width="0.7"/><line x1="197.5" y1="1353.3" x2="197.5" y2="1383" stroke="#8a8a8a" stroke-width="0.7"/><line x1="80.5" y1="1364.2" x2="218.8" y2="1364.2" stroke="#8a8a8a" stroke-width="0.7"/><line x1="80.5" y1="1373.7" x2="218.8" y2="1373.7" stroke="#8a8a8a" stroke-width="0.7"/><clipPath id="tclip1"><rect x="80.5" y="1353.3" width="138.3" height="29.3"/></clipPath><g clip-path="url(#tclip1)"><text x="94" y="1361.9" font-size="6.6" text-anchor="middle" fill="#333">Name</text><text x="123.5" y="1361.9" font-size="6.6" text-anchor="middle" fill="#333">X [rpm]</text><text x="168.5" y="1361.9" font-size="6.6" text-anchor="middle" fill="#333">Y [NewtonMeter]</text><text x="208.2" y="1361.9" font-size="6.6" text-anchor="middle" fill="#333">Z</text><text x="94" y="1371.6" font-size="6.6" text-anchor="middle" fill="#333">m1</text><text x="123.5" y="1371.6" font-size="6.6" text-anchor="middle" fill="#333">2500.0000</text><text x="168.5" y="1371.6" font-size="6.6" text-anchor="middle" fill="#333">0.3500</text><text x="208.2" y="1371.6" font-size="6.6" text-anchor="middle" fill="#333">0.8538</text><text x="94" y="1381.8" font-size="6.6" text-anchor="middle" fill="#333">m2</text><text x="123.5" y="1381.8" font-size="6.6" text-anchor="middle" fill="#333">2000.0000</text><text x="168.5" y="1381.8" font-size="6.6" text-anchor="middle" fill="#333">0.5000</text><text x="208.2" y="1381.8" font-size="6.6" text-anchor="middle" fill="#333">0.8406</text></g><text x="430.8" y="1343.3" font-size="7.4" fill="#333" textLength="70" lengthAdjust="spacingAndGlyphs">NEW07_PM_MotorMode_</text><rect x="500.5" y="1330" width="76" height="178.5" fill="#fff"/><rect x="504.4" y="1332.7" width="69.2" height="173.6" fill="#fff" stroke="#4a4444" stroke-width="0.9"/><line x1="504.4" y1="1362.6" x2="573.6" y2="1362.6" stroke="#4a4444" stroke-width="0.8"/><line x1="504.4" y1="1494.7" x2="573.6" y2="1494.7" stroke="#4a4444" stroke-width="0.8"/><text x="508" y="1345" font-size="9.4" font-weight="bold" fill="#111" textLength="53" lengthAdjust="spacingAndGlyphs">Efficiency map</text><text x="508" y="1358.7" font-size="8.2" fill="#333" textLength="61" lengthAdjust="spacingAndGlyphs">Max: 9.13489E-01</text><text x="508" y="1503.5" font-size="8.2" fill="#333" textLength="61" lengthAdjust="spacingAndGlyphs">Min: 0.00000E+00</text><rect x="508.3" y="1369.4" width="11.1" height="11.1" fill="#e4181c"/><rect x="508.3" y="1380.2" width="11.1" height="11.1" fill="#ec6c18"/><rect x="508.3" y="1391" width="11.1" height="11.1" fill="#f4c020"/><rect x="508.3" y="1401.8" width="11.1" height="11.1" fill="#c8d82c"/><rect x="508.3" y="1412.6" width="11.1" height="11.1" fill="#78b828"/><rect x="508.3" y="1423.4" width="11.1" height="11.1" fill="#70b430"/><rect x="508.3" y="1434.2" width="11.1" height="11.1" fill="#6cb850"/><rect x="508.3" y="1445" width="11.1" height="11.1" fill="#6cc0a0"/><rect x="508.3" y="1455.8" width="11.1" height="11.1" fill="#30b4e8"/><rect x="508.3" y="1466.6" width="11.1" height="11.1" fill="#2868b4"/><rect x="508.3" y="1477.4" width="11.1" height="11.1" fill="#1f4ca4"/><text x="522" y="1372.4" font-size="8.6" fill="#333" textLength="45.5" lengthAdjust="spacingAndGlyphs">1.00000E+00</text><text x="522" y="1383.2" font-size="8.6" fill="#333" textLength="45.5" lengthAdjust="spacingAndGlyphs">9.09091E-01</text><text x="522" y="1394" font-size="8.6" fill="#333" textLength="45.5" lengthAdjust="spacingAndGlyphs">8.18182E-01</text><text x="522" y="1404.8" font-size="8.6" fill="#333" textLength="45.5" lengthAdjust="spacingAndGlyphs">7.27273E-01</text><text x="522" y="1415.6" font-size="8.6" fill="#333" textLength="45.5" lengthAdjust="spacingAndGlyphs">6.36364E-01</text><text x="522" y="1426.4" font-size="8.6" fill="#333" textLength="45.5" lengthAdjust="spacingAndGlyphs">5.45455E-01</text><text x="522" y="1437.2" font-size="8.6" fill="#333" textLength="45.5" lengthAdjust="spacingAndGlyphs">4.54545E-01</text><text x="522" y="1448" font-size="8.6" fill="#333" textLength="45.5" lengthAdjust="spacingAndGlyphs">3.63636E-01</text><text x="522" y="1458.8" font-size="8.6" fill="#333" textLength="45.5" lengthAdjust="spacingAndGlyphs">2.72727E-01</text><text x="522" y="1469.6" font-size="8.6" fill="#333" textLength="45.5" lengthAdjust="spacingAndGlyphs">1.81818E-01</text><text x="522" y="1480.4" font-size="8.6" fill="#333" textLength="45.5" lengthAdjust="spacingAndGlyphs">9.09091E-02</text><text x="522" y="1491.2" font-size="8.6" fill="#333" textLength="45.5" lengthAdjust="spacingAndGlyphs">0.00000E+00</text><text x="320.5" y="1660.5" font-size="20" text-anchor="middle" fill="#555" xml:space="preserve" textLength="144" lengthAdjust="spacingAndGlyphs">Efficiency  MAP</text><rect x="616.5" y="1298.5" width="576.0" height="378.0" fill="#fff" stroke="#8a8a8a" stroke-width="1.2"/><g shape-rendering="crispEdges"><line x1="673.4" y1="1357.3" x2="673.4" y2="1600.1" stroke="#ececec" stroke-width="1"/><line x1="688" y1="1357.3" x2="688" y2="1600.1" stroke="#ececec" stroke-width="1"/><line x1="702.6" y1="1357.3" x2="702.6" y2="1600.1" stroke="#ececec" stroke-width="1"/><line x1="717.2" y1="1357.3" x2="717.2" y2="1600.1" stroke="#ececec" stroke-width="1"/><line x1="731.8" y1="1357.3" x2="731.8" y2="1600.1" stroke="#ececec" stroke-width="1"/><line x1="746.4" y1="1357.3" x2="746.4" y2="1600.1" stroke="#ececec" stroke-width="1"/><line x1="761.1" y1="1357.3" x2="761.1" y2="1600.1" stroke="#ececec" stroke-width="1"/><line x1="775.7" y1="1357.3" x2="775.7" y2="1600.1" stroke="#ececec" stroke-width="1"/><line x1="790.3" y1="1357.3" x2="790.3" y2="1600.1" stroke="#ececec" stroke-width="1"/><line x1="804.9" y1="1357.3" x2="804.9" y2="1600.1" stroke="#ececec" stroke-width="1"/><line x1="819.5" y1="1357.3" x2="819.5" y2="1600.1" stroke="#ececec" stroke-width="1"/><line x1="834.1" y1="1357.3" x2="834.1" y2="1600.1" stroke="#ececec" stroke-width="1"/><line x1="848.8" y1="1357.3" x2="848.8" y2="1600.1" stroke="#ececec" stroke-width="1"/><line x1="863.4" y1="1357.3" x2="863.4" y2="1600.1" stroke="#ececec" stroke-width="1"/><line x1="878" y1="1357.3" x2="878" y2="1600.1" stroke="#ececec" stroke-width="1"/><line x1="892.6" y1="1357.3" x2="892.6" y2="1600.1" stroke="#ececec" stroke-width="1"/><line x1="907.2" y1="1357.3" x2="907.2" y2="1600.1" stroke="#ececec" stroke-width="1"/><line x1="921.8" y1="1357.3" x2="921.8" y2="1600.1" stroke="#ececec" stroke-width="1"/><line x1="936.4" y1="1357.3" x2="936.4" y2="1600.1" stroke="#ececec" stroke-width="1"/><line x1="951.1" y1="1357.3" x2="951.1" y2="1600.1" stroke="#ececec" stroke-width="1"/><line x1="965.7" y1="1357.3" x2="965.7" y2="1600.1" stroke="#ececec" stroke-width="1"/><line x1="980.3" y1="1357.3" x2="980.3" y2="1600.1" stroke="#ececec" stroke-width="1"/><line x1="994.9" y1="1357.3" x2="994.9" y2="1600.1" stroke="#ececec" stroke-width="1"/><line x1="1009.5" y1="1357.3" x2="1009.5" y2="1600.1" stroke="#ececec" stroke-width="1"/><line x1="1024.1" y1="1357.3" x2="1024.1" y2="1600.1" stroke="#ececec" stroke-width="1"/><line x1="1038.8" y1="1357.3" x2="1038.8" y2="1600.1" stroke="#ececec" stroke-width="1"/><line x1="1053.4" y1="1357.3" x2="1053.4" y2="1600.1" stroke="#ececec" stroke-width="1"/><line x1="1068" y1="1357.3" x2="1068" y2="1600.1" stroke="#ececec" stroke-width="1"/><line x1="1082.6" y1="1357.3" x2="1082.6" y2="1600.1" stroke="#ececec" stroke-width="1"/><line x1="1097.2" y1="1357.3" x2="1097.2" y2="1600.1" stroke="#ececec" stroke-width="1"/><line x1="1111.8" y1="1357.3" x2="1111.8" y2="1600.1" stroke="#ececec" stroke-width="1"/><line x1="1126.5" y1="1357.3" x2="1126.5" y2="1600.1" stroke="#ececec" stroke-width="1"/><line x1="1141.1" y1="1357.3" x2="1141.1" y2="1600.1" stroke="#ececec" stroke-width="1"/><line x1="1155.7" y1="1357.3" x2="1155.7" y2="1600.1" stroke="#ececec" stroke-width="1"/><line x1="658.8" y1="1592" x2="1170.3" y2="1592" stroke="#ececec" stroke-width="1"/><line x1="658.8" y1="1583.9" x2="1170.3" y2="1583.9" stroke="#ececec" stroke-width="1"/><line x1="658.8" y1="1575.8" x2="1170.3" y2="1575.8" stroke="#ececec" stroke-width="1"/><line x1="658.8" y1="1567.7" x2="1170.3" y2="1567.7" stroke="#ececec" stroke-width="1"/><line x1="658.8" y1="1559.6" x2="1170.3" y2="1559.6" stroke="#ececec" stroke-width="1"/><line x1="658.8" y1="1551.5" x2="1170.3" y2="1551.5" stroke="#ececec" stroke-width="1"/><line x1="658.8" y1="1543.5" x2="1170.3" y2="1543.5" stroke="#ececec" stroke-width="1"/><line x1="658.8" y1="1535.4" x2="1170.3" y2="1535.4" stroke="#ececec" stroke-width="1"/><line x1="658.8" y1="1527.3" x2="1170.3" y2="1527.3" stroke="#ececec" stroke-width="1"/><line x1="658.8" y1="1519.2" x2="1170.3" y2="1519.2" stroke="#ececec" stroke-width="1"/><line x1="658.8" y1="1511.1" x2="1170.3" y2="1511.1" stroke="#ececec" stroke-width="1"/><line x1="658.8" y1="1503" x2="1170.3" y2="1503" stroke="#ececec" stroke-width="1"/><line x1="658.8" y1="1494.9" x2="1170.3" y2="1494.9" stroke="#ececec" stroke-width="1"/><line x1="658.8" y1="1486.8" x2="1170.3" y2="1486.8" stroke="#ececec" stroke-width="1"/><line x1="658.8" y1="1478.7" x2="1170.3" y2="1478.7" stroke="#ececec" stroke-width="1"/><line x1="658.8" y1="1470.6" x2="1170.3" y2="1470.6" stroke="#ececec" stroke-width="1"/><line x1="658.8" y1="1462.5" x2="1170.3" y2="1462.5" stroke="#ececec" stroke-width="1"/><line x1="658.8" y1="1454.4" x2="1170.3" y2="1454.4" stroke="#ececec" stroke-width="1"/><line x1="658.8" y1="1446.4" x2="1170.3" y2="1446.4" stroke="#ececec" stroke-width="1"/><line x1="658.8" y1="1438.3" x2="1170.3" y2="1438.3" stroke="#ececec" stroke-width="1"/><line x1="658.8" y1="1430.2" x2="1170.3" y2="1430.2" stroke="#ececec" stroke-width="1"/><line x1="658.8" y1="1422.1" x2="1170.3" y2="1422.1" stroke="#ececec" stroke-width="1"/><line x1="658.8" y1="1414" x2="1170.3" y2="1414" stroke="#ececec" stroke-width="1"/><line x1="658.8" y1="1405.9" x2="1170.3" y2="1405.9" stroke="#ececec" stroke-width="1"/><line x1="658.8" y1="1397.8" x2="1170.3" y2="1397.8" stroke="#ececec" stroke-width="1"/><line x1="658.8" y1="1389.7" x2="1170.3" y2="1389.7" stroke="#ececec" stroke-width="1"/><line x1="658.8" y1="1381.6" x2="1170.3" y2="1381.6" stroke="#ececec" stroke-width="1"/><line x1="658.8" y1="1373.5" x2="1170.3" y2="1373.5" stroke="#ececec" stroke-width="1"/><line x1="658.8" y1="1365.4" x2="1170.3" y2="1365.4" stroke="#ececec" stroke-width="1"/></g><defs><clipPath id="pclip"><path d="M658.8 1600.1L658.8 1394L928.6 1394L941.1 1395.8L953.5 1399.2L967.9 1407.9L984.4 1422.5L1000.8 1435.6L1006.6 1440.7L1022.7 1452.4L1034.4 1462.9L1051.9 1476.7L1066.5 1487.4L1081.1 1498.5L1097.2 1508.7L1105 1515.1L1117.7 1524.2L1130.1 1531.9L1144.7 1543.7L1157.1 1556.6L1170.3 1568.9L1170.3 1600.1Z"/></clipPath><linearGradient id="pg" x1="0" y1="0" x2="0" y2="1"><stop offset="0" stop-color="#e4181c"/><stop offset="0.025" stop-color="#e5261b"/><stop offset="0.05" stop-color="#e5351b"/><stop offset="0.075" stop-color="#e7451a"/><stop offset="0.1" stop-color="#eb601a"/><stop offset="0.125" stop-color="#f07a1a"/><stop offset="0.15" stop-color="#f39a20"/><stop offset="0.175" stop-color="#f6ba25"/><stop offset="0.2" stop-color="#f7d92c"/><stop offset="0.225" stop-color="#f3ea30"/><stop offset="0.25" stop-color="#e5e52f"/><stop offset="0.275" stop-color="#d6e02e"/><stop offset="0.3" stop-color="#c8db2d"/><stop offset="0.325" stop-color="#b7d42c"/><stop offset="0.35" stop-color="#a4cc2b"/><stop offset="0.375" stop-color="#91c42a"/><stop offset="0.4" stop-color="#7dbc28"/><stop offset="0.425" stop-color="#73b829"/><stop offset="0.45" stop-color="#71b72b"/><stop offset="0.475" stop-color="#6fb72d"/><stop offset="0.5" stop-color="#6db62f"/><stop offset="0.525" stop-color="#6bb73c"/><stop offset="0.55" stop-color="#6ab851"/><stop offset="0.575" stop-color="#69ba65"/><stop offset="0.6" stop-color="#68bc79"/><stop offset="0.625" stop-color="#69bd8e"/><stop offset="0.65" stop-color="#6abfa2"/><stop offset="0.675" stop-color="#6bc1b7"/><stop offset="0.7" stop-color="#6cc4cb"/><stop offset="0.725" stop-color="#5ec0d6"/><stop offset="0.75" stop-color="#4cbcde"/><stop offset="0.775" stop-color="#3ab7e6"/><stop offset="0.8" stop-color="#28b2ee"/><stop offset="0.825" stop-color="#29a1e3"/><stop offset="0.85" stop-color="#298fd6"/><stop offset="0.875" stop-color="#2877c3"/><stop offset="0.9" stop-color="#2663b4"/><stop offset="0.925" stop-color="#2257ac"/><stop offset="0.95" stop-color="#2151a7"/><stop offset="0.975" stop-color="#204ea6"/><stop offset="1" stop-color="#1f4ca4"/></linearGradient></defs><g clip-path="url(#pclip)"><rect x="656.75" y="1357.34" width="515.55" height="244.76" fill="#1f4ca4"/><g fill="url(#pg)"><rect x="658.8" y="-38399.9" width="2.5" height="40000"/><rect x="660.8" y="-19576.1" width="2.5" height="21176.2"/><rect x="662.8" y="-11105.6" width="2.5" height="12705.7"/><rect x="664.8" y="-7475.4" width="2.5" height="9075.5"/><rect x="666.8" y="-5458.6" width="2.5" height="7058.7"/><rect x="668.8" y="-4175.2" width="2.5" height="5775.3"/><rect x="670.8" y="-3286.7" width="2.5" height="4886.8"/><rect x="672.8" y="-2635.1" width="2.5" height="4235.2"/><rect x="674.8" y="-2136.9" width="2.5" height="3737"/><rect x="676.8" y="-1743.5" width="2.5" height="3343.6"/><rect x="678.8" y="-1425.1" width="2.5" height="3025.2"/><rect x="680.8" y="-1162" width="2.5" height="2762.1"/><rect x="682.8" y="-941" width="2.5" height="2541.1"/><rect x="684.8" y="-752.8" width="2.5" height="2352.9"/><rect x="686.8" y="-590.5" width="2.5" height="2190.6"/><rect x="688.8" y="-449.2" width="2.5" height="2049.3"/><rect x="690.8" y="-325" width="2.5" height="1925.1"/><rect x="692.8" y="-215" width="2.5" height="1815.1"/><rect x="694.8" y="-116.9" width="2.5" height="1717"/><rect x="696.8" y="-28.8" width="2.5" height="1628.9"/><rect x="698.8" y="50.6" width="2.5" height="1549.5"/><rect x="700.8" y="122.7" width="2.5" height="1477.4"/><rect x="702.8" y="188.4" width="2.5" height="1411.7"/><rect x="704.8" y="248.4" width="2.5" height="1351.7"/><rect x="706.8" y="303.6" width="2.5" height="1296.5"/><rect x="708.8" y="354.4" width="2.5" height="1245.7"/><rect x="710.8" y="401.4" width="2.5" height="1198.7"/><rect x="712.8" y="445" width="2.5" height="1155.1"/><rect x="714.8" y="485.6" width="2.5" height="1114.5"/><rect x="716.8" y="523.3" width="2.5" height="1076.8"/><rect x="718.8" y="558.6" width="2.5" height="1041.5"/><rect x="720.8" y="591.7" width="2.5" height="1008.4"/><rect x="722.8" y="622.7" width="2.5" height="977.4"/><rect x="724.8" y="651.9" width="2.5" height="948.2"/><rect x="726.8" y="679.4" width="2.5" height="920.7"/><rect x="728.8" y="705.3" width="2.5" height="894.8"/><rect x="730.8" y="729.8" width="2.5" height="870.3"/><rect x="732.8" y="753.1" width="2.5" height="847"/><rect x="734.8" y="775.1" width="2.5" height="825"/><rect x="736.8" y="795.9" width="2.5" height="804.2"/><rect x="738.8" y="815.8" width="2.5" height="784.3"/><rect x="740.8" y="834.7" width="2.5" height="765.4"/><rect x="742.8" y="852.7" width="2.5" height="747.4"/><rect x="744.8" y="869.9" width="2.5" height="730.2"/><rect x="746.8" y="886.3" width="2.5" height="713.8"/><rect x="748.8" y="902" width="2.5" height="698.1"/><rect x="750.8" y="917" width="2.5" height="683.1"/><rect x="752.8" y="931.4" width="2.5" height="668.7"/><rect x="754.8" y="945.2" width="2.5" height="654.9"/><rect x="756.8" y="958.4" width="2.5" height="641.7"/><rect x="758.8" y="971.1" width="2.5" height="629"/><rect x="760.8" y="983.3" width="2.5" height="616.8"/><rect x="762.8" y="995.1" width="2.5" height="605"/><rect x="764.8" y="1006.4" width="2.5" height="593.7"/><rect x="766.8" y="1017.3" width="2.5" height="582.8"/><rect x="768.8" y="1027.8" width="2.5" height="572.3"/><rect x="770.8" y="1037.9" width="2.5" height="562.2"/><rect x="772.8" y="1047.7" width="2.5" height="552.4"/><rect x="774.8" y="1057.1" width="2.5" height="543"/><rect x="776.8" y="1066.2" width="2.5" height="533.9"/><rect x="778.8" y="1075.1" width="2.5" height="525"/><rect x="780.8" y="1083.6" width="2.5" height="516.5"/><rect x="782.8" y="1091.9" width="2.5" height="508.2"/><rect x="784.8" y="1099.9" width="2.5" height="500.2"/><rect x="786.8" y="1107.6" width="2.5" height="492.5"/><rect x="788.8" y="1115.1" width="2.5" height="485"/><rect x="790.8" y="1122.4" width="2.5" height="477.7"/><rect x="792.8" y="1129.5" width="2.5" height="470.6"/><rect x="794.8" y="1136.4" width="2.5" height="463.7"/><rect x="796.8" y="1143.1" width="2.5" height="457"/><rect x="798.8" y="1149.5" width="2.5" height="450.6"/><rect x="800.8" y="1155.8" width="2.5" height="444.3"/><rect x="802.8" y="1162" width="2.5" height="438.1"/><rect x="804.8" y="1167.9" width="2.5" height="432.2"/><rect x="806.8" y="1173.7" width="2.5" height="426.4"/><rect x="808.8" y="1179.4" width="2.5" height="420.7"/><rect x="810.8" y="1184.9" width="2.5" height="415.2"/><rect x="812.8" y="1190.2" width="2.5" height="409.9"/><rect x="814.8" y="1195.5" width="2.5" height="404.6"/><rect x="816.8" y="1200.5" width="2.5" height="399.6"/><rect x="818.8" y="1205.5" width="2.5" height="394.6"/><rect x="820.8" y="1210.4" width="2.5" height="389.7"/><rect x="822.8" y="1215.1" width="2.5" height="385"/><rect x="824.8" y="1219.7" width="2.5" height="380.4"/><rect x="826.8" y="1224.2" width="2.5" height="375.9"/><rect x="828.8" y="1228.6" width="2.5" height="371.5"/><rect x="830.8" y="1232.9" width="2.5" height="367.2"/><rect x="832.8" y="1237.1" width="2.5" height="363"/><rect x="834.8" y="1241.2" width="2.5" height="358.9"/><rect x="836.8" y="1245.2" width="2.5" height="354.9"/><rect x="838.8" y="1249.1" width="2.5" height="351"/><rect x="840.8" y="1252.9" width="2.5" height="347.2"/><rect x="842.8" y="1256.7" width="2.5" height="343.4"/><rect x="844.8" y="1260.4" width="2.5" height="339.7"/><rect x="846.8" y="1264" width="2.5" height="336.1"/><rect x="848.8" y="1267.5" width="2.5" height="332.6"/><rect x="850.8" y="1270.9" width="2.5" height="329.2"/><rect x="852.8" y="1274.3" width="2.5" height="325.8"/><rect x="854.8" y="1277.6" width="2.5" height="322.5"/><rect x="856.8" y="1280.9" width="2.5" height="319.2"/><rect x="858.8" y="1284" width="2.5" height="316.1"/><rect x="860.8" y="1287.2" width="2.5" height="312.9"/><rect x="862.8" y="1290.2" width="2.5" height="309.9"/><rect x="864.8" y="1293.2" width="2.5" height="306.9"/><rect x="866.8" y="1296.1" width="2.5" height="304"/><rect x="868.8" y="1299" width="2.5" height="301.1"/><rect x="870.8" y="1301.8" width="2.5" height="298.3"/><rect x="872.8" y="1304.6" width="2.5" height="295.5"/><rect x="874.8" y="1307.3" width="2.5" height="292.8"/><rect x="876.8" y="1310" width="2.5" height="290.1"/><rect x="878.8" y="1312.6" width="2.5" height="287.5"/><rect x="880.8" y="1315.2" width="2.5" height="284.9"/><rect x="882.8" y="1317.8" width="2.5" height="282.3"/><rect x="884.8" y="1320.2" width="2.5" height="279.9"/><rect x="886.8" y="1322.7" width="2.5" height="277.4"/><rect x="888.8" y="1325.1" width="2.5" height="275"/><rect x="890.8" y="1327.4" width="2.5" height="272.7"/><rect x="892.8" y="1329.8" width="2.5" height="270.3"/><rect x="894.8" y="1332" width="2.5" height="268.1"/><rect x="896.8" y="1334.3" width="2.5" height="265.8"/><rect x="898.8" y="1336.5" width="2.5" height="263.6"/><rect x="900.8" y="1338.7" width="2.5" height="261.4"/><rect x="902.8" y="1340.8" width="2.5" height="259.3"/><rect x="904.8" y="1342.9" width="2.5" height="257.2"/><rect x="906.8" y="1345" width="2.5" height="255.1"/><rect x="908.8" y="1347" width="2.5" height="253.1"/><rect x="910.8" y="1349" width="2.5" height="251.1"/><rect x="912.8" y="1351" width="2.5" height="249.1"/><rect x="914.8" y="1352.9" width="2.5" height="247.2"/><rect x="916.8" y="1354.8" width="2.5" height="245.3"/><rect x="918.8" y="1356.7" width="2.5" height="243.4"/><rect x="920.8" y="1358.5" width="2.5" height="241.6"/><rect x="922.8" y="1360.4" width="2.5" height="239.7"/><rect x="924.8" y="1362.2" width="2.5" height="237.9"/><rect x="926.8" y="1363.9" width="2.5" height="236.2"/><rect x="928.8" y="1365.7" width="2.5" height="234.4"/><rect x="930.8" y="1367.4" width="2.5" height="232.7"/><rect x="932.8" y="1369.1" width="2.5" height="231"/><rect x="934.8" y="1370.8" width="2.5" height="229.3"/><rect x="936.8" y="1372.4" width="2.5" height="227.7"/><rect x="938.8" y="1374" width="2.5" height="226.1"/><rect x="940.8" y="1375.6" width="2.5" height="224.5"/><rect x="942.8" y="1377.2" width="2.5" height="222.9"/><rect x="944.8" y="1378.7" width="2.5" height="221.4"/><rect x="946.8" y="1380.3" width="2.5" height="219.8"/><rect x="948.8" y="1381.8" width="2.5" height="218.3"/><rect x="950.8" y="1383.3" width="2.5" height="216.8"/><rect x="952.8" y="1384.7" width="2.5" height="215.4"/><rect x="954.8" y="1386.2" width="2.5" height="213.9"/><rect x="956.8" y="1387.6" width="2.5" height="212.5"/><rect x="958.8" y="1389" width="2.5" height="211.1"/><rect x="960.8" y="1390.4" width="2.5" height="209.7"/><rect x="962.8" y="1391.8" width="2.5" height="208.3"/><rect x="964.8" y="1393.2" width="2.5" height="206.9"/><rect x="966.8" y="1394.5" width="2.5" height="205.6"/><rect x="968.8" y="1395.8" width="2.5" height="204.3"/><rect x="970.8" y="1397.1" width="2.5" height="203"/><rect x="972.8" y="1398.4" width="2.5" height="201.7"/><rect x="974.8" y="1399.7" width="2.5" height="200.4"/><rect x="976.8" y="1401" width="2.5" height="199.1"/><rect x="978.8" y="1402.2" width="2.5" height="197.9"/><rect x="980.8" y="1403.4" width="2.5" height="196.7"/><rect x="982.8" y="1404.6" width="2.5" height="195.5"/><rect x="984.8" y="1405.8" width="2.5" height="194.3"/><rect x="986.8" y="1407" width="2.5" height="193.1"/><rect x="988.8" y="1408.2" width="2.5" height="191.9"/><rect x="990.8" y="1409.3" width="2.5" height="190.8"/><rect x="992.8" y="1410.5" width="2.5" height="189.6"/><rect x="994.8" y="1411.6" width="2.5" height="188.5"/><rect x="996.8" y="1412.7" width="2.5" height="187.4"/><rect x="998.8" y="1413.8" width="2.5" height="186.3"/><rect x="1000.8" y="1414.9" width="2.5" height="185.2"/><rect x="1002.8" y="1416" width="2.5" height="184.1"/><rect x="1004.8" y="1417" width="2.5" height="183.1"/><rect x="1006.8" y="1418.1" width="2.5" height="182"/><rect x="1008.8" y="1419.1" width="2.5" height="181"/><rect x="1010.8" y="1420.1" width="2.5" height="180"/><rect x="1012.8" y="1421.1" width="2.5" height="179"/><rect x="1014.8" y="1422.1" width="2.5" height="178"/><rect x="1016.8" y="1423.1" width="2.5" height="177"/><rect x="1018.8" y="1424.1" width="2.5" height="176"/><rect x="1020.8" y="1425.1" width="2.5" height="175"/><rect x="1022.8" y="1426" width="2.5" height="174.1"/><rect x="1024.8" y="1427" width="2.5" height="173.1"/><rect x="1026.8" y="1427.9" width="2.5" height="172.2"/><rect x="1028.8" y="1428.9" width="2.5" height="171.2"/><rect x="1030.8" y="1429.8" width="2.5" height="170.3"/><rect x="1032.8" y="1430.7" width="2.5" height="169.4"/><rect x="1034.8" y="1431.6" width="2.5" height="168.5"/><rect x="1036.8" y="1432.5" width="2.5" height="167.6"/><rect x="1038.8" y="1433.4" width="2.5" height="166.7"/><rect x="1040.8" y="1434.2" width="2.5" height="165.9"/><rect x="1042.8" y="1435.1" width="2.5" height="165"/><rect x="1044.8" y="1435.9" width="2.5" height="164.2"/><rect x="1046.8" y="1436.8" width="2.5" height="163.3"/><rect x="1048.8" y="1437.6" width="2.5" height="162.5"/><rect x="1050.8" y="1438.4" width="2.5" height="161.7"/><rect x="1052.8" y="1439.3" width="2.5" height="160.8"/><rect x="1054.8" y="1440.1" width="2.5" height="160"/><rect x="1056.8" y="1440.9" width="2.5" height="159.2"/><rect x="1058.8" y="1441.7" width="2.5" height="158.4"/><rect x="1060.8" y="1442.5" width="2.5" height="157.6"/><rect x="1062.8" y="1443.2" width="2.5" height="156.9"/><rect x="1064.8" y="1444" width="2.5" height="156.1"/><rect x="1066.8" y="1444.8" width="2.5" height="155.3"/><rect x="1068.8" y="1445.5" width="2.5" height="154.6"/><rect x="1070.8" y="1446.3" width="2.5" height="153.8"/><rect x="1072.8" y="1447" width="2.5" height="153.1"/><rect x="1074.8" y="1447.8" width="2.5" height="152.3"/><rect x="1076.8" y="1448.5" width="2.5" height="151.6"/><rect x="1078.8" y="1449.2" width="2.5" height="150.9"/><rect x="1080.8" y="1449.9" width="2.5" height="150.2"/><rect x="1082.8" y="1450.6" width="2.5" height="149.5"/><rect x="1084.8" y="1451.3" width="2.5" height="148.8"/><rect x="1086.8" y="1452" width="2.5" height="148.1"/><rect x="1088.8" y="1452.7" width="2.5" height="147.4"/><rect x="1090.8" y="1453.4" width="2.5" height="146.7"/><rect x="1092.8" y="1454.1" width="2.5" height="146"/><rect x="1094.8" y="1454.7" width="2.5" height="145.4"/><rect x="1096.8" y="1455.4" width="2.5" height="144.7"/><rect x="1098.8" y="1456" width="2.5" height="144.1"/><rect x="1100.8" y="1456.7" width="2.5" height="143.4"/><rect x="1102.8" y="1457.3" width="2.5" height="142.8"/><rect x="1104.8" y="1458" width="2.5" height="142.1"/><rect x="1106.8" y="1458.6" width="2.5" height="141.5"/><rect x="1108.8" y="1459.2" width="2.5" height="140.9"/><rect x="1110.8" y="1459.9" width="2.5" height="140.2"/><rect x="1112.8" y="1460.5" width="2.5" height="139.6"/><rect x="1114.8" y="1461.1" width="2.5" height="139"/><rect x="1116.8" y="1461.7" width="2.5" height="138.4"/><rect x="1118.8" y="1462.3" width="2.5" height="137.8"/><rect x="1120.8" y="1462.9" width="2.5" height="137.2"/><rect x="1122.8" y="1463.5" width="2.5" height="136.6"/><rect x="1124.8" y="1464.1" width="2.5" height="136"/><rect x="1126.8" y="1464.6" width="2.5" height="135.5"/><rect x="1128.8" y="1465.2" width="2.5" height="134.9"/><rect x="1130.8" y="1465.8" width="2.5" height="134.3"/><rect x="1132.8" y="1466.4" width="2.5" height="133.7"/><rect x="1134.8" y="1466.9" width="2.5" height="133.2"/><rect x="1136.8" y="1467.5" width="2.5" height="132.6"/><rect x="1138.8" y="1468" width="2.5" height="132.1"/><rect x="1140.8" y="1468.6" width="2.5" height="131.5"/><rect x="1142.8" y="1469.1" width="2.5" height="131"/><rect x="1144.8" y="1469.7" width="2.5" height="130.4"/><rect x="1146.8" y="1470.2" width="2.5" height="129.9"/><rect x="1148.8" y="1470.7" width="2.5" height="129.4"/><rect x="1150.8" y="1471.2" width="2.5" height="128.9"/><rect x="1152.8" y="1471.8" width="2.5" height="128.3"/><rect x="1154.8" y="1472.3" width="2.5" height="127.8"/><rect x="1156.8" y="1472.8" width="2.5" height="127.3"/><rect x="1158.8" y="1473.3" width="2.5" height="126.8"/><rect x="1160.8" y="1473.8" width="2.5" height="126.3"/><rect x="1162.8" y="1474.3" width="2.5" height="125.8"/><rect x="1164.8" y="1474.8" width="2.5" height="125.3"/><rect x="1166.8" y="1475.3" width="2.5" height="124.8"/><rect x="1168.8" y="1475.8" width="2.5" height="124.3"/><rect x="1170.8" y="1476.3" width="2.5" height="123.8"/></g></g><path d="M658.8 1394L928.6 1394L941.1 1395.8L953.5 1399.2L967.9 1407.9L984.4 1422.5L1000.8 1435.6L1006.6 1440.7L1022.7 1452.4L1034.4 1462.9L1051.9 1476.7L1066.5 1487.4L1081.1 1498.5L1097.2 1508.7L1105 1515.1L1117.7 1524.2L1130.1 1531.9L1144.7 1543.7L1157.1 1556.6L1170.3 1568.9" fill="none" stroke="#0a0a0a" stroke-width="2.4" stroke-linejoin="round"/><line x1="655.75" y1="1357.3" x2="1170.3" y2="1357.3" stroke="#4a4444" stroke-width="1"/><line x1="658.75" y1="1357.3" x2="658.75" y2="1603.1" stroke="#4a4444" stroke-width="1"/><line x1="1170.3" y1="1357.3" x2="1170.3" y2="1568.9" stroke="#4a4444" stroke-width="1"/><line x1="654.8" y1="1600.1" x2="658.75" y2="1600.1" stroke="#444" stroke-width="0.8"/><line x1="656.5" y1="1592" x2="658.75" y2="1592" stroke="#444" stroke-width="0.8"/><line x1="656.5" y1="1583.9" x2="658.75" y2="1583.9" stroke="#444" stroke-width="0.8"/><line x1="656.5" y1="1575.8" x2="658.75" y2="1575.8" stroke="#444" stroke-width="0.8"/><line x1="656.5" y1="1567.7" x2="658.75" y2="1567.7" stroke="#444" stroke-width="0.8"/><line x1="654.8" y1="1559.6" x2="658.75" y2="1559.6" stroke="#444" stroke-width="0.8"/><line x1="656.5" y1="1551.5" x2="658.75" y2="1551.5" stroke="#444" stroke-width="0.8"/><line x1="656.5" y1="1543.5" x2="658.75" y2="1543.5" stroke="#444" stroke-width="0.8"/><line x1="656.5" y1="1535.4" x2="658.75" y2="1535.4" stroke="#444" stroke-width="0.8"/><line x1="656.5" y1="1527.3" x2="658.75" y2="1527.3" stroke="#444" stroke-width="0.8"/><line x1="654.8" y1="1519.2" x2="658.75" y2="1519.2" stroke="#444" stroke-width="0.8"/><line x1="656.5" y1="1511.1" x2="658.75" y2="1511.1" stroke="#444" stroke-width="0.8"/><line x1="656.5" y1="1503" x2="658.75" y2="1503" stroke="#444" stroke-width="0.8"/><line x1="656.5" y1="1494.9" x2="658.75" y2="1494.9" stroke="#444" stroke-width="0.8"/><line x1="656.5" y1="1486.8" x2="658.75" y2="1486.8" stroke="#444" stroke-width="0.8"/><line x1="654.8" y1="1478.7" x2="658.75" y2="1478.7" stroke="#444" stroke-width="0.8"/><line x1="656.5" y1="1470.6" x2="658.75" y2="1470.6" stroke="#444" stroke-width="0.8"/><line x1="656.5" y1="1462.5" x2="658.75" y2="1462.5" stroke="#444" stroke-width="0.8"/><line x1="656.5" y1="1454.4" x2="658.75" y2="1454.4" stroke="#444" stroke-width="0.8"/><line x1="656.5" y1="1446.4" x2="658.75" y2="1446.4" stroke="#444" stroke-width="0.8"/><line x1="654.8" y1="1438.3" x2="658.75" y2="1438.3" stroke="#444" stroke-width="0.8"/><line x1="656.5" y1="1430.2" x2="658.75" y2="1430.2" stroke="#444" stroke-width="0.8"/><line x1="656.5" y1="1422.1" x2="658.75" y2="1422.1" stroke="#444" stroke-width="0.8"/><line x1="656.5" y1="1414" x2="658.75" y2="1414" stroke="#444" stroke-width="0.8"/><line x1="656.5" y1="1405.9" x2="658.75" y2="1405.9" stroke="#444" stroke-width="0.8"/><line x1="654.8" y1="1397.8" x2="658.75" y2="1397.8" stroke="#444" stroke-width="0.8"/><line x1="656.5" y1="1389.7" x2="658.75" y2="1389.7" stroke="#444" stroke-width="0.8"/><line x1="656.5" y1="1381.6" x2="658.75" y2="1381.6" stroke="#444" stroke-width="0.8"/><line x1="656.5" y1="1373.5" x2="658.75" y2="1373.5" stroke="#444" stroke-width="0.8"/><line x1="656.5" y1="1365.4" x2="658.75" y2="1365.4" stroke="#444" stroke-width="0.8"/><line x1="654.8" y1="1357.3" x2="658.75" y2="1357.3" stroke="#444" stroke-width="0.8"/><line x1="658.8" y1="1600.1" x2="658.8" y2="1604.1" stroke="#444" stroke-width="0.8"/><line x1="673.4" y1="1600.1" x2="673.4" y2="1602.3" stroke="#444" stroke-width="0.8"/><line x1="688" y1="1600.1" x2="688" y2="1602.3" stroke="#444" stroke-width="0.8"/><line x1="702.6" y1="1600.1" x2="702.6" y2="1602.3" stroke="#444" stroke-width="0.8"/><line x1="717.2" y1="1600.1" x2="717.2" y2="1602.3" stroke="#444" stroke-width="0.8"/><line x1="731.8" y1="1600.1" x2="731.8" y2="1604.1" stroke="#444" stroke-width="0.8"/><line x1="746.4" y1="1600.1" x2="746.4" y2="1602.3" stroke="#444" stroke-width="0.8"/><line x1="761.1" y1="1600.1" x2="761.1" y2="1602.3" stroke="#444" stroke-width="0.8"/><line x1="775.7" y1="1600.1" x2="775.7" y2="1602.3" stroke="#444" stroke-width="0.8"/><line x1="790.3" y1="1600.1" x2="790.3" y2="1602.3" stroke="#444" stroke-width="0.8"/><line x1="804.9" y1="1600.1" x2="804.9" y2="1604.1" stroke="#444" stroke-width="0.8"/><line x1="819.5" y1="1600.1" x2="819.5" y2="1602.3" stroke="#444" stroke-width="0.8"/><line x1="834.1" y1="1600.1" x2="834.1" y2="1602.3" stroke="#444" stroke-width="0.8"/><line x1="848.8" y1="1600.1" x2="848.8" y2="1602.3" stroke="#444" stroke-width="0.8"/><line x1="863.4" y1="1600.1" x2="863.4" y2="1602.3" stroke="#444" stroke-width="0.8"/><line x1="878" y1="1600.1" x2="878" y2="1604.1" stroke="#444" stroke-width="0.8"/><line x1="892.6" y1="1600.1" x2="892.6" y2="1602.3" stroke="#444" stroke-width="0.8"/><line x1="907.2" y1="1600.1" x2="907.2" y2="1602.3" stroke="#444" stroke-width="0.8"/><line x1="921.8" y1="1600.1" x2="921.8" y2="1602.3" stroke="#444" stroke-width="0.8"/><line x1="936.4" y1="1600.1" x2="936.4" y2="1602.3" stroke="#444" stroke-width="0.8"/><line x1="951.1" y1="1600.1" x2="951.1" y2="1604.1" stroke="#444" stroke-width="0.8"/><line x1="965.7" y1="1600.1" x2="965.7" y2="1602.3" stroke="#444" stroke-width="0.8"/><line x1="980.3" y1="1600.1" x2="980.3" y2="1602.3" stroke="#444" stroke-width="0.8"/><line x1="994.9" y1="1600.1" x2="994.9" y2="1602.3" stroke="#444" stroke-width="0.8"/><line x1="1009.5" y1="1600.1" x2="1009.5" y2="1602.3" stroke="#444" stroke-width="0.8"/><line x1="1024.1" y1="1600.1" x2="1024.1" y2="1604.1" stroke="#444" stroke-width="0.8"/><line x1="1038.8" y1="1600.1" x2="1038.8" y2="1602.3" stroke="#444" stroke-width="0.8"/><line x1="1053.4" y1="1600.1" x2="1053.4" y2="1602.3" stroke="#444" stroke-width="0.8"/><line x1="1068" y1="1600.1" x2="1068" y2="1602.3" stroke="#444" stroke-width="0.8"/><line x1="1082.6" y1="1600.1" x2="1082.6" y2="1602.3" stroke="#444" stroke-width="0.8"/><line x1="1097.2" y1="1600.1" x2="1097.2" y2="1604.1" stroke="#444" stroke-width="0.8"/><line x1="1111.8" y1="1600.1" x2="1111.8" y2="1602.3" stroke="#444" stroke-width="0.8"/><line x1="1126.5" y1="1600.1" x2="1126.5" y2="1602.3" stroke="#444" stroke-width="0.8"/><line x1="1141.1" y1="1600.1" x2="1141.1" y2="1602.3" stroke="#444" stroke-width="0.8"/><line x1="1155.7" y1="1600.1" x2="1155.7" y2="1602.3" stroke="#444" stroke-width="0.8"/><line x1="1170.3" y1="1600.1" x2="1170.3" y2="1604.1" stroke="#444" stroke-width="0.8"/><text x="652" y="1602.8" font-size="7.2" text-anchor="end" fill="#333" clip-path="url(#xl2)">0.0</text><text x="652" y="1562.3" font-size="7.2" text-anchor="end" fill="#333" clip-path="url(#xl2)">0.2</text><text x="652" y="1521.9" font-size="7.2" text-anchor="end" fill="#333" clip-path="url(#xl2)">0.4</text><text x="652" y="1481.4" font-size="7.2" text-anchor="end" fill="#333" clip-path="url(#xl2)">0.6</text><text x="652" y="1441" font-size="7.2" text-anchor="end" fill="#333" clip-path="url(#xl2)">0.8</text><text x="652" y="1400.5" font-size="7.2" text-anchor="end" fill="#333" clip-path="url(#xl2)">1.0</text><text x="652" y="1360" font-size="7.2" text-anchor="end" fill="#333" clip-path="url(#xl2)">1.2</text><text x="660.2" y="1610.6" font-size="7" text-anchor="middle" fill="#333" clip-path="url(#xl2)">0</text><text x="731.8" y="1610.6" font-size="7" text-anchor="middle" fill="#333" clip-path="url(#xl2)">500</text><text x="804.9" y="1610.6" font-size="7" text-anchor="middle" fill="#333" clip-path="url(#xl2)">1000</text><text x="878" y="1610.6" font-size="7" text-anchor="middle" fill="#333" clip-path="url(#xl2)">1500</text><text x="951.1" y="1610.6" font-size="7" text-anchor="middle" fill="#333" clip-path="url(#xl2)">2000</text><text x="1024.1" y="1610.6" font-size="7" text-anchor="middle" fill="#333" clip-path="url(#xl2)">2500</text><text x="1097.2" y="1610.6" font-size="7" text-anchor="middle" fill="#333" clip-path="url(#xl2)">3000</text><text x="1170.3" y="1610.6" font-size="7" text-anchor="middle" fill="#333" clip-path="url(#xl2)">3500</text><clipPath id="xl2"><rect x="642.3" y="1340" width="560" height="270.2"/></clipPath><text x="904" y="1339.3" font-size="8.2" text-anchor="middle" font-weight="bold" fill="#111">Avg_OutputPower</text><text x="913" y="1620.2" font-size="7" text-anchor="middle" fill="#222">Speed[rpm]</text><text transform="translate(639.5 1478.5) rotate(-90)" font-size="6.8" text-anchor="middle" fill="#222">Shaft Torque [NewtonMeter]</text><path d="M948.9 1495.7H953.3L951.1 1499.1Z" fill="none" stroke="#333" stroke-width="0.7"/><text x="951.6" y="1494.4" font-size="6" text-anchor="middle" fill="#222">m2</text><path d="M1021.9 1526.1H1026.3L1024.1 1529.5Z" fill="none" stroke="#333" stroke-width="0.7"/><text x="1024.6" y="1524.8" font-size="6" text-anchor="middle" fill="#222">m1</text><rect x="675.5" y="1361.1" width="148.8" height="29.7" fill="#b8b8b8"/><rect x="673.5" y="1359.1" width="148.8" height="29.7" fill="#fff" stroke="#4a4444" stroke-width="0.9"/><line x1="701.4" y1="1359.1" x2="701.4" y2="1388.8" stroke="#8a8a8a" stroke-width="0.7"/><line x1="733.7" y1="1359.1" x2="733.7" y2="1388.8" stroke="#8a8a8a" stroke-width="0.7"/><line x1="793.6" y1="1359.1" x2="793.6" y2="1388.8" stroke="#8a8a8a" stroke-width="0.7"/><line x1="673.5" y1="1379.7" x2="822.3" y2="1379.7" stroke="#8a8a8a" stroke-width="0.7"/><text x="687.5" y="1367.2" font-size="6.6" text-anchor="middle" fill="#333">Name</text><text x="717.5" y="1367.2" font-size="6.6" text-anchor="middle" fill="#333">X [rpm]</text><text x="763.5" y="1367.2" font-size="6.6" text-anchor="middle" fill="#333">Y [NewtonMeter]</text><text x="808" y="1367.2" font-size="6.6" text-anchor="middle" fill="#333">Z [W]</text><text x="687.5" y="1376.8" font-size="6.6" text-anchor="middle" fill="#333">m1</text><text x="717.5" y="1376.8" font-size="6.6" text-anchor="middle" fill="#333">2500.0000</text><text x="763.5" y="1376.8" font-size="6.6" text-anchor="middle" fill="#333">0.3500</text><text x="808" y="1376.8" font-size="6.6" text-anchor="middle" fill="#333">91.4788</text><text x="687.5" y="1387" font-size="6.6" text-anchor="middle" fill="#333">m2</text><text x="717.5" y="1387" font-size="6.6" text-anchor="middle" fill="#333">2000.0000</text><text x="763.5" y="1387" font-size="6.6" text-anchor="middle" fill="#333">0.5000</text><text x="808" y="1387" font-size="6.6" text-anchor="middle" fill="#333">104.6509</text><text x="1033" y="1343.6" font-size="7.2" fill="#333" textLength="65.5" lengthAdjust="spacingAndGlyphs">NEW07_PM_MotorMo</text><rect x="1098.7" y="1330" width="83" height="198.3" fill="#fff"/><rect x="1102.3" y="1333.2" width="76.5" height="192.5" fill="#fff" stroke="#4a4444" stroke-width="0.9"/><line x1="1102.3" y1="1364.2" x2="1178.8" y2="1364.2" stroke="#4a4444" stroke-width="0.8"/><line x1="1102.3" y1="1375.1" x2="1178.8" y2="1375.1" stroke="#4a4444" stroke-width="0.8"/><line x1="1102.3" y1="1514.1" x2="1178.8" y2="1514.1" stroke="#4a4444" stroke-width="0.8"/><text x="1105" y="1345.2" font-size="8.2" font-weight="bold" fill="#111" textLength="70" lengthAdjust="spacingAndGlyphs">Avg_OutputPow...</text><text x="1106.5" y="1358.6" font-size="8.6" font-weight="bold" fill="#111">[W]</text><text x="1105.5" y="1372.3" font-size="7.6" fill="#333" textLength="66" lengthAdjust="spacingAndGlyphs">Max: 2.13074E+02</text><text x="1105.5" y="1522.5" font-size="7.6" fill="#333" textLength="66" lengthAdjust="spacingAndGlyphs">Min: 0.00000E+00</text><defs><linearGradient id="plg" x1="0" y1="0" x2="0" y2="1"><stop offset="0" stop-color="#e4181c"/><stop offset="0.05" stop-color="#e5351b"/><stop offset="0.1" stop-color="#eb601a"/><stop offset="0.15" stop-color="#f39a20"/><stop offset="0.2" stop-color="#f7d92c"/><stop offset="0.25" stop-color="#e5e52f"/><stop offset="0.3" stop-color="#c8db2d"/><stop offset="0.35" stop-color="#a4cc2b"/><stop offset="0.4" stop-color="#7dbc28"/><stop offset="0.45" stop-color="#71b72b"/><stop offset="0.5" stop-color="#6db62f"/><stop offset="0.55" stop-color="#6ab851"/><stop offset="0.6" stop-color="#68bc79"/><stop offset="0.65" stop-color="#6abfa2"/><stop offset="0.7" stop-color="#6cc4cb"/><stop offset="0.75" stop-color="#4cbcde"/><stop offset="0.8" stop-color="#28b2ee"/><stop offset="0.85" stop-color="#298fd6"/><stop offset="0.9" stop-color="#2663b4"/><stop offset="0.95" stop-color="#2151a7"/><stop offset="1" stop-color="#1f4ca4"/></linearGradient></defs><rect x="1106.5" y="1383.1" width="12.1" height="121.9" fill="url(#plg)"/><text x="1120.4" y="1386.1" font-size="8.4" fill="#333" textLength="46.4" lengthAdjust="spacingAndGlyphs">2.25000E+02</text><text x="1120.4" y="1398.3" font-size="8.4" fill="#333" textLength="46.4" lengthAdjust="spacingAndGlyphs">1.98529E+02</text><text x="1120.4" y="1410.5" font-size="8.4" fill="#333" textLength="46.4" lengthAdjust="spacingAndGlyphs">1.76471E+02</text><text x="1120.4" y="1422.7" font-size="8.4" fill="#333" textLength="46.4" lengthAdjust="spacingAndGlyphs">1.54412E+02</text><text x="1120.4" y="1434.9" font-size="8.4" fill="#333" textLength="46.4" lengthAdjust="spacingAndGlyphs">1.32353E+02</text><text x="1120.4" y="1447" font-size="8.4" fill="#333" textLength="46.4" lengthAdjust="spacingAndGlyphs">1.10294E+02</text><text x="1120.4" y="1459.2" font-size="8.4" fill="#333" textLength="46.4" lengthAdjust="spacingAndGlyphs">8.82353E+01</text><text x="1120.4" y="1471.4" font-size="8.4" fill="#333" textLength="46.4" lengthAdjust="spacingAndGlyphs">6.61765E+01</text><text x="1120.4" y="1483.6" font-size="8.4" fill="#333" textLength="46.4" lengthAdjust="spacingAndGlyphs">4.41176E+01</text><text x="1120.4" y="1495.8" font-size="8.4" fill="#333" textLength="46.4" lengthAdjust="spacingAndGlyphs">2.20588E+01</text><text x="1120.4" y="1508" font-size="8.4" fill="#333" textLength="46.4" lengthAdjust="spacingAndGlyphs">0.00000E+00</text><text x="915" y="1662.5" font-size="20" text-anchor="middle" fill="#555" textLength="107" lengthAdjust="spacingAndGlyphs">Power MAP</text>
</svg>
</body></html>
